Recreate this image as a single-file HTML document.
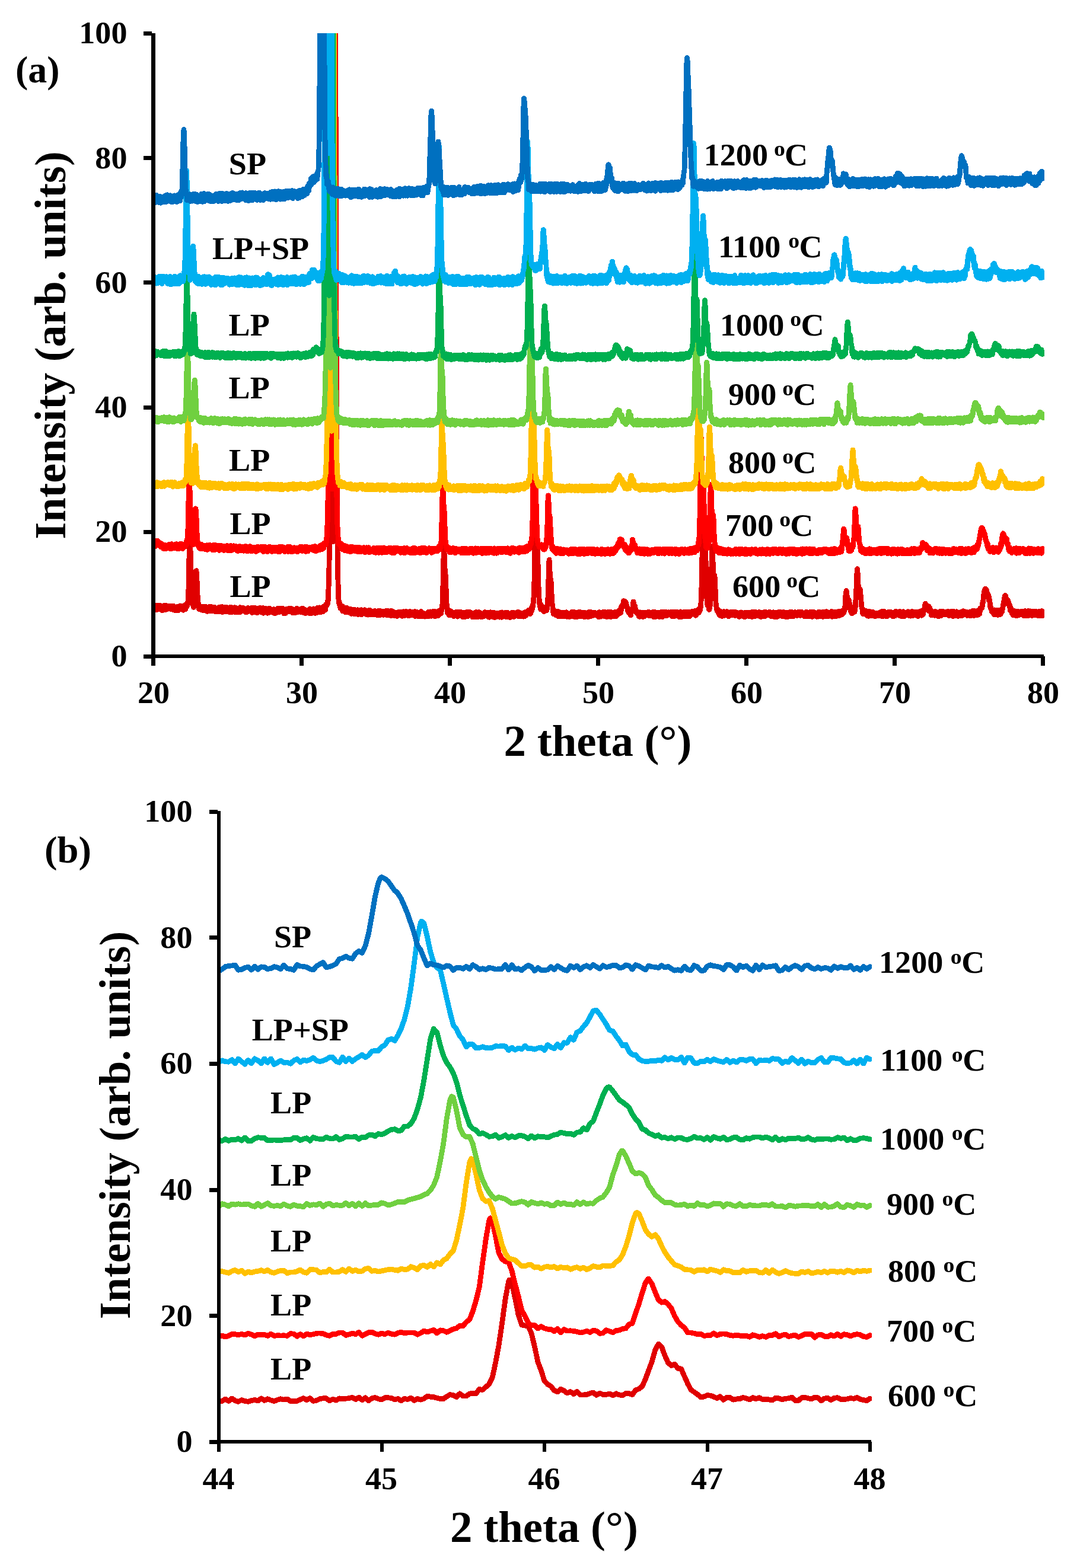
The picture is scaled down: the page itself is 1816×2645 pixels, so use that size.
<!DOCTYPE html>
<html lang="en"><head><meta charset="utf-8"><title>XRD patterns</title>
<style>html,body{margin:0;padding:0;background:#fff}svg{display:block}</style></head>
<body>
<svg xmlns="http://www.w3.org/2000/svg" width="1816" height="2645" viewBox="0 0 1816 2645">
<defs><clipPath id="ca"><rect x="256" y="56" width="1505" height="1100"/></clipPath><clipPath id="cb"><rect x="367" y="1300" width="1103" height="1200"/></clipPath></defs>
<rect width="1816" height="2645" fill="#fff"/>
<g clip-path="url(#ca)" fill="none" stroke-width="8.8" stroke-linejoin="round" stroke-linecap="round" shape-rendering="crispEdges">
<path d="M258.5,1028.1l.5-2.7.5-2.8.5.6.5-.2.5 2.6.5-3.2.5 2.4.5 4 .5-3.3.5 3.6.5-7.8.5-.1.5 5.4.5.2.5-4 .5 5 .5.2.5-.1.5-1.4.5-2.4.5-3 .5 6.7.5-6.6.5 3.6.5-3.1.5.8.5 5.8.5-4.3.5 4.6.5 1.1.5-3.4.5-3.4.5 1.9.5 3.3.5-5.7.5-.7.5 6 .5-1.8.5-1.7.5-2.3.5 6.8.5-3.7.5-3.7.5 3.2.5-.9.5-.5.5 2.4.5 1.9.5-2.7.5.6.5 1.6.5-4.5.5 4.4.5-1.1.5-2.4.5-.5.5-.6.5 2.1.5 3.5.5-5.2.5-.6.5 1.8.5-.5.5 2.3.5.1.5-.7.5 3.8.5-4.7.5-1.6.5 6.2.5-5.2.5.4.5 5.2.5.6.5-4.8.5 3.3.5-.8.5-2.7.5-.3.5-.9.5 1.6.5 2.1.5 2.8.5-.9.5-.7.5-2.9.5-1.7.5 4.5.5-1.7.5-4.8.5 4.7.5-2.8.5.8.5-.3.5 1.5.5-.6.5-1.4.5 4.7.5-5.7.5-.7.5 7.2.5-1.4.5-.6.5 1.3.5-.6.5-4.6.5 4.4.5.2.5-8 .5 4.4.5-1.7.5 0 .5.4.5-2 .5.8.5-5.9.5-1.5.5-7.3.5-15.1.5-24.1.5-32.3.5-23.8.3-8.2.2-2 .5 7.3.5 14.4.5 25.5.5 17.2.5 24.7.5 14.4.5 8.1.5 4.1.5-3.2.5.9.5 4.5.5 3.2.5 1.9.5-1.1.5-3.3.5-5.8.5-5.4.5-11.2.5-12.5.5-11.4.5-11 0 .3.5-.6.5 7.7.5 5.5.5 19 .5 6.6.5 11 .5 1.8.5 9.1.5-4.7.5 9 .5-5.8.5.8.5 2.1.5 3.3.5-1.6.5-.4.5 2.3.5.6.5-5.9.5 2.7.5 2.6.5-3.1.5 0 .5 4.5.5-3.9.5.1.5 4.2.5-1.6.5-4.9.5 2.5.5 3.2.5-1.5.5-.5.5-2.2.5-1.3.5 6.9.5.4.5-3.5.5 3.8.5-1.2.5.5.5.1.5-4.7.5 4.7.5-4.1.5-3.5.5 7.3.5-5.4.5 1.5.5 3.7.5-6.9.5 1.9.5 3.2.5-4.5.5 7 .5-6.4.5-.1.5 6.4.5-7 .5 1.2.5-1.2.5 5.6.5-4 .5-.3.5 3.8.5 2.8.5.2.5-4.3.5-.4.5 3.8.5-4.5.5 5.1.5-3.7.5-.3.5 2.7.5 1.4.5-7.5.5.5.5 2.3.5 5 .5-4.4.5-3.9.5 1.8.5.7.5 5.7.5-4.7.5 3.1.5-6.7.5 8.7.5-1.9.5-5.8.5 6.7.5-1.5.5-.1.5-5 .5 1.6.5-2.1.5 6.6.5.9.5-2.2.5-3.7.5 1.3.5-2.8.5 2 .5 5.6.5-2.1.5 1 .5-.5.5-3.5.5 1.9.5-2.7.5 6.5.5-7.8.5 6.6.5-5.1.5-.9.5 7.1.5-4.4.5-3.8.5 8.5.5-4.3.5.7.5.4.5 1.6.5.2.5-.8.5.5.5-.7.5-5.3.5-.4.5 6.1.5 2 .5-2.1.5-5.2.5 6.1.5-4.3.5 5 .5-2.3.5 1.7.5-4 .5 2.2.5-3.5.5 2.2.5 1.1.5 3.3.5-7.2.5 7.1.5-4 .5-4.3.5 1.7.5 3.9.5-5.1.5 6 .5-2.9.5.1.5-1.3.5 3.9.5-1 .5.7.5-5.3.5 1.6.5 3.6.5-3.9.5 1.4.5 3.3.5-2.2.5 3.6.5-1 .5 1.2.5 0 .5-4.7.5-1.9.5-.1.5 5.5.5-6.4.5 5.4.5-3.1.5.8.5 1.1.5-1.9.5-1.7.5 1.7.5 1.6.5-3 .5 1 .5 3.3.5-5.3.5 5 .5 3.3.5-8.2.5.2.5 3.6.5-1.8.5.5.5 5.2.5-6.1.5 1.5.5-3 .5 4.3.5 1.8.5-4.3.5 1.9.5-2.8.5 7.3.5-5.6.5-2 .5 6.5.5.8.5-3.5.5-1.5.5.2.5.9.5 1.7.5-3.2.5-2.5.5 4.3.5 1 .5-5.1.5 7 .5-3.4.5-2.4.5.4.5.4.5.6.5 2.1.5-4.6.5 8.5.5-3.7.5-.2.5-2.4.5 3.9.5.8.5-2.2.5-1.7.5 1 .5-3.1.5 3.6.5 2.4.5-3.9.5 2.2.5 3.3.5-3.3.5 2.5.5-4.6.5-2.3.5 1.5.5-2 .5 7.2.5-6.1.5.6.5 4.7.5-2.1.5 2.7.5-1.2.5-1.9.5 1.2.5 0 .5-2.8.5.3.5 4.9.5-4 .5-1.8.5 6.6.5-6.3.5 6.4.5-3.6.5.5.5 3.2.5-.5.5-5.3.5 3.6.5-2.2.5 3.1.5-4 .5-2.8.5 1.7.5 3.4.5-5.2.5 5.3.5.7.5-1.3.5-4.9.5 5.2.5.9.5-2.2.5-.8.5-1.1.5.4.5.4.5 2.3.5-.2.5-4.8.5 4.3.5-2.4.5 3.6.5 3.1.5-3.4.5-1.1.5 1.1.5 1.6.5.5.5 1 .5-5.8.5 1.6.5-2.6.5-.4.5 1 .5-.4.5-.9.5-.1.5.8.5-.6.5 4.8.5-5.7.5.9.5.7.5-.3.5.9.5 1.5.5.5.5-3.6.5 5.7.5-3.2.5-2.5.5 5.9.5 1 .5-1.4.5-1.1.5-.6.5 2.4.5-.1.5.9.5-2.9.5 2.9.5-1.8.5 1.6.5-4.1.5.1.5 3.5.5-6.8.5 6.3.5-5.5.5 5.4.5-2.3.5-.3.5.1.5 2.1.5-3.9.5 1.4.5.6.5.7.5 1.7.5-1.1.5-2.8.5.2.5-2.5.5 2.3.5-2.3.5 5.8.5.5.5-6.4.5 5.1.5-1.4.5-2.5.5 6.5.5.1.5-3.1.5 2.3.5 1.3.5-5.8.5 1.4.5.9.5-1.7.5 3 .5-.8.5.5.5-2.7.5 1.6.5-1.1.5.3.5-.2.5 4.6.5-6.5.5-1.2.5 7.4.5-5.9.5 1.5.5-1.6.5 6.4.5-.2.5-4.5.5-.1.5 3.9.5-5.9.5 5.9.5-7 .5.8.5.6.5-1.2.5 5 .5-2.9.5 5.2.5-6.5.5 5 .5 1.1.5-6.4.5 6.2.5-5.2.5-2.9.5 3.6.5-.1.5-2 .5.1.5 2.1.5 3.8.5-8.3.5 2.2.5 2.1.5-1.8.5 3.5.5.1.5 1.5.5-3.3.5-1.6.5 3.9.5-.9.5-2 .5 3.2.5-7.4.5 5.5.5-6.8.5 2.6.5 2 .5 1.8.5-5.3.5 4.7.5-2.9.5-6.3.5 1 .5.4.5.3.5-1.3.5-2.6.5-3.6.5 3.1.5-13.5.5-11.2.5-13.4.5-24.4.5-38 .5-62 .5-81.3.5-119.7.5-147.7.5-185.9.5-220.8.5-169.1 2.5 0 .5 983.8.5-983.8 3 0 .5 218.7.5 212.7.5 175.7.5 140.8.5 109.2.5 77.9.5 57.2.5 40.4.5 18.7.5 22.1.5 8.5.5 2.2.5 5.3.5-2.4.5 6.6.5-.7.5 3.4.5-5.1.5 4.8.5-2.7.5.3.5 2.9.5 3.3.5-7.1.5 8.5.5-6.7.5 6.2.5-2.1.5.1.5.4.5-1.3.5-.5.5.1.5 5.6.5-2.5.5 1.8.5-6.8.5 4 .5-3.9.5 7.1.5-4.1.5 1.6.5 1.8.5 1.3.5-3.6.5-2.4.5 3.6.5-.1.5-3.7.5 6.1.5-.7.5-4.6.5 7.1.5.5.5-5.5.5 1.7.5-3.7.5 3.1.5 2.6.5-3.3.5 1.9.5-1.5.5 3.8.5 1.2.5-7.4.5.7.5 6.1.5.5.5-6.4.5 1.1.5 2.4.5-3.5.5.3.5 0 .5-.8.5 1 .5 7.1.5-5.6.5 4.9.5-7 .5.6.5 2 .5 1.5.5-2.2.5 3.5.5-3.4.5-2.4.5 8.2.5-3.1.5-3.7.5 5.6.5-1.5.5-4.1.5 2.2.5 2.8.5-1.2.5.3.5-1.2.5-4.3.5 6.6.5-.6.5-5 .5 3.6.5-1.4.5-1.9.5 6.8.5-.7.5.3.5-.2.5 1 .5-1.5.5-6 .5.2.5 1.9.5 1.5.5-2 .5-1.9.5 6 .5-3.9.5 5.3.5-2.2.5-1.3.5-.8.5 3.7.5-1.8.5 2.2.5-1.7.5-3.9.5 5 .5-.8.5-2.4.5 3.7.5-6.1.5 4.9.5.3.5-.2.5-1.2.5.1.5.4.5-.1.5 2 .5 1.2.5-7.1.5.3.5.8.5 2.3.5-4.2.5 7.4.5.7.5-7.7.5 3.4.5 0 .5.2.5-1.7.5.5.5-.7.5 2 .5-2.4.5 1.1.5-1.4.5.5.5 5.7.5-2.8.5-2 .5-.3.5 2.4.5-1.3.5-2.6.5 5.9.5-.4.5-.3.5 1.4.5-4 .5.2.5-3.6.5 4.1.5 2.6.5 1.2.5-4.4.5 4.1.5.1.5-3 .5-3 .5 4.6.5.2.5 2 .5-8.1.5 1.5.5 2.4.5 4 .5-7.7.5 3.1.5-1 .5.4.5 1 .5 1.3.5-3.1.5 6 .5-1.6.5-2.6.5 1 .5-.4.5-.5.5 4 .5-.5.5 1.4.5-5.8.5.2.5 5.6.5-1.6.5-1.1.5-4.1.5.4.5 5 .5-2.4.5-1.1.5-1.9.5 5.4.5-.2.5-4.9.5.7.5 3.4.5.5.5-1.7.5 3.6.5-5.2.5-1.4.5 5.1.5-5.9.5.3.5 7 .5-6.2.5-.1.5 1.6.5 3.3.5-2.2.5-4.2.5 3.1.5-3.2.5 1.3.5 2 .5-2 .5 3.1.5 3 .5-3.7.5 3.2.5-1 .5 2 .5-3.9.5-2.2.5-1.9.5 2.1.5.4.5-.4.5 4.7.5-3.4.5-2.6.5 2.3.5 2.4.5-3.1.5-1.3.5 4.1.5 1.7.5-1 .5-3.4.5 4.7.5-.1.5-6.6.5 8.1.5-.5.5-6.2.5 1.3.5-1.9.5-.4.5 6.6.5-4.9.5 4.1.5-3.5.5 5.5.5-6.3.5 4.9.5-3.9.5 1.7.5-1.7.5 2.2.5 3.4.5-2.5.5.5.5-6.6.5 8.4.5-6.4.5 5.6.5-1.7.5-3.3.5 1.3.5 4.6.5-2.2.5-.1.5-3.1.5 1.2.5.5.5 3.9.5-3.7.5-.2.5 2.8.5-3.7.5 3.7.5-2.1.5 2.2.5-2 .5 2.4.5-4.3.5-.3.5-3 .5 5.6.5 1.7.5-2.6.5-2.9.5 4.4.5-6.3.5 6.1.5-3.4.5 4.7.5-4.1.5-1.7.5 2.3.5 1.9.5-2.5.5-3.7.5 6.4.5-4.3.5 1.8.5-4 .5 6.3.5-5.1.5 7.2.5-8.1.5 7.8.5-2.5.5.9.5-.5.5-5.4.5 5.8.5-3.3.5-.3.5 4.7.5-6.3.5-2 .5 3.8.5 2.6.5-1.1.5-2.7.5-3.8.5 1.5.5 3.6.5.6.5-6.2.5.9.5-.5.5-7.9.5-2.1.5-15.6.5-18.4.5-24.7.5-22.3.5-14.9 0-.4.5 6.6.5 17.1.5 13.1.5 1.6.5 5.7.5 8.7.5 13 .5 17 .5 11.9.5 2.8.5 5.6.5 7.8.5-.5.5-2.1.5 4.1.5-6.3.5 8.7.5-7.2.5 0 .5 5.1.5.4.5-1.7.5 3 .5-6.5.5 3.2.5 1.3.5 2.2.5-2.7.5-.1.5-1.1.5.1.5 0 .5 5.8.5-3.5.5.9.5-3.5.5 5 .5-.8.5.4.5-.3.5-5.5.5.5.5-.8.5 5.6.5-.8.5 3.4.5-5.1.5 1.7.5.7.5-4.4.5-1.1.5 2.8.5-.6.5.5.5-1 .5 2.1.5-3.3.5 6.7.5-4 .5 1.4.5 1.5.5-3.3.5 5.7.5-7.5.5.9.5 5.7.5-6.5.5 4.8.5-3.3.5 6 .5-6.8.5.6.5 3 .5.3.5-1.1.5 3.4.5-7.6.5 4.2.5-1 .5.4.5 3.6.5-4.8.5-2.2.5-.3.5 4.9.5-.1.5-4.8.5 1.8.5 1 .5 0 .5-1.7.5 5 .5-.3.5.1.5 1.3.5-3.6.5 5.2.5-5.4.5 2.9.5-1.1.5 2.4.5-6.1.5 5.6.5 1.4.5-6.7.5 6.8.5-2.3.5-6.2.5 7.3.5-3.2.5-1.5.5 1.3.5.3.5-2.1.5 6.3.5-2.4.5 1.3.5-7.1.5.7.5 6.1.5-3 .5-1.6.5 1.7.5-1.8.5-.2.5 6.3.5-.5.5-1 .5.1.5.9.5-1.6.5-1.2.5 0 .5 2.4.5-3.5.5-.6.5 3.1.5-6.3.5 2.9.5-2.5.5 4.1.5-2.4.5 1 .5-2.3.5 5.2.5-.8.5-4.5.5 5.9.5-1.5.5 1.4.5 1.9.5-8 .5 8.3.5-4.8.5.2.5-2.9.5-1.1.5 2.4.5 1.9.5-3.5.5 6.2.5-3.9.5 2.9.5-5.4.5 7.6.5-4.7.5 2.9.5-6 .5 6.8.5-4.8.5 6.3.5-2.1.5-1.1.5-2.3.5-1.3.5 2.9.5 2.8.5-1.7.5 1.8.5-6.4.5 3.7.5-.2.5-2.3.5.7.5 1.2.5.9.5-1.7.5 4.9.5-6 .5 3.9.5-.2.5 2.1.5-8 .5 4.7.5 3.6.5-8.5.5 1.7.5-.1.5 6 .5-.8.5-4.6.5 1.6.5-1.5.5.3.5.3.5-2 .5.2.5 2 .5 4.5.5-3.5.5.2.5.6.5-4.4.5 3.6.5-3 .5-.2.5 1 .5 6.2.5-4.7.5 2.3.5-3.4.5 5.6.5.8.5-6.1.5.4.5 0 .5 4.8.5-4.9.5-2.1.5.2.5 2.8.5 1.7.5-4.8.5-.4.5 1.3.5 2.9.5 3.1.5-2.8.5-3 .5 4.7.5-1.4.5.3.5-3.9.5 4 .5-2.2.5 2.6.5-6 .5 6.5.5-5.6.5 3.9.5-3 .5-1.9.5 7.4.5-1 .5.1.5-.1.5-4.8.5 4 .5-2.3.5 3.6.5-3.4.5 1.9.5-3.8.5 3.1.5 2.3.5-3.4.5 2 .5 2 .5-4 .5-1.4.5-1.3.5.2.5 6 .5-3.3.5.6.5-4.7.5 1.7.5 3.6.5-3 .5-2.4.5 1.1.5.1.5.3.5-4 .5.7.5 3.7.5-5.1.5.7.5 3.6.5-.7.5 3.1.5-7.5.5 5.8.5-2.7.5-5.8.5-1.1.5 5.3.5-4.3.5.1.5-5.4.5-.7.5-5.7.5-7.3.5-14 .5-13.3.5-26.2.5-41.5.5-41.7.5-30 .1-2.4.4 5.9.5 25.4.5 29.4.5 12.1.5-.2.5 3.3.5 14.1.5 19.4.5 21.6.5 18.2.5 17.3.5 5.1.5 5.2.5 6.5.5 3 .5-2.9.5 6.6.5.8.5-7.9.5 4.5.5 1.7.5-.4.5 3 .5.7.5-1.8.5-2.6.5-1 .5 7.5.5-2.6.5-3.5.5 2.2.5-3.3.5 4.4.5-2.6.5-1.9.5 2.8.5 2.7.5-.4.5-2.4.5-7.4.5-9.1.5-3.2.5-17 .5-16.2.5-20.4.5-9.7 0 .2.5 4.3.5 11.7.5 14.5.5 1.4.5 1 .5 1.8.5 8.1.5 13.1.5 6.4.5 12.5.5.3.5 4.5.5 7.9.5-3.9.5 7.9.5-1.2.5-.2.5-4.2.5 1.7.5.8.5-.5.5 2.5.5 1.9.5 1.4.5-5.4.5 3.5.5-.2.5 1.9.5-6.8.5 7.1.5 1.6.5-2.8.5.9.5-.3.5 2 .5-6.9.5 3.5.5-2.7.5 1.1.5 5.1.5-6.7.5 4.8.5-4.4.5 3.6.5.6.5 2.4.5-.4.5-.3.5-3.4.5-2.9.5 6.8.5-6.9.5 4.7.5-4.7.5 4.9.5 1.4.5-.3.5-6.2.5.7.5 6.8.5-3.7.5-1.6.5 1.3.5-.5.5-.5.5 4.5.5.2.5.7.5-.3.5-2.7.5-.9.5 2.4.5-4 .5.7.5.3.5-1.9.5-2.2.5 7.6.5-7.2.5 5.7.5-3 .5 2.1.5-4.6.5 0 .5 6.8.5 1.1.5-4.4.5 1.3.5-2.9.5.3.5-1.3.5 1.1.5.4.5 5.4.5-3.9.5-2.1.5.7.5-.9.5 1.5.5-3.3.5 2.5.5-2.5.5.8.5 6.9.5-7.4.5 7 .5-4.5.5-2.3.5 5.6.5-3.4.5.8.5-2.3.5.3.5 5.1.5.6.5-5.8.5 6.1.5-6.9.5 7.8.5-4.6.5-2.3.5 6.1.5-3.2.5-.5.5 1.7.5-2.2.5 3.4.5 1 .5-1 .5-5 .5-1 .5 5.3.5 1.9.5-2.8.5-2.4.5-3.1.5 5.7.5-1 .5-2.8.5 5.8.5-7 .5-.1.5.7.5 4 .5-3.3.5.9.5-1 .5 4.3.5-5 .5 1.1.5 2.5.5-2.9.5 3.6.5-4.4.5.5.5 1.6.5.4.5 1 .5-1.6.5 1.2.5 1.1.5 1.4.5-2.8.5 0 .5.8.5 4.1.5-.3.5-7.7.5-.3.5 5.5.5-4.7.5 1.3.5 5 .5-2.5.5 3 .5-2.4.5-2.2.5-1.1.5-1.2.5 2.2.5-3.1.5 4.8.5-1.4.5-2.4.5 5.1.5-6.4.5 7.8.5-4.8.5 1.2.5-2.4.5 3.2.5 1 .5-1.7.5 4.3.5-7.8.5.8.5.4.5 2.5.5 2.9.5-7.2.5 7.9.5-6.6.5 1.6.5 2.5.5-4.9.5 2.4.5 5.4.5-7.9.5-.2.5 2.4.5 3.7.5-.2.5-.6.5 1.2.5-1.9.5 2.8.5-4.7.5-1.8.5 4.5.5.9.5-6.3.5 6.9.5-2.5.5-.4.5 3.5.5-5.8.5.7.5-1.5.5 4.3.5-5.2.5 1.6.5-.9.5 1.9.5-1.7.5 1.1.5.6.5-6.2.5 5.8.5-.8.5 0 .5 0 .5-3.1.5-7.3.5 5 .5-6.7.5.7.5.9.5-1.4.5-3.2.5.8.5-6.1.5 2.7.5 5 .5-1.1.5-6.1.5 7.8.5 0 .5-1.6.5-3.5.5 6.3.5 1 .5-2.3.5 2.3.5.3.5 5.2.5 2.1.5-4.5.5 6.1.5-3.5.5-.1.5 4.9.5-1.5.5 2.9.5-2.9.5 4.8.5-2.4.5-2.4.5-1.4.5-.3.5-1.9.5-2.9.5 1.6.5-10 .5-3.1.5 3.3.5 1 .5 1.8.5 8.1.5-.4.5-5.7.5 8 .5-2.3.5 2.9.5.3.5 2.3.5.4.5-2.9.5 1.7.5 0 .5-1.3.5 2.9.5 4.3.5-3.9.5-1.2.5 6 .5-2.2.5-5.2.5 2.8.5 2.9.5-.8.5-1.7.5-3.2.5 7.3.5-3.9.5 2.6.5.6.5 1 .5-4.3.5 1.1.5-4 .5 6.6.5-.4.5-.7.5-2.3.5.8.5-1.5.5-1.7.5-.8.5 2.1.5-.9.5-.7.5 1.5.5-2.7.5 2.7.5-2.9.5 4.2.5 2.1.5-5.5.5 4 .5.3.5-1.4.5-.9.5 1.3.5-2.2.5 2.6.5-3.4.5 5.4.5.2.5-6.5.5 5.3.5.6.5-1.5.5 3.8.5-1.4.5-.9.5-6.1.5 3.9.5 0 .5 4.1.5-3.7.5-1 .5.1.5 4.1.5-6.6.5 1.5.5-1.2.5 5.1.5-4.8.5 5.9.5-.4.5-3.1.5 4.5.5-6.7.5 4.7.5-4.1.5.4.5-2.6.5 6.1.5-6.5.5 4 .5 4.5.5-8.1.5 3.2.5-2.8.5 2.8.5-1.3.5 2.1.5-3.7.5 1.1.5 2.1.5-.6.5 3.3.5.2.5-6.3.5 5.5.5.8.5-.6.5-.4.5-3.9.5 1.4.5-.3.5-2.4.5 3.2.5-.6.5 1.1.5.5.5-3.8.5 3.5.5-2.4.5-1.7.5 2 .5.8.5.4.5 3.9.5-1.6.5-5.5.5.6.5 1.9.5 2.8.5-3.1.5 5 .5-4.5.5-2.8.5-.1.5 1 .5 5.4.5-2.2.5 2.1.5-5.9.5 1.3.5-2 .5 5.8.5-1 .5-3.5.5 2.5.5 2.7.5 1.3.5.6.5.2.5-1.4.5-1.5.5-2.3.5-3.5.5 8.3.5.1.5.2.5-6.6.5.8.5 2.6.5-1.3.5-3 .5 5.9.5-6.3.5 6.3.5-5.1.5-1.3.5 7.6.5-2 .5-.5.5-5.3.5 7 .5-6.9.5 3.4.5 3.7.5-6.1.5 4.5.5 2.2.5-5.8.5 2 .5-4.3.5 0 .5.5.5 7.4.5-3.2.5-4.6.5 2.4.5 1.3.5-.5.5-3.4.5-.2.5 4.8.5-5.4.5 3.9.5-3.9.5 3.6.5-3.5.5 1.7.5-1.9.5 3.6.5.6.5-1.2.5 3.3.5-7.1.5 8 .5-3.8.5 3.2.5-6.7.5 3.6.5-.9.5 1.4.5-5 .5-1.2.5-1 .5.9.5 4.5.5-6.8.5 4.2.5.2.5-2.6.5-1.1.5-5.4.5-4.8.5-10.6.5-17.8.5-22 .5-31.7.5-42.8.5-33 .5-15.2 0-.5.5 11.6.5 24.6.5 27.4.5 20.9.5 6.7.5 1.9.5-7.3.5 2.8.5 8.9.5 22.1.5 17.7.5 13.4.5 19.4.5 1.6.5 6.6.5-.3.5-.1.5 2.3.5.2.5 4.6.5-.2.5-3.3.5-4 .5.8.5-9.4.5-10.2.5-14.4.5-18.6.5-15.8.5-23.5.5-8.5 0-.2.5 6.4.5 18.2.5 12 .5 15.9.5-.2.5 4.2.5-7.5.5.5.5 13.4.5 6.6.5 15 .5 10 .5 5.6.5 3.5.5 1.6.5 4 .5-1 .5-1.7.5 3.4.5 1.4.5 2.4.5-4.8.5 1.8.5 5.7.5-6.2.5 1.2.5.2.5-1.2.5 7.7.5-6.3.5 1.9.5 2.1.5 2.8.5-1.3.5-.4.5.3.5-1 .5-2.9.5-2.8.5 7.3.5-2 .5.1.5-2.3.5 2.6.5-.1.5-.4.5.2.5-1.1.5-4.3.5 4.9.5-1.5.5.5.5.6.5 3.9.5-4.9.5 3.4.5-.7.5 1.2.5-3.9.5 1 .5-1.9.5-1.9.5 2.3.5-.1.5 1.8.5-4.2.5 5.4.5.3.5-4.2.5-1.4.5 5.7.5-5.2.5 2.7.5 2.2.5-1.5.5-4.1.5 6.5.5-2.1.5-1.1.5-2.3.5 4.8.5-2.3.5-1.2.5.4.5-.9.5 3.2.5 2.3.5-1.2.5 1.3.5-3.8.5 5.1.5-.5.5-1.5.5-5.2.5 1.4.5 2.5.5-4.5.5 3.4.5.6.5 1.5.5-.5.5.8.5-4.1.5 5.2.5-4.1.5 2.4.5-.7.5 3.3.5-6.9.5 6.7.5-3.8.5 3.3.5-6.6.5 1.6.5 2.7.5 1.7.5-3.1.5-.5.5-2.6.5 3.2.5-.9.5-1 .5 5 .5-5.5.5 1.1.5-.2.5 3.4.5-5.3.5 7 .5-6.2.5-.9.5 5.6.5-4.4.5 6.5.5-7 .5-1 .5 6 .5 1.6.5-5.5.5-2 .5 2.7.5 3.7.5-4.4.5-2.5.5 7.3.5-5.8.5 4.8.5-2.7.5 2.8.5-1.2.5.3.5-4.3.5 2.2.5-.1.5 3.2.5-2 .5-2.5.5-1.9.5 5.2.5-3.2.5.4.5 3.1.5 2.7.5-4 .5-2.9.5 6.8.5-4 .5 1 .5-1.8.5-.7.5 3.7.5-3.2.5 3.1.5-3.2.5-2.8.5 5.3.5 2.4.5-2.1.5-3.8.5 4.5.5-1.4.5-4.7.5 1.4.5 4 .5-2.4.5-1.9.5-.4.5 3.5.5-3.9.5 4 .5-4.2.5 1 .5 3.5.5-5 .5.4.5 2.1.5 1.2.5 2.3.5 1.9.5-1.6.5-4.1.5 1 .5 4.4.5-2.2.5-4.7.5-.2.5 4.3.5-1.5.5-1.7.5 6.7.5-4.4.5 3.9.5-4.9.5-.5.5 1.9.5-1.5.5 5.7.5-7.8.5 5 .5-2.5.5 2.1.5 2.1.5-7.2.5.2.5 2.7.5 2.6.5.9.5-2.9.5.6.5-3.3.5-.7.5.6.5.5.5 1.4.5-1.2.5.1.5 1.6.5 4.5.5-1.4.5-4.7.5-1.6.5 5.5.5-2.3.5 2.1.5.7.5-1.8.5-1.5.5 5.6.5-5.9.5-1.1.5 4.8.5 1.3.5-4.8.5-.6.5 6.1.5-5.2.5 4.2.5-2.9.5.3.5-.7.5-3.7.5 7.2.5 0 .5-1.4.5.5.5-6.3.5 4.5.5-4.2.5-.3.5 6.6.5-1 .5 2 .5-1.6.5-3.8.5 3.7.5.2.5-3.9.5-1.1.5-1.1.5.6.5 4.7.5-4 .5 3.5.5.1.5.5.5 1 .5-5.2.5.1.5 1.3.5-2.7.5 4.5.5-4.4.5-.3.5 3.2.5 2 .5-5.4.5 6.6.5-2.5.5-1.2.5.1.5 1.8.5-4.2.5 2.9.5 1.8.5-2.4.5-.4.5 3.5.5-1.4.5-2 .5 5.1.5-4.6.5 3.9.5-.8.5-1.6.5-3.8.5 6.9.5-.5.5-6.7.5 1.1.5 1.6.5 3.5.5.3.5-.2.5.9.5-1.9.5 2.4.5-.4.5.3.5-5.2.5 2.7.5.7.5-6.2.5.5.5 2 .5 1.4.5 2.2.5 2.4.5-1.9.5.7.5-.1.5-2.8.5-2.3.5-1.7.5 5.4.5 1.2.5-2.9.5 1.1.5-1.6.5-.4.5 4.3.5-.6.5 1.3.5-.7.5-3.8.5-1.4.5-.2.5 6.1.5-1.1.5-.4.5-6.7.5 4.6.5-2.4.5 2.1.5-2.5.5 2.6.5 1.7.5 2 .5-4 .5-2.9.5 6.1.5-6.8.5-.4.5 8.2.5-.1.5-2.3.5-5.3.5 0 .5 3 .5 2.5.5-1.2.5-.4.5 3.6.5-7.5.5 2.7.5-3.6.5 7.9.5-.1.5-2 .5.2.5 2 .5-.1.5-5.9.5-.1.5 4.4.5-2 .5-3 .5 4.5.5-3.3.5 1.3.5-1.5.5 4.3.5-6.8.5 6.6.5 2.1.5-7.8.5 2.4.5-1.2.5 3.9.5 1.6.5-4.7.5-.1.5-2.2.5 5.9.5 1 .5.4.5.6.5-.1.5-7.6.5 6.6.5-2.2.5-4.2.5 1 .5 3.1.5-1 .5-3.9.5 6.9.5-4.1.5.2.5 3.8.5-7.2.5 4.5.5-1 .5-3 .5 1.4.5 3 .5-4.2.5 4.9.5-.8.5-6.1.5 1.6.5 0 .5-2 .5 4.3.5-4.7.5 1.2.5.5.5-6.3.5-1.9.5-11.5.5-9 .5-2.2.5-3.6 0-.1.5 2.3.5 3.3.5 8.8.5-.2.5 8.4.5-2.2.5 1.2.5-3.5.5-2.3.5 2.2.5 6.9.5 3.9.5-3.1.5 8.5.5-1.5.5 3.4.5.7.5 1.6.5-.1.5-5.4.5 1.7.5-2.1.5.7.5 2.6.5 0 .5-1.2.5.9.5.4.5-4 .5-1.4.5-8.7.5-7.5.5-7.5.5-12.8.5-11.2.5-14.6.5-4.8 0 0 .5 4.6.5 9.1.5 11.3.5 6.5.5 12.8.5-5.7.5-.8.5.3.5-2.4.5-1.5.5 7.1.5 7 .5 4.6.5 9.5.5 2 .5 2.4.5-.3.5 6.9.5 2.7.5-.5.5-3.7.5.3.5-.2.5-2 .5 6.2.5-4.7.5 3 .5-2.7.5 3.6.5-3.1.5 4.8.5-6 .5 3.4.5 4.6.5-6.4.5 5.6.5-2.4.5 3.7.5-7.7.5 4.2.5.7.5-3.6.5 5 .5-6.1.5 6.2.5.4.5-4.1.5-1.6.5 2.1.5 2.3.5-5 .5 6.6.5-1.3.5-1.7.5 1.9.5 1 .5-2.3.5.8.5 2.7.5-5.6.5 5.6.5-1.3.5-.8.5-2.7.5 1.6.5-2.1.5 2.5.5.7.5-.2.5-.8.5 1.1.5 1 .5-.4.5-3 .5 1.3.5-3.6.5 2.8.5-3.5.5 5.4.5-4.8.5 4.9.5-6.5.5.1.5 8.4.5-2.5.5 2.4.5-4.5.5 1.4.5-3.4.5 5.8.5-7.7.5 4.1.5-2.1.5.5.5 1.8.5 2.8.5 1 .5-6.4.5 1.9.5-.6.5 5.1.5-6.1.5 3.6.5-3.2.5 3.9.5-3.4.5-2.2.5.5.5 2.2.5 3.3.5-6.2.5 3.8.5.5.5-1.5.5-.2.5 3.9.5.1.5-4.5.5 2.4.5 3.4.5-1.4.5-3.8.5-.6.5 2.9.5-4 .5 6.3.5-3.5.5-1.7.5 1.3.5-4 .5 4.9.5.5.5-4.3.5 3.9.5.4.5-2.2.5-.8.5 3.7.5-.8.5.2.5-1.8.5-.7.5-2.7.5 7.5.5-4.5.5-1.7.5 6.3.5-.2.5-.5.5-2.7.5 4 .5-2.9.5 1.6.5-1.4.5-5.4.5 5.1.5-.5.5 1.6.5 1.6.5-1.5.5-.3.5-.1.5-1.8.5.6.5-1.7.5-.1.5.7.5 1.3.5.9.5-3.6.5-2.2.5 2.2.5 1 .5 2.9.5-5.6.5 6.6.5-3 .5-3.4.5-.5.5 7.3.5-5.2.5-2.1.5 2.6.5-3.1.5.2.5 7.3.5-5.5.5 4.9.5-.1.5-5.7.5 4.9.5-.3.5-3.4.5.4.5-1.9.5 2.2.5 1.1.5 2.1.5-3.3.5 4.3.5-6.6.5 2.2.5 1.4.5 3.7.5.2.5-2.9.5-1.1.5-3.5.5 1.5.5-.4.5.1.5 4.6.5-6.9.5 6.8.5-7 .5 2.6.5 4.9.5-6.4.5 4.7.5-2.9.5-2.7.5 5.4.5-5.2.5-1.3.5-1.6.5-1.1.5 2.6.5-9.1.5-1 .5-1.5.5 3.1.5 1.6.5 1.6.5-1 .5 3.9.5-.2.5-2.2.5 4.4.5-5.5.5 2.6.5-3.7.5 8.1.5-.4.5-5.5.5 6.2.5-3.1.5 4.1.5-.6.5-1.9.5 8.2.5-6.5.5.5.5 4.4.5 1.9.5-1.9.5-3.7.5 4.8.5-.4.5-3.2.5 2.7.5 1.8.5-6.8.5 3.9.5.5.5-4.1.5 1.1.5 1.2.5.1.5 4.6.5-.9.5-4 .5 5.5.5-6 .5 4.5.5-3 .5-.6.5 5 .5-5.2.5-1.1.5-1.6.5 7 .5-5.7.5 5.8.5-5.1.5 1.1.5-2.5.5.7.5-1.6.5 1 .5 1.4.5 3.6.5-3.5.5-.5.5.1.5-.1.5 3.4.5-4.3.5.4.5.1.5.8.5.7.5 2.7.5.2.5-3.7.5-2.2.5 3.9.5.8.5 0 .5 2.8.5-1.6.5-4.5.5 1.2.5 2.1.5-1.1.5 1.3.5-4.5.5 3.9.5-2.7.5.2.5.7.5-2.3.5 8.3.5-2.4.5-5.9.5 5.5.5 1.5.5-5.6.5 1.8.5 2.2.5 1.4.5.5.5-.6.5-.1.5-2 .5-4.1.5 4.1.5-3.1.5-.1.5 3.7.5 2.9.5-5.7.5 3.6.5-1.8.5 1.9.5 1.6.5-5.1.5 0 .5 0 .5-.1.5-1.5.5 6.8.5-1.7.5-1.4.5-2.4.5 2.5.5-2.3.5-2.9.5 1 .5 5.4.5-3.2.5-2.5.5 2.8.5.8.5-1.4.5-1.5.5 4.1.5-4.4.5 4.9.5-3.7.5 5.2.5-.1.5-2.8.5-.9.5 3.5.5-3.2.5 1.8.5-.3.5-1.5.5-1.7.5-1.3.5 7.2.5-.8.5-6.1.5 5.4.5-3.2.5 2.3.5-.1.5 1.6.5-7.8.5 4.8.5.6.5-3.7.5 6.5.5-.3.5-7.2.5-.6.5 4.7.5 2.8.5-.2.5-5.6.5.9.5-2.2.5 4.7.5 2.1.5-3.5.5-1.4.5-2 .5 6.5.5-6.4.5-1.8.5-.1.5 3.6.5 2.5.5-7.2.5-1.8.5.6.5-1.5.5 1.5.5 0 .5-2 .5 1.2.5-6.5.5-3.8.5.3.5-4.7.5-7.5.5 1.7.5-6.5.5-2.8.5-.9.5-.8 0-.7.5-.5.5.8.5 1.3.5-.4.5 1.3.5 2.7.5 2.5.5-1.1.5 4.9.5 2.6.5-4.1.5 8.5.5-5.1.5 3.6.5 1.6.5 2.3.5 7.9.5 3.1.5-1.5.5 1 .5 1.9.5 3 .5 2.4.5-4.1.5 3.2.5-.4.5 1.6.5 1 .5-1.3.5 4.2.5-7.6.5 7.5.5-5.2.5-1.9.5 7.5.5-1.9.5-5.9.5 4.9.5 0 .5-1.8.5 5 .5-7.8.5 8 .5-7.5.5-.2.5 5.9.5-5.9.5 7 .5-7.6.5 4.9.5-2.5.5 4.9.5-1.1.5-1.8.5-1.1.5.3.5-.4.5-5.5.5.7.5-3.2.5-3.4.5-2.9.5-1.8.5-3.2.5-4.1.5-.9.5-3.2.3.4.2-.7.5 1.5.5-.2.5 5 .5-.3.5 2.4.5 2.1.5 3.1.5-3.2.5-2.4.5 1.4.5 5.6.5-2.6.5 2.6.5 4.2.5-1.1.5-.5.5 8.3.5-3.2.5-1.7.5 1.6.5 2.4.5 5.4.5-.2.5-1.5.5.4.5-.5.5 4.9.5-6.3.5 4 .5 1 .5-5.9.5 7.2.5-2.3.5 2.7.5-1 .5.6.5-2.5.5 3.2.5-.2.5-2.3.5-2.1.5-3.1.5 7.3.5-4.5.5.5.5 1.7.5-1.9.5.7.5 1.4.5-1.8.5.4.5-1.4.5.6.5 2.8.5-5.7.5 2.7.5-2.1.5 1.1.5-.1.5 3.5.5-2.7.5 4.9.5-6.9.5 7.7.5-3 .5-.9.5-4.6.5 6.4.5-.9.5-1.2.5 3.6.5-2.6.5.5.5-2.1.5 1.7.5-5.1.5 7.5.5-7.9.5 7.9.5-.4.5-6.2.5 5.5.5-4.6.5.4.5-2.3.5 5.4.5 1.1.5-5 .5-.1.5 6.5.5-.6.5-.9.5-5.5.5 6.2.5-6.7.5 1.9.5.3.5 0 .5 4.3.5 0 .5-6.3.5.1.5 3.1.5-3.3.5 4.3.5.9.5.6.5-3.1.5 2.1.5-4.1.5 6.7.5-2.4.5 2.2.5-6.9.5 6.6.5-.6.5-2.7.5-3.6.5.4.5 7 .5-4.5.5.7.5-1.4.5-2.9.5 8.2.5-5.5.5 4.1" stroke="#E00000"/>
<path d="M258.5,919.8l.5 3.4.5-6.9.5.2.5 3.8.5-2 .5 3.6.5-.4.5-1.1.5-4.2.5 3.6.5-7.3.5 7.3.5-1.7.5.5.5-6.3.5 3.5.5-.8.5 1.7.5-2.2.5 2.6.5 2.5.5-1.3.5 1.7.5 2.3.5-5.8.5 1.7.5.5.5-1.7.5 4.6.5.3.5-.3.5.2.5-2.2.5 5.9.5-4 .5-.6.5 1.7.5 2.9.5-6 .5 6.1.5-4.8.5 3.6.5 1.1.5-1.3.5 1.1.5-.8.5-4.7.5-.3.5 3.2.5-2.5.5 1.5.5-.2.5-3.3.5 5 .5-4.9.5 1.6.5.1.5 6 .5-.7.5.5.5-2.8.5-5.3.5.7.5.3.5 6.4.5-5.2.5-.6.5-.3.5.1.5 5.8.5-.3.5-5.4.5.4.5-1.3.5 3.9.5-3.9.5 6.6.5-7.2.5.7.5 4.8.5 2.4.5-4.3.5-1.2.5 3 .5 2.6.5-2 .5-4.8.5 6.4.5-7.5.5 6.1.5.4.5.8.5-7.7.5.6.5 5.1.5 1.9.5-4.9.5-2.2.5 7.7.5-5.6.5-2 .5 3.4.5-1.2.5-2.2.5 4.8.5-.5.5-3.8.5.6.5-.3.5 1.2.5-6 .5 4.7.5-4.9.5-4.2.5.1.5-5 .5-15.4.5-20.5.5-28.9.5-26.8.3-8.6.2-2.8.5 6.7.5 14.5.5 21 .5 22.8.5 21.6.5 10.2.5 8.8.5 8 .5-1.4.5 3.3.5-2.5.5-.2.5 4.2.5-2.2.5-1.5.5-1.5.5-3.4.5-9.6.5-21.1.5-12.3.5-8.9 0-.3.5.2.5 5.3.5 7.8.5 13.1.5 14.2.5 4.3.5 6.3.5 11 .5-1.2.5.8.5 2.3.5-2.5.5 4.6.5-5 .5-.7.5 7.2.5-5.4.5 3.9.5-3.1.5-.4.5-2.4.5 1.7.5 4.1.5-3.4.5 5.2.5-4.9.5 2.7.5 1.4.5.3.5.2.5-5.1.5 6.2.5-1.1.5.4.5.3.5-5 .5 1.3.5-.7.5-2 .5 4 .5 3.7.5-1.4.5-2.8.5-1.7.5-1.8.5 3.6.5 2.5.5-3.2.5-3 .5 5.4.5-5.3.5.3.5 2.9.5.9.5 3.1.5.2.5.6.5-5 .5-.9.5-2.5.5 3.5.5-3.4.5 5.2.5 2.4.5.7.5-2 .5-2.1.5-4 .5 6.1.5.5.5-4.3.5 3 .5-1.5.5 3.6.5-6.1.5-.6.5 1.5.5-1.6.5 5.3.5 2.7.5-2.4.5-5.2.5 3.8.5 2.4.5.4.5-.1.5-2.4.5-4.3.5.4.5 1.2.5 0 .5 5 .5-5.2.5 4.9.5-2.6.5 4.3.5-7.5.5 6.7.5-4 .5-.6.5.1.5-.3.5 2.8.5-3.7.5-1.3.5 2.8.5-3.1.5 1.1.5 7.1.5-5.5.5 5.2.5-5 .5 2.5.5-4.2.5 7.1.5-7.9.5 8 .5-.1.5.5.5-1.1.5-7.6.5 1.4.5-.7.5 6.4.5-4.4.5-.9.5.6.5 4.1.5-6.2.5 2.1.5.4.5 3.6.5-1 .5-3.2.5 2.2.5.3.5-3.8.5 4.4.5-3.9.5 7.2.5-4.2.5-1.6.5 6.2.5-6.1.5 3.7.5-3 .5 0 .5 4.3.5-7.1.5 6.2.5 1 .5-2.7.5 3.3.5-.3.5-5.8.5 5.9.5-3.9.5-3 .5 3.8.5-3.2.5-.1.5 5.9.5.8.5-6.2.5-.8.5.2.5 1.2.5 1.8.5-3.9.5 1.9.5-.2.5-1.3.5 7.6.5-6 .5 1.4.5 5 .5-2.1.5-4 .5 1.6.5-.3.5 2.5.5-2.5.5-2.7.5-.9.5 3.8.5-1.6.5 5.7.5-.4.5-3.7.5-2.3.5 6.2.5-.2.5-3.1.5 1.7.5 1.5.5-.1.5-2.4.5-3.2.5 5.5.5-5.6.5 6.5.5-1.6.5-3.6.5 5.8.5-2.8.5 1.5.5-.6.5-5.8.5 6.4.5-4.9.5-1.7.5 5.9.5-5.5.5 4.8.5-4 .5 1.7.5 2.1.5-4.7.5 1.6.5 3.4.5-2.3.5 2.5.5.1.5-5.8.5-.3.5 7.2.5-6.7.5 1.8.5 6.2.5-.8.5-2.9.5-4 .5.1.5 5.5.5-1.7.5-4.2.5 6.3.5 1 .5-2.8.5-2.3.5-1.7.5 0 .5 7.6.5-1.4.5.4.5-4.1.5 1.6.5-4.5.5 2.7.5 0 .5-.6.5 4.2.5-6.1.5.4.5.3.5.4.5 5.3.5 1.1.5-2.7.5-3.1.5 4.5.5-5.9.5.1.5 1.4.5 1.9.5 3 .5-5.8.5 5.6.5-2.9.5-2.3.5 1.1.5 3.5.5-5.6.5 4.9.5-.9.5-.1.5-2.3.5 5.8.5-5.3.5 1.4.5-2.8.5 3.8.5-1.8.5-3.5.5 8.1.5-6.5.5 2.9.5 1.4.5.3.5.5.5-5.5.5 5.6.5-6.7.5 3.9.5 2.1.5-4.4.5 1.8.5-2.7.5 6.6.5-4.9.5 5.9.5-1.4.5-2 .5.9.5.2.5-2.5.5-1.6.5 3 .5-.8.5-2.5.5 5 .5-6.9.5 8.6.5-3 .5-4 .5 5.2.5-.9.5 1.5.5-7.1.5.8.5 7 .5-4 .5 3.4.5 1.2.5-1.8.5-4.2.5 1.5.5 2.1.5-2.5.5 4.3.5-2.3.5 2.2.5-6.4.5 3.9.5-2.9.5 3.3.5-.7.5-1.4.5 2.8.5-2.6.5-2 .5 6.2.5-1.1.5 1.6.5-4.2.5 3.4.5-3.6.5 3.1.5-3.2.5 2.1.5-4.1.5-.6.5-1.2.5 4.3.5-3.7.5.2.5 4.6.5-5.7.5.2.5 7.1.5-5.3.5.6.5.6.5-.8.5 3.8.5-4.9.5 1 .5 4.7.5-6.9.5 2 .5 6 .5.2.5-1.2.5-4.4.5-.5.5-1.9.5.4.5 6 .5.1.5.9.5-2.7.5-.3.5.3.5-3.9.5 1.8.5-1.7.5-.5.5.8.5 2.2.5.9.5-1.1.5.6.5-1.9.5-1.6.5 1.5.5 3.7.5-2.8.5.9.5 2.9.5.1.5-3.1.5-4.4.5 2.1.5 5.6.5-7.6.5 1.6.5 1 .5 5.2.5-2.7.5-.3.5-1.4.5 3.1.5-4.6.5.1.5-.4.5 1.2.5-.7.5 3.8.5-6.4.5-.5.5 0 .5.5.5 4.5.5-.6.5 1.9.5-6.7.5-.8.5-1 .5 2.7.5-2 .5-.7.5 6.1.5.1.5-7.5.5-1.3.5 1.8.5.3.5 1.2.5-5 .5 3.7.5.1.5-9.8.5 1.6.5-13.7.5-11.8.5-14.2.5-31.3.5-39.7.5-62.6.5-78.3.5-99.1.5-128.8.5-160.1.5-185.7.5-154.6 3 0 .5 894.9.5-894.9 3 0 .5 192.6.5 180 .5 156.6.5 121.7.5 99.5.5 74.2.5 52.9.5 38.4.5 28 .5 13.3.5 9.2.5 7.1.5 11.3.5 2.4.5.3.5-.4.5.1.5 1.6.5 1.4.5-4 .5.7.5 1.8.5 5.2.5-4.2.5 6.8.5-7.8.5 2.5.5-1.8.5 4.7.5-2.3.5 4.3.5-5.8.5 6.8.5 1.6.5-2.2.5-3.2.5 1.2.5-2.2.5 1.2.5-.7.5-1.4.5 7.9.5-.3.5-1.5.5 1.5.5-3.6.5-1.4.5 4.8.5-2.7.5 2.3.5 2.1.5-2.1.5 0 .5-3.6.5-2.5.5 8.1.5-3.7.5.3.5-1.4.5 4.3.5-7.1.5 6 .5-2.6.5 1.5.5-1.3.5-2.7.5 2.3.5 2.5.5-5.4.5 6.9.5-6.9.5 2.6.5 3.8.5-6.5.5 1.1.5 3.2.5-2.6.5 6.3.5-1.6.5-1.7.5-4.1.5 5.1.5-5.5.5 3.7.5-1.2.5-.6.5 5.8.5-6.9.5 2.9.5 4.1.5-.2.5-5.7.5 2.1.5-3.2.5.6.5 2.8.5 1.1.5-3 .5-1.9.5 6 .5-1.9.5 3.5.5.7.5-.1.5-2.8.5-2.1.5-2.2.5 1 .5-1.8.5 6.2.5-5.3.5 4.8.5-.5.5-1.5.5-4 .5 4.7.5 3.6.5-2.7.5-1.7.5-1.1.5 4.7.5-1.1.5 1 .5-3 .5 1 .5.7.5-1.7.5-2.1.5 1.2.5-1 .5 2.9.5-4.6.5 7.1.5.4.5-.2.5-3.3.5 1.3.5 1.2.5 1.7.5-6.9.5 6.4.5-5 .5-3 .5 6.3.5-2.9.5-2.6.5 3.9.5-4.2.5 7.8.5-4.8.5-1.8.5 2.5.5-2.9.5-1.4.5 1.3.5 3.2.5-1.9.5-1.6.5 2.2.5 5.1.5-1.4.5-3.6.5 4.4.5-.4.5-7.1.5 4.1.5-4.3.5 1.4.5.5.5 3.2.5 1.6.5 1.5.5-1.4.5-2.4.5-1 .5 4.1.5-2.7.5.8.5-4.5.5 5.1.5-4.8.5 1.7.5-2.5.5 5.8.5 0 .5-1.9.5 2 .5-3 .5-3.1.5 3.8.5 3 .5 1.2.5-5.1.5 1.6.5 3.9.5-3.2.5-3.8.5 1.6.5 2.5.5-5.5.5-.2.5 8.5.5-1.8.5-3.4.5 2.4.5 1.1.5-5.2.5-.9.5 3.7.5-4.2.5 3.4.5-.4.5 1 .5-2.5.5-.9.5 3.5.5.2.5-2.8.5-.4.5 1.6.5 4.4.5.3.5-2.1.5 2.9.5-2.7.5-.1.5 2.1.5-.2.5-4.3.5-2.3.5 5.9.5-4.4.5 2.7.5 3.6.5-8.1.5 7.2.5-3.2.5 4.1.5-2.4.5-.6.5-.2.5-1.3.5-3.9.5 3.1.5 1.4.5-3.3.5 3.3.5-2.1.5 2.2.5-2.7.5 5.8.5-.7.5-4.6.5-.4.5 3.4.5 2.8.5-5.1.5 4.5.5-2.5.5-3.7.5.1.5-.2.5 6.3.5-5.5.5 6.2.5-8.4.5 2.1.5-.3.5-.7.5.3.5.5.5-1.4.5 7.6.5-.1.5-5.5.5 5.1.5-6 .5 3.4.5-3 .5 5.8.5-4 .5-1.5.5-.1.5 4.9.5-.5.5-5.4.5.5.5 2.5.5 4.3.5-6.2.5-.3.5 1 .5-2.9.5 3 .5-1.6.5 5 .5-.4.5-6.1.5-.1.5 7.8.5-4.5.5-.6.5.7.5 2 .5.3.5-5.1.5 6.9.5.5.5-5.8.5 6.4.5-3.2.5-1.6.5-1 .5 3.7.5-3.4.5-.2.5-1.4.5 3.1.5-4.1.5 4.2.5-4.1.5 4.6.5-3 .5 3.9.5-3 .5-1.1.5 6.1.5-6.3.5 6 .5-6.2.5 5.7.5-.9.5-.7.5.4.5-3 .5 2.2.5-4.2.5 3.9.5-3.6.5 4 .5-1.9.5-.6.5 2 .5-3.9.5 1.3.5.5.5-1.1.5 3.7.5-1.1.5-5.1.5 1.4.5 1.6.5-5.1.5 0 .5 1.4.5 4.3.5-3.7.5-2 .5-4.9.5-4 .5-12.9.5-21.7.5-18.1.5-26.1.5-15.4 0 .4.5 5.6.5 16.1.5 8.7.5 9.7.5 2.1.5 7.6.5 16.2.5 16.1.5 12.1.5-.1.5 5.4.5 2.9.5 5.1.5 1 .5-4.9.5.8.5.4.5 5 .5-3.4.5-.6.5-.6.5 1.8.5 5.9.5.2.5-1.9.5-4.5.5 4.2.5 2.6.5-3.7.5 2.8.5-2.2.5-2.5.5 1.8.5-.3.5.3.5-3.9.5.3.5 3.7.5 3.5.5-5.1.5 4.9.5 1.2.5-.7.5-3 .5-3.7.5 3.2.5-2.5.5 2.2.5-1.7.5 1.9.5-1.9.5 3.3.5.8.5-4.6.5.1.5-.1.5 1.1.5-1.1.5 2 .5-.8.5-.3.5 2.6.5 3.2.5-7.3.5-.1.5 4.9.5-.9.5 2.8.5-7.2.5 7.5.5-3.1.5 3.6.5-7.4.5 1.5.5-.7.5 1.7.5-.9.5-2 .5 7.3.5-1.6.5 1.3.5-3.1.5 3.5.5-5 .5.3.5-1 .5-.9.5 6.7.5.2.5-3.5.5-.7.5-1.7.5 3.3.5-5.3.5 3.6.5.4.5-1.7.5-2 .5 1.5.5-1.3.5 6.2.5.7.5.7.5-5.1.5-1.1.5 4.7.5-3.6.5 3.5.5-3.4.5-3.4.5.9.5 5.3.5 1.9.5-1.6.5-2.6.5 1.8.5-1 .5-.6.5-3.5.5 4.9.5-.4.5.7.5-2 .5 3.5.5-3.2.5 0 .5-2.5.5 2.2.5-3.3.5 5.2.5-1.2.5 1.1.5 3.1.5-6.4.5.2.5-2.3.5 8 .5-7.1.5.8.5-1.1.5 6.6.5-1 .5-4.2.5.5.5 5.1.5.6.5-8.2.5 2.2.5 3 .5-.8.5 2.7.5-1.1.5-6 .5 7.7.5-7.4.5 1.4.5 3.6.5-3.5.5 1.9.5-.8.5.6.5 1.3.5-4.6.5 1.6.5 3.2.5-1.2.5 2.3.5 1.3.5-1.3.5-5.1.5 5.5.5-.3.5 2 .5-8.3.5 6.3.5.7.5-4.6.5 5.4.5-6.2.5.7.5 6 .5-6.6.5 5.1.5 1 .5-5.8.5-1.6.5 5.1.5.6.5-1.9.5-2.5.5-1.6.5 2.6.5 2.6.5-.8.5-3.5.5 5.3.5-1 .5 1.7.5-7 .5 1.7.5 4.9.5-4.8.5-1.5.5 5.7.5-.2.5.4.5-5.1.5 3.6.5-3.6.5 4.1.5-3.1.5-1.9.5 4.2.5 2.7.5-6.2.5-.7.5 4.9.5-4.2.5-1 .5.2.5.7.5 3.8.5 1.2.5.8.5-.2.5-.2.5.9.5 1.4.5-2.8.5 1.7.5-5.6.5 3 .5-5.1.5 2.6.5 3.8.5-3.9.5.7.5-3.3.5 2.2.5 3.9.5.8.5-2.2.5.8.5.8.5-5 .5 4.3.5-2 .5 1.4.5-2.5.5 4 .5-1.6.5.7.5-2.8.5.1.5-2.6.5 1.7.5 5.7.5-6.6.5-.9.5-.8.5 6.2.5-3.2.5 3.4.5-3.9.5-1 .5-1.3.5 3 .5-.4.5 2.3.5 1.7.5-3 .5 2 .5-4.5.5 3.9.5-1.4.5 3.2.5-2.8.5-4.8.5 6.3.5-3.6.5-2.2.5-2 .5 2.5.5 5.1.5-6.5.5-1.1.5-.2.5.2.5.3.5-.7.5 2.3.5 2.8.5-2.1.5-3 .5-1.2.5-5.5.5 4.1.5-2.5.5-5.5.5.3.5-7 .5-8.8.5-20.5.5-24.4.5-41.2.5-40.6.5-29.9.2-4 .3 3.7.5 25.7.5 22.6.5 15 .5 7.8.5-1.1.5 15 .5 22.5.5 17.7.5 17.3.5 19.2.5 7.9.5 2.2.5 7.4.5 1.5.5-1 .5 1.6.5 2.3.5-1.3.5 2.4.5-.6.5-3 .5 2 .5 1.5.5.1.5-4.4.5.1.5 1 .5 1.2.5 3 .5-.7.5 3.5.5-7.3.5 6.9.5.8.5-5 .5 4.3.5-6 .5 3.3.5-4.6.5.5.5 1.4.5-7.3.5-8.5.5-5.7.5-17.9.5-22 .5-18.3.4-5.5.1 0 .5 7.6.5 15.8.5 10.4.5 3.2.5-3.1.5 6.6.5 10.7.5 9.8.5 7.9.5 4.1.5 8.4.5 4.4.5 4.6.5.4.5-3.9.5-.2.5 5.9.5-2 .5-.1.5-.1.5 4.1.5.6.5-1 .5-.9.5 2.4.5 1.8.5-7.7.5 5 .5-1.1.5 1.8.5-5.7.5 2.6.5-1.8.5 5.6.5-4.6.5 2.9.5 1.7.5-3.5.5 4.8.5-7.5.5 7.2.5-5.8.5 3.2.5 2.7.5-5.6.5 6.2.5-6.6.5 5.3.5-.4.5 2.1.5-.4.5-6.9.5.7.5 3 .5-3.3.5 4.8.5-1.3.5.3.5.4.5-1.4.5.3.5-2.1.5-.4.5 3.5.5-.5.5-1.2.5 3.6.5.8.5.2.5-6.3.5 5.3.5.5.5-5.7.5.7.5 2 .5 2.7.5-6.8.5 5.9.5 1 .5-5.4.5 4.5.5-6.5.5.7.5 4 .5-2.9.5 5.4.5-4.6.5 3.1.5 1.2.5-4.7.5-1.9.5 3.5.5-2.2.5 3.6.5.2.5-3.1.5.4.5 5.8.5-1.8.5-4.1.5 1.5.5 3.2.5-1.9.5-5 .5 7.1.5 1.1.5-.5.5-4.4.5-3.6.5 0 .5 3.5.5 3.7.5.3.5-6.7.5.9.5 1.3.5-2.9.5 3.6.5-1.7.5 3 .5 3.5.5-8 .5 3.9.5 3.6.5-6.6.5 6 .5-1.2.5-5 .5 1.3.5-2.2.5.6.5 4.6.5-.3.5 1.9.5-5.6.5-.5.5 3.7.5-3.3.5-1.7.5 3.1.5 1.4.5-1.6.5 1.1.5 1.6.5-1.2.5-3.1.5 5.1.5 1.6.5-7.6.5 6.9.5-.2.5-.8.5-6 .5 3.6.5-2.4.5 1 .5-.9.5 7.1.5-.8.5-4.8.5-1.1.5-.1.5 3.5.5.1.5-4.7.5 1.1.5 3.9.5-3.3.5 5.6.5-6.1.5 4.3.5 1.3.5-4.1.5.5.5-.4.5 3.2.5-5.5.5 1.7.5 5.6.5-8.5.5 6.5.5 1.4.5-5.1.5.8.5 4 .5-.8.5-1.5.5-4.2.5 6 .5-.3.5 1.7.5-2.9.5 2.4.5-3.4.5 0 .5 2.1.5-1.3.5-1.7.5-1.3.5-1.9.5 7 .5-6.8.5 4.1.5 2.4.5-1.6.5.8.5-5.4.5 7.4.5-1.8.5-2.9.5 2.8.5-5.7.5 6.8.5-7.4.5 2.2.5-1.8.5 3.2.5 3.8.5-6.9.5 3.7.5-1.8.5-1.9.5 5.2.5-1.3.5-1.1.5.9.5-6.7.5 1.3.5 2.2.5-4.5.5-1 .5 3.1.5-4.9.5-1 .5-1.4.5-1.3.5 5.8.5-4.4.5-1.2.5-1 .5-5.6.5 2.8.5-3.2.5 4 .5-.2.5 1.3.5-2.9.5-1.1.5 1.5.5 6.9.5-2 .5 3.9.5-1.5.5 1.7.5 1 .5 1.7.5.6.5-5.7.5 8.8.5-5.7.5.4.5 1.1.5 6.4.5-6.1.5-.3.5 1.9.5-.8.5 5.8.5-4.1.5 3.3.5 3.8.5-4.6.5 3.9.5-6.8.5 1.3.5 1.6.5-3.4.5-1.2.5 4.6.5-4.6.5-4.4.5 3.3.5-4.6.5-7.9.5 5.4.5-1.9.5 5.8.5-2.1.5.2.5 1.5.5-.9.5.7.5 4.5.5 3.8.5-2.6.5-.2.5 1.3.5 2.4.5 2.9.5-3.7.5 5.5.5 0 .5-5 .5 4 .5-4.4.5.4.5 3.8.5-5.9.5 6.7.5-1.9.5-2.3.5 5.8.5-3.7.5-.8.5-3.1.5 0 .5 6.4.5-.5.5-.7.5.9.5 1.5.5-4.9.5-.8.5 5.9.5-7.7.5 2.4.5-.4.5 2.5.5-4.1.5.6.5 3.5.5-1.3.5-3 .5 2.5.5 4.8.5.3.5-7.2.5 1.3.5 2 .5-.8.5.9.5 3.6.5-5.5.5 5.5.5-1.5.5-2.2.5.6.5-2 .5-1.6.5 3.3.5-.7.5-.5.5-1 .5 4.1.5-1 .5-4.5.5 4.3.5-1.5.5-2.9.5 2.5.5-3 .5 3.9.5 1.5.5-1.6.5.5.5-1.4.5-3 .5.7.5 3.7.5 1 .5 2.1.5 0 .5-6.5.5 3 .5-1.8.5-2.7.5 3.7.5-2.6.5 3.6.5 2.2.5-4.8.5 2.9.5 2.3.5-6 .5-.7.5 6.1.5-4.2.5-.2.5 2.9.5-.2.5-4.3.5 7.5.5-1.9.5-2.3.5 2.7.5-5.2.5-1.3.5 4.9.5-.6.5-4.4.5 2.9.5.1.5 1.7.5-1.7.5 1.9.5-3.1.5 5.8.5-7 .5 2.6.5-3 .5 4 .5-2.4.5 3.3.5-5.1.5 7.1.5-.8.5-6.1.5 7 .5 0 .5-5.8.5-.4.5 1.3.5 4 .5.1.5-4 .5-1.9.5 6.9.5-2.7.5 3.5.5-8.3.5 7.9.5-6.7.5 1.4.5 4.2.5-2.1.5-3.1.5 3.1.5 3.5.5-6.7.5 3.7.5 2.6.5.6.5-4.7.5-.6.5 2.7.5-4.4.5 1.2.5.4.5 2.5.5-5.4.5.7.5 3.2.5 1.9.5-4.3.5.7.5 4.5.5-5.6.5 6.3.5-4.4.5 1.6.5-4.2.5 1.7.5-1.5.5.5.5 3.4.5-1.6.5 3.6.5-3.2.5 2.7.5-4.4.5 5.3.5.2.5-6.8.5 5 .5 1.7.5.1.5-5.9.5-1.8.5 4.8.5-2.8.5-1.9.5 7 .5-4.2.5-2.9.5.5.5 5.1.5-1.6.5 1.2.5-3.2.5 2.5.5-5.6.5 1.5.5 6.1.5-5.2.5-.6.5-1 .5 2 .5-4.1.5 3.5.5 0 .5 2.4.5-.6.5-5.3.5-2 .5-1 .5-4.9.5 4.2.5-7 .5-7.4.5-17.1.5-16.8.5-24.3.5-40.6.5-34.8.5-27.6.2-5.7.3 2.9.5 22.3.5 25.6.5 27.6.5 11.7.5-1.5.5-4.9.5-4 .5 8.1.5 18 .5 25.7.5 13.7.5 19.1.5 7.6.5 4.4.5 0 .5 8.5.5-.3.5-5.2.5 7.6.5-5.7.5 4.6.5-6.9.5 2 .5-3.9.5 2.3.5-8.9.5-12.1.5-8.4.5-22.5.5-22.1.5-16 .5-10.4 0 .3.5 7.1.5 13.3.5 19.7.5 6.2.5 8.1.5.1.5-3.5.5-.1.5 5.2.5 8.8.5 16.8.5 10.6.5 6.3.5.2.5 8.4.5-.3.5 4.5.5-4.8.5.9.5.1.5 5.2.5-2 .5 2.5.5-6.7.5 2.8.5-1.4.5-.4.5 8 .5-6.9.5 4.6.5 2.3.5-6 .5-1.7.5 7.5.5-6.9.5 0 .5 7 .5-1.7.5-2 .5-.7.5 3.5.5-.8.5 2.9.5-6.3.5 4.1.5-.4.5-4.1.5 3.5.5 2.5.5-.3.5-2.2.5-.1.5-2.2.5 1.9.5 3.8.5-3 .5-3.8.5-.6.5 3 .5-3 .5 7.2.5-1.5.5-4.2.5-.8.5 4.7.5 1.3.5-1.4.5 2.2.5-2.3.5-2.2.5 2.9.5-1.9.5-.6.5-.9.5 5 .5-1.8.5-4 .5.2.5.5.5 3.8.5.1.5.6.5-1.6.5-6.1.5 8.2.5-2 .5-4 .5 3.1.5 1.3.5 0 .5-1.3.5-3.5.5 1.2.5-2.6.5 1 .5-.6.5 7.8.5-7.2.5-.9.5 6 .5 1.3.5-2.7.5 1.9.5.8.5-7.3.5.2.5 7 .5-1.6.5-2.6.5 2.7.5-2.2.5-1.1.5 5 .5.5.5-2.6.5-5.1.5 7.5.5-7.7.5 1.2.5 2 .5 5 .5-3.2.5.9.5-1.3.5 2.5.5-4.5.5 2.7.5.4.5-.6.5-4.6.5 3.8.5-2.5.5 4.3.5 1.9.5-6.6.5 1 .5 1.4.5-3.8.5 4.8.5-1.5.5-2 .5 1.9.5-2.1.5 4.1.5-3.5.5 2.5.5-3.3.5 2.7.5 2.8.5-5.8.5-.5.5 2 .5 3.9.5-.2.5 1.7.5-4.1.5 1.3.5 3.1.5-4.3.5 2 .5-2.6.5-.1.5-.4.5.9.5 1.1.5-4.1.5 4.6.5-.6.5-3.9.5 7.3.5-1.8.5-3.1.5 3.8.5-6.7.5.9.5 1.2.5-.1.5 1.3.5 4.3.5-5.1.5 2.5.5.9.5.7.5-.8.5-4.6.5 7 .5-4.8.5 2.3.5-1.3.5-1.8.5-2.7.5 3.9.5 2.8.5-1.1.5-5 .5 1.4.5 1 .5 4.5.5.8.5-4.2.5 1.4.5.2.5-4.4.5 1.1.5 0 .5 2.5.5-3.8.5 4.7.5-4.4.5 5.8.5-7.5.5 6.1.5-4.5.5-1.2.5 6 .5-3.5.5 1.1.5 2 .5-4.1.5 2.8.5-4.2.5 1.9.5.9.5 0 .5-.2.5 4.6.5-5.5.5-1.3.5 5.4.5-2.7.5.7.5 2.5.5-6.3.5.1.5 1.6.5 3.5.5-5 .5 5.7.5-1.3.5-2.5.5 5.1.5-6 .5.3.5 1.5.5-2.9.5.5.5 4.9.5-.3.5-.4.5-4.1.5 3.7.5-2.6.5 5.8.5-4.5.5 5.1.5-2.8.5-3.7.5-1.3.5 3.3.5-1.5.5 3.7.5-3.3.5 4 .5 1.1.5-7.6.5.6.5 3.5.5 1 .5-5.7.5 5.6.5 1.5.5-2.7.5 2.5.5-.5.5-3.7.5-.6.5 5.4.5-2.4.5-2.8.5-1.9.5 7.3.5-7.1.5 6.9.5-5.4.5 3.5.5-1.4.5-3.2.5 6.4.5 1.1.5-3.8.5 1.8.5-4.8.5.5.5 5 .5.7.5-6.6.5 5.8.5-.9.5-4.2.5 2.4.5-.2.5 2.4.5-.9.5-2.7.5-2.2.5.1.5.8.5 6.8.5-4.7.5-3.9.5.7.5 5.9.5-.4.5.7.5-4.7.5 5.4.5-2.4.5.2.5-2.3.5.8.5-3.9.5 0 .5.9.5-.1.5.7.5-.5.5 4.3.5.8.5-5.3.5 6.4.5-1.7.5 2 .5-1.6.5-5.9.5 8.1.5-5.5.5-.2.5-.1.5 1 .5-2.3.5 7 .5-4.7.5 1.9.5.4.5.7.5-3.2.5-3 .5 1.5.5 2.4.5.7.5 2.1.5-.6.5-.3.5-2.9.5.8.5-.4.5-.1.5 4.6.5-2.1.5-3.1.5 1.7.5 3 .5-.4.5-3.1.5-2.4.5-.2.5 3.7.5-3.9.5 3.5.5.6.5-3.9.5 3.2.5 1.2.5 1.5.5-1.6.5-.6.5-.7.5 1.4.5-2.7.5 2.2.5-4.7.5 1.8.5-1.2.5 2.8.5 1.3.5-4.8.5 2.6.5-1.5.5 2 .5 1.8.5-2.8.5-1.6.5 2.8.5 2.2.5-3.8.5.6.5-1.3.5 6.2.5-1.6.5 1 .5-1.8.5.4.5-2.1.5 3.7.5-5.5.5 6.3.5-7.6.5 2.6.5-1.2.5 5.4.5.4.5-4.4.5 4.8.5-2 .5-2.8.5-3.6.5 8 .5-6.9.5-.8.5 4 .5-2.3.5 2.6.5 2.1.5-4.3.5 4.7.5-.5.5-4.5.5 3.3.5-.3.5-1.5.5-.5.5 2.1.5-1.3.5-1.8.5 4.2.5-1 .5-6.5.5 3.2.5-.6.5 4 .5-7.9.5 3.7.5-8.6.5-.5.5-8.3.5-4.7.5-5.2.5-7.1.2-.3.3.7.5 3.5.5 9.2.5 1.4.5 8.6.5 1.1.5-5.2.5 2.4.5-5.4.5 2.7.5-3.6.5 9.7.5-3.6.5 7.9.5-.2.5.3.5 7.5.5-4.6.5 5.5.5-4.2.5-1.5.5 3 .5.7.5 1.6.5-4 .5-.7.5 3 .5-4.6.5-.8.5 1.9.5-2.8.5.2.5-8.1.5-4.1.5-2.4.5-14.4.5-9.2.5-15.3.5-9.3.2-1 .3.6.5 7.4.5 8.7.5 15.4.5 6.2.5-1.3.5 4.1.5-7.9.5-.1.5-2.8.5 7.6.5 6.1.5 8 .5 5.4.5 2.1.5 1.6.5 5.5.5-3.4.5 8.3.5-2 .5 1 .5-2.6.5 2.7.5-3.5.5 6.5.5.5.5-4.9.5 3.2.5-.5.5 1.2.5-2.8.5 5.1.5-3.8.5-1.9.5 5 .5-.3.5 1.3.5-5.1.5-1.4.5 5.2.5.9.5-5.8.5 1.9.5-2 .5 3.2.5-.1.5 1.9.5-6.6.5 8 .5-4.3.5 4.6.5-1.6.5-5.8.5 2.9.5 3.8.5-3.9.5.2.5-2 .5 2.6.5-1.4.5-1.3.5 1.4.5 4.2.5-2.6.5-3 .5 4.4.5-3.2.5 2.9.5-4.3.5.6.5 1.8.5.4.5 3.9.5-2.4.5-4.2.5-.9.5 6.4.5-6.4.5-.7.5 2.4.5-2.6.5.6.5 5.7.5-1.7.5-4.1.5 1.6.5-2 .5 6.4.5 1.6.5-3.9.5.1.5-4.4.5 3.1.5.4.5 3.8.5-.6.5-5.3.5 4.8.5-6.2.5 1.3.5 4.2.5-1.1.5-.7.5.6.5-.1.5-4.1.5 2 .5 1.5.5 4.7.5-8.3.5 2.7.5-2.4.5 1.5.5.3.5.2.5 4.7.5-3.1.5-1.6.5 5.6.5-4.8.5 2 .5 3.6.5-6.3.5 2.8.5-3.7.5-.6.5 6.7.5.4.5-2.8.5-3.5.5.5.5-1.5.5 6.7.5-6.4.5 1.3.5 3.8.5-3.8.5 5.9.5-6.7.5 3.3.5 3.6.5.3.5-6.6.5-1 .5 4.4.5-.1.5-1.4.5 1.2.5-2.4.5 5 .5-6.4.5 1.3.5-1.5.5.6.5 1.4.5 1.4.5-3.9.5 7.6.5-7.2.5 5.6.5-4.4.5 3.3.5-.7.5-.3.5 1.7.5 2.2.5-1.4.5-4.6.5 3 .5-1 .5.6.5-2.3.5 0 .5 4.9.5-2.4.5-3.4.5 3.4.5.7.5 1.9.5.3.5-5.4.5 5.8.5-6 .5 3.3.5 1 .5-2.4.5 2.4.5.8.5.2.5-7.6.5 4.4.5-3.1.5 3.1.5-3.5.5 3.5.5.9.5-.5.5-5.4.5.1.5 8.5.5-6.9.5 3.3.5 2.3.5-3.7.5.9.5-3.8.5 4 .5-.1.5-3.6.5 1.1.5 4.7.5.6.5-1.5.5 1.7.5-5.2.5 4.3.5.6.5-6 .5 1.7.5-3.4.5-1.2.5.2.5 2.5.5.4.5-5.3.5-1.1.5-4.9.5.5.5 5.7.5-1 .5.6.5-4 .5 6.8.5-2.2.5-2.9.5-.5.5-.5.5.5.5 5 .5 2.4.5-5.1.5 7.8.5-4.2.5 2.4.5-2.3.5-.9.5 5.3.5.8.5-2.9.5 3.3.5-4.7.5 7.8.5-4.1.5 1.9.5-2.7.5 2.5.5-2.4.5 3.4.5-3.1.5 1.8.5.5.5-1.1.5 3.4.5-1.7.5-4.3.5-1 .5 1.4.5 3.4.5-5.3.5 4.6.5-4.8.5 5.5.5-3.3.5-2.5.5 1.3.5 4.6.5.9.5-1.4.5 2.2.5-1.4.5.3.5-4.3.5-1.5.5 7.4.5-5.5.5 0 .5 2.8.5-4.3.5 4.4.5-3.9.5-.7.5 7.8.5-4.8.5.6.5-1.1.5 3 .5-5.3.5 5.9.5-2.8.5.3.5.4.5 1.8.5 1.3.5 0 .5-3.7.5-2.5.5 6.2.5-6.3.5 1.5.5-.6.5 5 .5-5.8.5 6.2.5-6.3.5 5.7.5-2.7.5-2.8.5 6.7.5-6.1.5 5 .5-1.7.5 1.7.5-3.1.5 4.2.5-.1.5-.8.5-2.5.5-2.7.5-.2.5 5.3.5-7.4.5 4.9.5-3.7.5-.7.5 1.3.5 2.2.5.7.5-1.9.5 3.8.5-4.7.5-.7.5.8.5 2.7.5-2.1.5 3.8.5-4.9.5 5.7.5-3.8.5.1.5 1.9.5-3.6.5-1.8.5 2.2.5 2 .5-2.4.5-1.5.5 7.9.5-5.5.5-2.6.5-.1.5 6.1.5-3.9.5 5.1.5-1.5.5-3.9.5 5 .5.2.5-1.9.5 1.6.5.3.5-4.4.5 5.3.5-7.5.5 6.1.5-3.8.5 3.6.5-1.1.5 1.7.5-3 .5-3.3.5-.2.5-.6.5 6 .5-5 .5 4.4.5-2.1.5 1.5.5.8.5-.9.5-2.7.5-.5.5 5.8.5-.4.5-4.7.5 3.6.5-6.3.5 2.2.5-1.8.5 6.7.5-1.1.5 1.2.5-7.8.5-1.1.5 5.1.5-4.5.5-1.2.5 4.4.5-3.4.5-.4.5.5.5 3.1.5-1.8.5-6.8.5 4.2.5-2.2.5-2.6.5-1.7.5-5.6.5.4.5-4.8.5-.4.5-6 .5-2.5.5-2.7.5-2.5.5-.8 0 .3.5-1.1.5.9.5.3.5.9.5 2.6.5 1.6.5-.6.5 1.7.5 3.5.5-1 .5 1.1.5 1.9.5 6.4.5.1.5 2.9.5-.4.5 2.1.5 3.5.5 2.4.5 1.9.5-4.2.5 7.2.5 1.7.5-3.9.5 4.3.5-1.1.5.7.5 3.6.5.1.5-.6.5-5.1.5 2.8.5-.1.5.8.5-3.5.5 2.3.5-.8.5-2.7.5 4.1.5 3.6.5 1 .5-5.2.5 3 .5-5.4.5.3.5.2.5-.5.5 2.6.5-3.2.5 5.5.5-4.5.5-.4.5 1.9.5 4 .5-.4.5.4.5.9.5-3 .5-3.5.5-1.1.5-.6.5 4.6.5-4.2.5-3 .5-3.8.5 5.7.5-3.5.5-7.1.5-2.2.5-5.6.5-2.4.5.1.5-1.9 0 .4.5.2.5 1.3.5 2.8.5 1.3.5.2.5 5.3.5 2 .5-2.4.5 3.2.5-4.1.5.4.5-1.7.5 5.3.5 4.1.5 1.2.5-2.2.5 5.5.5 3.2.5-2.8.5 6.1.5.8.5-6.2.5 4.4.5-1.6.5 2.5.5.8.5 1.2.5-5.1.5 6.5.5-5.6.5 4.8.5-1.6.5-3.8.5 3.6.5-2.2.5.5.5-2.8.5 4.9.5-1.4.5-2.6.5 4.6.5 0 .5-4.3.5-1.9.5 8.6.5-6.9.5 1.6.5.1.5 4.7.5-4.7.5-.6.5 4.7.5-.1.5 1.1.5-4.5.5-3.5.5 5.5.5.8.5-.3.5-.9.5-2.7.5 2.8.5.7.5-4.4.5 1.9.5-2.5.5-.4.5 4.1.5-3.9.5 2.8.5-.7.5-.2.5 2.3.5 3.4.5-1.5.5 1.1.5-.8.5-4.9.5 3.6.5-1.7.5 4.4.5-1.2.5-2.5.5-.2.5-.3.5-4.5.5 3.3.5-2.4.5 6 .5 1.6.5-3.3.5 2 .5-2.6.5-.8.5-3.2.5.5.5 5.2.5-3.1.5.8.5-.4.5 3.8.5-.9.5 2 .5-6.9.5.1.5 5.1.5-5 .5 5.4.5-1.9.5.8.5-.7.5-2.3.5 2.4.5 1 .5 1.5.5-1.8.5-2.9.5-2.7.5 5.4.5-1.7.5 3.6.5-1.4.5-4.7.5 4.2.5 1 .5-.8.5.9.5-5.6.5 6.8.5-.9.5-5.5.5.9.5-2.2.5-.1" stroke="#FF0000"/>
<path d="M258.5,820l.5-4.2.5 4 .5-4.8.5.9.5 2 .5-2 .5.4.5 4.7.5-4.3.5-.8.5.9.5-3.2.5 1.3.5 3.2.5 1.3.5.9.5-6 .5 1.1.5.7.5 1.5.5-.5.5 2.4.5-2.7.5 3.4.5-4.1.5-.1.5-.4.5 3.8.5 1.4.5-2.2.5-3.1.5 1.6.5-2.1.5 2.8.5.3.5-4.5.5 6.6.5-.4.5-3.3.5-.4.5 1.8.5-1.1.5 1 .5-2 .5-1.9.5.6.5 1.6.5 1.5.5-4.2.5 4.4.5-1.5.5-2.2.5 1.7.5 2.5.5-3.1.5 1.3.5-2.8.5 2.6.5.8.5-3.9.5 4 .5 1.1.5-4.7.5-.1.5 6.8.5.9.5-6.9.5-.2.5 4.4.5 1.1.5-3.8.5-2.2.5 6.4.5-2.1.5-1.9.5 3.9.5-1.7.5 2.4.5-3 .5 2.2.5 1.3.5-2.7.5 2.1.5.2.5-.3.5-2.4.5.9.5-3.7.5 2.8.5 1.4.5.5.5-1 .5-4 .5 4.7.5-2.4.5-3.1.5-.3.5 3.1.5-3.5.5 1.6.5 3.4.5 1 .5-1 .5-5.9.5 3.1.5-4.5.5-2 .5-.6.5 2.5.5 1.6.5-6.8.5-7.9.5-18.4.5-23.1.5-30.2.5-24.6.2-8.1.3-2.2.5 7.2.5 14.5.5 26.1.5 20.2.5 20.1.5 12.2.5 15.3.5 3.4.5-4.2.5 8.6.5-1.9.5-.8.5 1.4.5-3.4.5-.8.5 5.1.5 1.1.5-8.5.5 1 .5-4 .5-8.8.5-13.1.5-19.7.5-9.7 0-.4.5-.8.5 7.1.5 7.2.5 19.1.5 6.2.5 9.1.5 4 .5 11.7.5-2.2.5.7.5.3.5 1.7.5 2.1.5-5.2.5.5.5 1.7.5-2.1.5 3.8.5 4.3.5-5.3.5 5.3.5-5.7.5 1 .5 4 .5.5.5.9.5-1 .5-7 .5 6.7.5-5.8.5 6.7.5-1.8.5-1.1.5 1 .5-5.3.5 6.4.5-2.1.5 2.5.5.9.5-5.1.5 3.1.5-1.3.5-1.8.5 5.4.5.3.5-5.6.5-2.7.5 8.7.5-3.8.5-4.8.5 1.4.5-1.3.5 4.1.5-3.9.5 8.1.5-3.7.5-3.3.5 4.1.5-.5.5 0 .5.6.5-3.8.5-1.4.5 6.6.5-.8.5-4.2.5.5.5-.6.5 1.2.5-2.1.5.7.5 1.8.5 3.1.5 1.8.5-6.8.5 0 .5-.3.5 5.6.5-4.2.5-1.7.5 6.4.5 1.7.5-1.3.5-.4.5-4.1.5-1.2.5 0 .5 1.2.5-2.6.5.1.5 4.7.5-4.2.5 1.8.5 4.2.5-3 .5 3.7.5-2.1.5-3.6.5 7.1.5-4.6.5.9.5 1.3.5 2 .5-4.1.5 1.7.5 2.1.5-2.6.5-2.5.5 5.3.5-6.2.5 6.2.5-3.4.5.9.5-4.3.5-.3.5 1.4.5 3.9.5-.2.5-4.4.5 2.8.5-1.1.5-.8.5 4.7.5-1.7.5-5 .5 5.5.5-4.5.5 6.1.5 1.3.5-4.3.5 1.9.5-2.7.5-1.6.5 6.5.5-4.1.5 1.2.5-4.7.5.5.5-.3.5 1.3.5 3.5.5-2.4.5.6.5 1.6.5.7.5-3.1.5-2.2.5 5.8.5-1 .5 1.7.5-1.8.5-.2.5 2.6.5-4.8.5 2.7.5-4.1.5 5 .5-4.4.5-2.1.5 7.2.5-1.8.5-5.3.5 5 .5.7.5 1.6.5-6 .5 4.5.5-4.9.5 2.8.5 3.4.5-7.2.5.8.5 1.4.5 1.3.5-1.3.5-1.7.5 6.6.5-.4.5-4.6.5 3.1.5-5 .5 1.3.5 2.8.5 3.2.5-4 .5.1.5.3.5-1.8.5 2.7.5-3.7.5 2.7.5 3.8.5-5.8.5 5.8.5-6.5.5-.2.5 6.5.5-.1.5-4.4.5 2.2.5.7.5-3.3.5 3.7.5 1.8.5-3.7.5-2.9.5-.7.5 7.6.5-5.7.5 3.8.5-5.7.5 5.1.5 2.5.5-2 .5-1.6.5 3 .5-5.3.5 3.9.5-3.6.5 4.5.5-2.3.5-1.5.5 4 .5-.7.5-4.9.5 4 .5.4.5-2.4.5-.6.5-1.6.5 2.7.5-2.6.5-.3.5-.3.5.1.5 2 .5-.1.5 2.8.5 2.4.5-7.2.5 4.5.5.7.5-1.9.5-1.8.5-.6.5 6.3.5-5.9.5-1.4.5-.3.5.3.5 3.3.5-2.8.5 2.6.5-2.3.5-1.2.5 5.4.5 2.2.5-5.5.5-1.7.5.3.5 3.9.5.2.5 2.8.5-6.4.5 5.1.5 1.3.5.2.5-7.3.5 4.6.5-3.4.5 6.4.5-3.6.5-2.4.5-.2.5 5.2.5-2.6.5-2.9.5-.9.5 7.2.5-4.3.5-2.7.5 2.4.5-1.5.5 4.3.5-1.7.5 4.2.5-6.9.5 2.1.5 3.3.5-6.7.5 6.5.5 1.5.5-6.1.5 5.7.5-5.1.5 4.6.5 1 .5-6.3.5 1.1.5-.4.5-.4.5-.1.5 4.8.5-2.2.5-1.5.5-2.4.5 1.9.5 1.4.5-2.9.5-.2.5 5.2.5.6.5 1.6.5-7.7.5 5.9.5-3.3.5.5.5-1.2.5-2.5.5 2.5.5 4.3.5-2.3.5 2.2.5-1.8.5-3.1.5.7.5.3.5-2.1.5-1.2.5 6.6.5-4 .5.5.5 5.4.5-8.5.5 5.3.5-2.5.5 3.9.5-1.7.5 2.7.5-7.5.5 8.2.5-.3.5-5.8.5 1.3.5 2.3.5-5.5.5 2.1.5 2.2.5-2.3.5-2 .5.6.5 4.5.5-3.7.5 4.9.5-1.5.5-5.3.5 2.2.5 3 .5-1.3.5.9.5-2.3.5 1.6.5.6.5.3.5-4.1.5.6.5 5 .5-1.4.5-4.5.5 1.5.5 1.2.5-.3.5 3.7.5-3.2.5-1.6.5 2.7.5.2.5-.2.5-1.5.5 3.4.5-5.4.5 6.7.5-6.3.5 2.2.5 2.4.5-.1.5-.2.5.9.5-7.3.5 6.2.5 1.7.5-5.1.5-2.8.5 6 .5.5.5-3.2.5 2.2.5-1.2.5-1 .5-3.8.5 5.4.5.1.5-3.2.5 1.2.5-2.8.5 3.9.5-1.9.5 1 .5-.9.5.9.5 2.8.5.3.5-2.5.5-5.5.5 4.2.5 0 .5.3.5-3 .5 3.6.5-.5.5.3.5-2.3.5.6.5-1.3.5-3.1.5 5 .5-2.8.5-3.5.5 1.9.5-1.2.5-.1.5 5.1.5-4.3.5 2 .5-.8.5 1.1.5-7 .5-3.1.5-2.3.5-.6.5-11 .5-9.1.5-13.5.5-23.7.5-31.3.5-36.8.5-64.2.5-77.1.5-94.8.5-123.2.5-140.6.5-155.5.5-91.8 3 0 .5 797.4.5-797.4 3 0 .5 16.1.5 171.6.5 151 .5 122.8.5 113.7.5 83.8.5 65.6.5 45.6.5 34.3.5 30 .5 14.7.5 9.6.5 15.4.5-1.6.5 8.9.5 3.2.5-2.6.5 1.9.5.7.5-1.5.5 6 .5-4.8.5 4.4.5-6.7.5 4.5.5 2.6.5-2.5.5 1.2.5 3.3.5-5.9.5 3.1.5-3.4.5.9.5-.4.5-1 .5 6 .5-2.3.5.1.5-.3.5-1 .5 0 .5 1.1.5.5.5.6.5 3.7.5-1.1.5 1.4.5-4.1.5 0 .5 3.4.5-1.3.5-4.2.5 6.3.5-3.3.5.3.5.4.5 1.7.5-5.8.5 3.5.5.5.5 3.8.5.4.5-3.7.5 1.8.5-3.6.5-.2.5 5.7.5-2.7.5.6.5-3 .5.8.5-2.6.5 7.3.5-3.8.5-2.2.5 5 .5 1.1.5-3.5.5 1.9.5 1.6.5-7 .5.9.5.7.5-1.8.5 1.3.5 2.6.5-2.9.5-1.4.5-.1.5.6.5.8.5-1.6.5.3.5 2.8.5 1.8.5-2.4.5-2.4.5 7.8.5-3 .5 2.6.5.3.5-4.1.5 3.4.5.8.5-4.2.5.2.5.5.5 4.2.5-.9.5-3.6.5 4.2.5-.4.5-2 .5-5.3.5 1.6.5-1.1.5.9.5 6 .5-5.4.5.5.5-2.3.5 7.7.5-1 .5.4.5-2.6.5.7.5.6.5-4.4.5-1.4.5 0 .5 7.6.5-.8.5-2.4.5-2.9.5.1.5-.7.5 6.3.5-3.8.5 4.5.5-5.6.5-1.2.5 4.5.5-.6.5 2.8.5-7.1.5 4.7.5.6.5-.9.5 1.9.5-7.3.5.5.5 3.5.5 1.2.5-.7.5-4 .5 8 .5-1.7.5-4 .5 3.2.5-1.6.5 3.6.5-3 .5-4.4.5 2.1.5.9.5-2.3.5 6 .5-4.7.5-2.2.5 5.2.5 3.1.5-5.2.5-2.7.5 7.1.5-1.4.5-3.8.5 1.6.5-4.1.5 3.9.5 1.6.5.1.5-1.2.5-2.5.5.2.5 2.8.5.5.5-2 .5 3.8.5-2.7.5 1.3.5 2.8.5-5.8.5 5.2.5-1.8.5-2.7.5-2.3.5 2 .5-2.8.5 8.3.5-6.9.5.5.5.3.5-2.2.5 7.9.5-.1.5-7.7.5.6.5 6.8.5-3.1.5-3.6.5 2.5.5 5 .5-1.7.5-5.4.5 6 .5-1.2.5-4.7.5 5.6.5-3.5.5 3.7.5 0 .5-3.4.5-2 .5 3.4.5 1.3.5-4.1.5-.1.5 6.3.5-5.8.5 1.3.5-4.1.5 3.4.5-.1.5 4.8.5-3.6.5 3.8.5-1.1.5-2.9.5-3.1.5-1 .5 1.2.5 3 .5.4.5-2.2.5 3 .5 3 .5-6.4.5-1.8.5.6.5 2.2.5-1.5.5 5.4.5-.4.5-5.5.5 3.1.5 2.5.5-3.7.5-.6.5-1.5.5 6.8.5-1.6.5-1.9.5-2.9.5-1.3.5 7.9.5-2 .5-.8.5-4.5.5 2.4.5 3.1.5-2.4.5 3.4.5-5.9.5 3.9.5-1.3.5-2 .5 2.5.5 3.9.5-2.5.5 3 .5-3.7.5-4.9.5 2 .5-1.9.5 7.3.5-4.7.5-.9.5 3 .5-3.3.5 6.4.5-7.1.5-.5.5 6.7.5 1.1.5-7 .5 2.5.5-3.5.5 3.8.5 2.8.5-.3.5-3.5.5 2.8.5-5.6.5 1.8.5 1.7.5-2.5.5.6.5 3.7.5-2 .5 1.6.5 3.4.5-.7.5-1.3.5 2.1.5-7.4.5 3.2.5 2.2.5 1.4.5-5.2.5 2.3.5-3.9.5 2.1.5 4.6.5-7.7.5.8.5 4.6.5-3.9.5 1.4.5 4.7.5-1.2.5-.8.5-2.1.5.5.5-.6.5 4.7.5-3 .5 2 .5-2.2.5-5.5.5 7.9.5.7.5-3.6.5.2.5 2.5.5-7 .5.4.5-.3.5 1.4.5 1 .5-.7.5 3.1.5 1 .5-8.7.5 0 .5 4.8.5-3.1.5 2.3.5-8.3.5-4.3.5-7.3.5-4 .5-26.5.5-18.3.5-30.1.5-13.6 0 .7.5 5.3.5 14.3.5 12.1.5 5.4.5 6 .5 12.1.5 15.1.5 12.3.5 10.8.5 7.5.5 2.2.5 7.6.5.8.5.3.5 1.9.5-3.5.5 6.6.5-7.9.5 7.2.5-4.1.5-.6.5 4.3.5 2.3.5-8.3.5.7.5 3.8.5 2.4.5-2.2.5-1 .5 4.4.5-4.3.5-.7.5 4.3.5-1.1.5-.3.5.9.5-1.3.5 2.8.5-1.8.5-4.7.5 1.8.5 1.9.5 2.9.5-1.9.5-3.2.5 2.1.5-2.5.5.6.5 1.7.5-1.7.5 1.7.5 1.5.5-5.7.5 2.2.5 3.2.5 3.3.5-4.1.5 1.2.5-4.8.5-.7.5 2.2.5 6 .5-5.7.5 4.3.5-3.2.5-2.3.5 6.7.5-8 .5 1.2.5 3.6.5-.9.5 1.6.5-4.3.5-1.1.5 4.4.5-2.8.5 6 .5-.3.5-7 .5 6.7.5-5 .5.1.5 5.9.5-6.9.5 2.5.5.5.5-1.8.5 2.7.5-4.1.5 2.6.5-1.8.5 3.1.5.1.5.7.5 1.4.5-6 .5 2.4.5-3 .5 2.6.5-1.1.5 1.7.5.6.5-3.1.5 6.5.5-4.4.5 5.4.5-1.1.5-7.5.5 8.5.5-7 .5-1.6.5 2.6.5-2.4.5 7.3.5-5 .5.9.5 1 .5 3.8.5.1.5-6.6.5 5.6.5-4.5.5 4.8.5-4.4.5 5.1.5-8 .5 2.5.5 4.1.5-6.6.5 7.2.5-2.9.5-.9.5 3.9.5-4.8.5 3.7.5-4.7.5-1.5.5.4.5 7.2.5-3.3.5-1.8.5 5.8.5.2.5-6.7.5.6.5 4.5.5-4.8.5-.6.5 4.6.5-2.3.5-1.9.5 6.2.5-5.8.5-2.2.5-.1.5-.1.5 1.6.5-1.1.5 4.9.5.8.5-4.3.5 4.8.5-.2.5-3.1.5 1.9.5-4.7.5 7 .5-1.9.5-4.7.5 5.1.5-3.7.5 1.8.5-3.7.5 7 .5-3.2.5 1.7.5-3.5.5-2 .5 2.3.5-2.5.5 1.1.5 3.4.5 1.8.5 1.8.5-2.9.5.4.5-2.3.5-3.3.5 3.9.5 2.9.5-5.6.5 4.2.5-2.8.5.1.5.2.5 4.8.5 0 .5-5.6.5 2.3.5-1.6.5-2.2.5 5.1.5-.5.5-3 .5 4.8.5-2.9.5 3.7.5-5.9.5 4.3.5.5.5-2.3.5-2.7.5 1.3.5 2 .5 2.7.5-2.9.5 3.7.5-4.1.5 3.3.5-5.1.5-1.7.5 4.5.5-5.3.5 3.2.5 1.4.5-1 .5-2.2.5.5.5-1.5.5-.2.5 6.4.5-6.3.5-.1.5 4.8.5-2.7.5 1.8.5.9.5-1 .5-4.7.5 5.5.5 2.7.5-6.9.5 5.1.5 1.8.5-1.7.5 0 .5-3.3.5 4.1.5-7 .5 1.5.5-2.3.5.4.5.3.5-.7.5 5.4.5-4.7.5 3.9.5-4.7.5 7.8.5-5.3.5 1.2.5-3.4.5 5.7.5-4.5.5 3.2.5-5.8.5 4 .5 1 .5-4.1.5 1.6.5-.1.5-.2.5.7.5-1.6.5-.2.5.2.5 5.9.5-5.8.5-3.2.5 2.4.5 1 .5 3.7.5-3.6.5.2.5 2 .5-1.5.5-.3.5 1.8.5-4.6.5-3.5.5.7.5-3.8.5-1.1.5.9.5 2 .5-1.4.5-8.8.5-1.4.5-14.6.5-17 .5-19.4.5-32.9.5-40.4.5-35.3.2-5.6.3 2.1.5 22 .5 25.8.5 17.7.5 2.3.5 3.6.5 9.2.5 19.4.5 20.2.5 19.4.5 14.6.5 8.1.5 8.1.5-2.3.5.8.5 2.9.5 1 .5 5.3.5.3.5-.5.5 3.1.5 1.3.5-6.4.5 3 .5-2.8.5 1.2.5 3.1.5 2.1.5-.7.5-2.1.5-1.4.5 3.1.5-.5.5 1 .5-.8.5-.1.5-1.3.5 3.8.5-6.7.5-.3.5 1.1.5-2.1.5.7.5-1 .5-6.4.5-5.6.5-9.1.5-14.6.5-13.7.5-21.3.5-15.4.2-1.3.3 2 .5 12.6.5 11.2.5 12.4.5 4.4.5-6.4.5 7.2.5 7.4.5 17.3.5 12.2.5 7.1.5.9.5 4.2.5 3.3.5-5.8.5.5.5 7.2.5-4.7.5-.8.5 3.3.5 3.9.5 1.6.5-2.1.5 2.6.5-7.4.5 2.4.5.2.5-2.4.5 5.1.5 1.6.5-4.9.5 4.5.5-1.6.5-4.4.5-.5.5 5.6.5 0 .5-1.1.5 1.4.5 2.8.5-.8.5-2.9.5-.1.5-4.2.5 7.2.5-.3.5 1.2.5-2.3.5 1.5.5-4.1.5 2.2.5-5.2.5 5.8.5-1.7.5.3.5-2.7.5 4.5.5 1.7.5-6.5.5 4.9.5-3.9.5-.3.5 1.2.5-.7.5 3.2.5-5.1.5 5.4.5-6 .5 5.3.5-2.7.5 1.3.5 1.8.5.8.5-2.8.5-4.2.5 4.6.5-2.6.5-1.2.5 5.4.5-2.3.5 3.7.5-6.8.5 1.3.5 4.9.5-6.3.5 1.6.5 1.3.5-.1.5.4.5-2.3.5 3.6.5.3.5.1.5 2.2.5-7 .5 5.6.5 1 .5-2.3.5 1.3.5-5.4.5 6.4.5-5.5.5 1.2.5 5.2.5-2.3.5-4.5.5 1.9.5 1 .5-1.7.5-2.6.5.1.5 5.4.5 1.1.5-4.4.5 1.5.5-3.1.5 0 .5.5.5 7.2.5-2.5.5-5.1.5-.3.5 7.2.5.8.5-8.3.5 7.5.5-5.4.5-1.3.5 1.4.5 2.7.5-.7.5 2.4.5 1.3.5.2.5-.7.5-7.3.5 7.3.5-6.9.5 5.3.5-3.4.5 0 .5 4.2.5 1.4.5-1.4.5-4.9.5 2.6.5 2.1.5-1.4.5-1 .5-4.4.5 4.3.5-2.1.5 6.3.5-7.8.5 3.4.5 1.7.5-4.9.5 6.3.5.9.5-7.3.5-.1.5 5.6.5-.4.5-3.3.5 3.5.5-2.1.5 3 .5-6.3.5 5.7.5-2.4.5-2.9.5-.2.5 1.8.5 3.6.5 1.4.5-4.3.5.1.5-1.5.5 2.1.5-.8.5-.2.5-2.4.5.1.5 7.1.5-7.4.5 4.7.5 1.9.5.7.5-1.6.5-1.6.5.2.5-1.7.5-2.2.5-.2.5 6.3.5.8.5-5.8.5-.1.5 0 .5 3.8.5-.9.5-4.5.5 4 .5.6.5-1.9.5-1.9.5 4.4.5-1.4.5-3.5.5 1.6.5 4.7.5-4.4.5 1.1.5.4.5-1.2.5 3.9.5-5.4.5 5.8.5-2.2.5-2.4.5 2.8.5-3.2.5 3.2.5-4.9.5-4.3.5 7.6.5-8.9.5 1.9.5-1.6.5 4.6.5-1.7.5-4.2.5-2.9.5 4.8.5-.9.5-8.9.5.5.5-1.4.5 6.3.5-1.7.5-4.8.5-2.8.5 5.7.5-4.5.5.5.5 1.5.5.7.5 1.8.5.1.5.5.5 3.6.5-1.6.5-1.1.5 7.4.5 1 .5-5.3.5 1.7.5 5.8.5 1 .5-5.4.5 6.7.5 2.1.5-.3.5 0 .5-6.9.5.7.5 4.6.5-1 .5-3.4.5 7.7.5-1.7.5-.4.5-4.7.5.4.5-.7.5-.2.5 6.2.5-4.4.5-1.3.5 0 .5-12.5.5 1.9.5-2.2.5-3.4.5 6.5.5-1.3.5 2.7.5-2.4.5 4.7.5 2.7.5-3.4.5-1.4.5 4.2.5 1.4.5 4.1.5 2.3.5-.3.5-1.1.5.3.5 2.7.5-3.6.5 2.3.5-3.4.5 0 .5 3.6.5 1.5.5-2.2.5 1.7.5-2 .5 2.1.5 1.4.5 1.2.5-1.1.5 1.3.5-2.7.5-3.1.5 4.9.5-7 .5 4 .5-2.5.5-1.7.5 1.5.5 1.5.5 4.2.5-3.2.5-.4.5-1.3.5-2 .5 5.6.5-1.1.5-4.3.5 1.5.5 5.6.5-1.2.5-3.1.5-3.2.5 3 .5.9.5-3.3.5.4.5-.7.5 3.1.5-.7.5.9.5 1.9.5-.9.5 3 .5-6 .5.3.5 4 .5 2.5.5-5.3.5 3.2.5.8.5.8.5-2.3.5 2.3.5-2.6.5-4.3.5.3.5-.4.5.4.5 3.2.5.4.5-4.6.5 4.3.5-1.5.5 4.9.5-4.6.5 4.5.5-5.8.5 1.2.5.4.5-.4.5 1.8.5-.1.5 2.3.5-4.2.5-2.9.5 4.2.5-2.6.5 1.9.5.1.5-2.9.5 3.8.5.9.5-5.8.5 5.4.5-.4.5.1.5-.2.5.9.5-2.9.5-2.2.5.1.5-1.1.5.1.5 2.1.5 4 .5-3.6.5 1.4.5-.1.5 3.3.5-2.4.5.5.5-.4.5-2.4.5 2.7.5.7.5-.5.5-2.7.5 5.9.5-1.7.5-5.2.5 5.3.5-1.8.5-1.3.5 0 .5-1.4.5 1.9.5-.1.5 1.4.5.5.5 2.2.5-.6.5-.9.5 1.5.5-7.8.5 1.5.5 1 .5 1 .5 4.3.5-1.5.5-4.4.5-.8.5 2.4.5-3 .5 6.6.5-4 .5 3.1.5-5 .5 1.2.5 1.4.5 2.8.5.2.5-2.5.5.4.5 1 .5-.7.5-5.2.5 1.3.5-1.9.5 1.8.5 6.2.5-1.1.5-.7.5-1 .5-4.1.5 3.3.5-4.8.5 2.7.5-.9.5-.1.5 5.1.5-5.8.5-1.1.5 4.9.5-3.3.5-1.9.5.5.5 3.4.5.6.5-2.5.5 5.7.5-1.3.5.2.5-2.2.5 3.5.5-7.4.5-.3.5 7.6.5-2.8.5.3.5-3.4.5 2.5.5 0 .5-.6.5-3.7.5 6.4.5-2.9.5.7.5-4.7.5-2.1.5 4.2.5-1.1.5-3.7.5.2.5-2.3.5 3.2.5.6.5-6.4.5-.1.5-11.3.5-9.7.5-8 .5-24.2.5-26.4.5-41.7.5-29.8.5-14 0-.1.5 9.8.5 25.3.5 23.7.5 17.5.5 8.6.5-.5.5-3.9.5-.2.5 11.4.5 20.7.5 18.3.5 11 .5 13.8.5 7.1.5-1.9.5 10.2.5-.2.5-2 .5 3.9.5-5.2.5 6 .5.6.5-1.6.5-.1.5 2.6.5-4.1.5 2.2.5-4.5.5-3.5.5 5.4.5-4.5.5-9.4.5-3.5.5-14.3.5-15 .5-20.9.5-19.9.5-6.6 0 .1.5 5.5.5 16.7.5 11.5.5 8.9.5 9.9.5-3.7.5-1.3.5.9.5 7 .5 9 .5 10.3.5 7.9.5 7.5.5 2.4.5 2.4.5-3.2.5.6.5.5.5 9.1.5-.9.5-3.5.5-2.7.5-.2.5.9.5 7 .5.3.5-1.2.5-5 .5.5.5 1.5.5 1 .5 2.3.5 1.7.5-4.2.5.1.5-1.3.5 5.4.5-5.8.5 6.7.5-5.7.5 2.7.5-2.5.5-1.9.5 1.4.5-.1.5.2.5 2.7.5.8.5-3.5.5 5.9.5-6.8.5 6.2.5-3.3.5-2.7.5 4.4.5-4.3.5 2.3.5 3.6.5-2 .5-3.7.5 6.6.5-2.9.5-4.2.5 6.7.5-4.5.5 4.4.5-7.4.5.5.5 4.7.5 1.5.5-3.6.5-2.3.5 2.7.5 2.8.5-.5.5-2.2.5 2.7.5.4.5-1.9.5 2.3.5-1.7.5-.5.5-.6.5-1.3.5 5.1.5-6 .5 6 .5-2.6.5-3.3.5.4.5 3.9.5.1.5-5.5.5 1.9.5 4.1.5-2.7.5.9.5-3.8.5-.3.5 4.3.5-1.1.5 3.8.5-6.9.5 4.9.5-1 .5 1.8.5-1.8.5-3.5.5-.2.5 3.1.5 2 .5-7.2.5 6.8.5.7.5-5.7.5 3.9.5 2.4.5-2.1.5-4.5.5-1.6.5 1.5.5-.6.5-.7.5 2.8.5.3.5 5.1.5-2.3.5-3.5.5 4.1.5-1.2.5 3.1.5-3.8.5-4.3.5 4.8.5-4.1.5 6.9.5.5.5-.8.5-1.7.5-2.3.5 1.6.5-2.7.5 6.1.5-2.6.5-.8.5-4.3.5 7.7.5-4.3.5 1.5.5-2.1.5 1 .5 2.8.5-.2.5-5 .5 4.8.5-3.9.5 2.8.5-4.5.5 5.5.5-4.4.5 2 .5 0 .5-2.2.5 4.9.5-7.3.5.6.5 3.7.5-.9.5-3.5.5 6.4.5-2.9.5.5.5 1.9.5-2.7.5 3.3.5-6.4.5 2.5.5 4.6.5-4.8.5-1.5.5 2 .5 2.9.5-3.1.5 5.4.5-2.5.5.2.5-5.5.5 7.2.5-.9.5-.5.5-6 .5 1.4.5.2.5 3.5.5-4.4.5 4.7.5.8.5 1.4.5-2.1.5 2.4.5-7.1.5 1.9.5-.6.5 2.8.5.5.5 1.1.5-5.3.5-.7.5 6.5.5-6.8.5 5.4.5-5 .5.8.5 1.3.5 5.4.5-2.5.5-3.1.5.6.5-2 .5.7.5 4.6.5-2 .5 3.3.5.4.5-3.9.5-3.5.5 1.9.5-1.6.5.1.5 4.4.5-1.2.5-.6.5 0 .5.5.5 3.6.5-5 .5 3.6.5-6.4.5 4.3.5 1.8.5.3.5-4.8.5 6 .5-.1.5-6.8.5.4.5-.4.5-.2.5-.4.5 7 .5-2.7.5 4 .5-6.5.5-2.1.5 5.9.5 1.4.5-3.5.5.2.5.8.5-4.1.5.2.5 2 .5 2.5.5 2.2.5-5.7.5 4.6.5-2.7.5 1.3.5-1.1.5-.1.5 2.7.5-4.9.5 5 .5-.7.5-5 .5.5.5.8.5-.6.5 4.5.5-2.4.5-2.2.5 1.9.5 3.6.5-6.7.5 6.8.5-3.8.5 1.8.5.7.5 2.1.5-2.6.5-3.8.5 5.1.5-2.2.5 1.8.5-2.6.5-.9.5-1 .5 1.7.5-2.2.5 5.5.5-6.1.5 5.2.5-5.7.5 3 .5-.2.5 0 .5 3.3.5-6.1.5 1.1.5 4.6.5-1 .5-1.7.5-.5.5 3 .5-4.6.5 7 .5-2.8.5-4.6.5.2.5 6.9.5-7.2.5 1.5.5 6 .5-4.3.5 4.1.5-7.6.5 7.4.5-7.7.5 2.2.5 2.5.5-3.4.5 1.8.5-1.6.5 5.7.5-6.1.5 2.2.5 4.8.5-5 .5-.7.5-2.5.5 7.5.5-2.3.5-1.4.5 4.1.5-1.8.5-4.3.5 1.9.5-.5.5.8.5-2.3.5 6.7.5-4.2.5-.3.5-1.3.5 1.7.5 1.2.5-2.8.5-1.7.5 4 .5 1.1.5-1.3.5-1.7.5 5.5.5-5.1.5 1.1.5-.4.5-1.8.5-.9.5 6.5.5-.5.5-2.4.5-1.3.5 3.2.5-6 .5 1.3.5-2.1.5 6.4.5-.2.5-3.8.5 1 .5-1.7.5 1.6.5-3 .5 3.1.5.6.5 2.3.5-.8.5-.7.5 3.1.5-4 .5-.3.5 4 .5-6.1.5.1.5 4.8.5 1.9.5-8.6.5 7.2.5-5.4.5-1.3.5 1.5.5 3.2.5 2.9.5-4.8.5-.9.5 3.5.5-3.3.5-.3.5 5.9.5.1.5-7.1.5-.9.5 3.3.5 2 .5-5.6.5 3.7.5 2.2.5-5.1.5-1.3.5 3.8.5 1.6.5-.3.5-.7.5-2.7.5 6.3.5-5.4.5 5.2.5-.3.5-3 .5-3.6.5 3.6.5-2.8.5 2.9.5 1.6.5-6 .5 2.6.5-9.2.5-2.9.5.4.5-10 .5-5.1.5-2 .3-.8.2.7.5 4.7.5 2.7.5 2.9.5 6.1.5 2.7.5-2.1.5-3 .5 1.7.5-2.6.5 3.5.5-2.7.5 4.1.5 2.8.5 2.2.5 2.9.5 3.4.5-5.1.5 1.1.5 1.3.5.4.5 4.9.5-2.5.5.8.5-4.2.5 2.7.5 1.7.5.9.5-.5.5-4.3.5 4 .5-8.6.5-.7.5-.9.5-3.4.5-1.9.5-13.7.5-7.8.5-11.2.5-8.6.5-4.6 0 .3.5 2.1.5 10.5.5 5.1.5 12.2.5 6.3.5.2.5-3 .5-3.8.5-1.7.5 3.3.5 4.6.5 4.8.5 6.2.5 5.1.5-2.2.5 7.5.5 3.8.5-1 .5 2.6.5.2.5-2.7.5-.7.5-3.1.5 6.6.5-1 .5-3.7.5-.5.5 5 .5.6.5-1.2.5-3.6.5 2.1.5-4.2.5 8.5.5-8.3.5 3.9.5 2.3.5-5.9.5 5.3.5 1.6.5 1 .5.6.5-4.9.5-3.2.5 3.7.5-1.3.5 3.9.5 1.9.5-8.4.5 2.2.5-.4.5 2.9.5.3.5-.5.5 1.6.5.3.5-.5.5 2 .5-4.6.5-2.4.5 4.6.5 2.1.5-2.3.5-5.3.5 3.2.5 5 .5-4.1.5.8.5-.1.5-.3.5-.8.5 2 .5-.5.5-1.8.5 3.3.5 1.5.5-2.5.5-3.7.5.5.5 1 .5 4.3.5-4.9.5-2.4.5 3.2.5-1.9.5 4.4.5-1.4.5 2.5.5.7.5-2.8.5-3.1.5 3.9.5-3.9.5 6 .5-7.8.5 5.6.5-4.7.5 2.6.5-.1.5 1.4.5-4.1.5 5.6.5-3.7.5.9.5-3.6.5 4.3.5-4.6.5 5.5.5-5.4.5 2.6.5-.6.5-.4.5 5.5.5-7.1.5 4.5.5-.2.5-3.3.5 4.3.5-4.4.5 5.8.5-.6.5-1.8.5 2.4.5-1.3.5.5.5-.4.5-.4.5.5.5-5.4.5.8.5 6.8.5-7.6.5 6.5.5-3.3.5-2.2.5.6.5.3.5 4.9.5-4.4.5 3.7.5-.2.5 1.6.5-2 .5.6.5-5.5.5 1.5.5 2.6.5-2.8.5 4.6.5-3.3.5 5.1.5-6.9.5.1.5 3.7.5-1.6.5 3.5.5-2.8.5-3.2.5 5.9.5-4.6.5-.4.5 3.1.5-4.7.5 3.6.5-1.3.5 5.5.5-6.3.5 2.1.5 2.6.5-4.1.5 4.8.5-.9.5-1.6.5 1.1.5-5 .5 7.1.5.1.5-1.2.5-4.8.5 2.2.5-.1.5-1.2.5-1.7.5 1.9.5 3.7.5-.9.5-2.7.5.4.5-1.2.5 4.5.5-.1.5-4.1.5-1.4.5-1 .5 1.6.5 4.3.5-3.5.5-3.1.5 3.4.5.7.5-2.5.5 2.5.5.5.5.8.5 1.8.5-1.3.5-2.7.5 2.6.5-1.4.5.4.5 2.9.5-3.9.5-1.1.5 1.2.5-3.9.5 4.4.5-1.8.5 3.7.5-5.5.5 5 .5-7.2.5-.2.5.5.5.1.5 4.3.5-5.6.5 1.7.5-.3.5-.4.5-4.9.5 1.1.5-3.8.5 4 .5 3.2.5-4.1.5 3.3.5-.1.5 3.1.5 1.1.5-4.2.5-1.9.5 5.2.5-4.3.5 4.9.5-4.4.5 2.6.5 3.8.5.4.5-3.9.5 2.6.5-.3.5.3.5-.1.5 5.1.5-7.2.5.6.5.1.5 3.1.5 1 .5-5.4.5 5.4.5 2.6.5-5.4.5-.2.5-1.3.5 4.8.5-1.6.5-2.3.5 2.2.5.4.5.6.5-.9.5-4.1.5 2 .5 3 .5-1.9.5 3.1.5-.3.5-5.7.5 3.4.5-2.2.5-.7.5 4 .5 1.1.5-.1.5 1.7.5-5.9.5 7 .5-5.8.5 4.7.5-2 .5 1 .5-5.2.5 5.6.5-.1.5-.3.5-5.7.5 2.4.5 3.4.5-6.4.5 2 .5-.3.5 4.5.5 1.9.5-7.5.5 7.3.5-5.9.5-1.3.5 1.8.5 5.8.5-2.8.5 2.8.5-6.8.5 1.7.5-1.9.5 5.1.5-6.4.5 5.3.5-.4.5-.4.5 4 .5-3.5.5-.2.5-3.1.5 1.9.5 3.2.5-2.4.5-.3.5-2.8.5 3.2.5-1.4.5.2.5-2.1.5.9.5 1.8.5 1.4.5 1.2.5-4.4.5 2.4.5.4.5 1 .5-3 .5 5 .5-4.6.5-1.1.5-1.4.5 2.4.5 3.9.5.8.5-6.2.5-.3.5 4.5.5 1.4.5.3.5-2 .5-.3.5-3.5.5.3.5-1.4.5 7.1.5-7.4.5 1.4.5-.9.5 7.2.5-5.4.5 1.2.5 2.8.5-4.7.5 4.9.5-2.1.5-2.9.5 4.2.5-.2.5-1.7.5.2.5 1.4.5-.4.5-4.6.5-.9.5 3.9.5 3.8.5-2 .5-4.6.5 0 .5 5.9.5-1.9.5-3.7.5.5.5 2.9.5.6.5.7.5-2 .5-1.7.5 1.2.5 3 .5-5.3.5.7.5 4 .5-7.6.5 4 .5-2.4.5-.3.5 3.5.5-2.8.5-2.2.5 6 .5-4.2.5 1.4.5.3.5.3.5-6.8.5.8.5-5 .5.9.5-.7.5-5.4.5 3.1.5-6.5.5-.6.5-6.9.5-.1.5-2.7.5-2.8.5-1.1 0-.1.5-.7.5.5.5 1.7.5.3.5.4.5 3.8.5-.7.5.6.5 2.9.5-1.7.5 4.3.5 3.6.5 2.5.5-2.7.5.2.5 5.5.5-.1.5 7.7.5-6.1.5 1.7.5 1.7.5 2.9.5 3.4.5-2.8.5 3.3.5-1.6.5 4 .5-4.7.5 6.4.5-4.6.5.5.5 4.1.5-5.9.5.4.5 2.8.5-2.2.5 1.6.5 3.7.5-1 .5 1.6.5-4.8.5 3.2.5 2.8.5-3 .5 2 .5-3.3.5-3.6.5 3.1.5 2.5.5-3 .5-.7.5 1.7.5.6.5-2.6.5 6.4.5-5.2.5.7.5 1.1.5-3.6.5-1 .5 3.8.5-5.4.5 7.3.5-5.1.5 2.3.5-1.7.5-3 .5-4.1.5 3.8.5-6.7.5.8.5-3.2.5.6.5-5.6.5-3.6.5 3 .5.5.5 7.1.5.7.5 1.9.5-6.2.5 4.4.5-2.9.5.9.5 1.4.5.5.5 1.1.5-.5.5 7.3.5-5.6.5 2.9.5 6.1.5 1.7.5-1.1.5 3.2.5-4.5.5 5 .5-4.5.5.7.5-2.5.5.1.5 3.8.5 3.4.5-7.6.5 5.6.5-2.8.5.6.5 1.6.5 2.9.5-4.4.5 3.1.5-4.2.5-1.9.5.9.5 2.4.5 1.8.5.7.5-.1.5-.7.5-2 .5 1.1.5-3 .5-1.3.5 2.9.5 5.5.5-7.9.5 5.9.5-2.5.5-3.6.5 4.3.5-3.5.5 5.9.5-1.4.5 3 .5-3.6.5-.9.5-2.9.5 4.5.5.3.5 1.4.5-2.5.5 1.9.5-.2.5-2.4.5-.8.5-.5.5 5.6.5-.8.5-2.6.5-2.4.5 1.1.5 2.3.5.3.5-.1.5-3.5.5 3.4.5-4.4.5-.6.5 3.5.5 3.8.5-1.1.5-5.6.5 6.9.5-7 .5-.6.5 4.7.5 1.2.5-.9.5 2.4.5-8.5.5 2.5.5 6.1.5-2.4.5.9.5.1.5 1.1.5-5.9.5 6.1.5-3.1.5-1.8.5 2 .5-2.6.5-1.6.5 7.1.5-7 .5.7.5.2.5 1.7.5-3.2.5 4.1.5-2.6.5 4.1.5-4.1.5 3.8.5-.8.5.7.5-1.3.5-.5.5-1.7.5-1.6.5-.9.5 4.5.5-2.9.5-2.5.5 2.5.5-2.1.5-.5.5-2.7.5 6.5.5-5.9.5 3.9.5-4.5.5 4.2.5.4.5-8.9.5 1.3.5 3.5" stroke="#FFC000"/>
<path d="M258.5,703.3l.5 4.6.5-2.3.5-.1.5 4.6.5 1.2.5-4.6.5 4.3.5-2.3.5-4.5.5.2.5 6.6.5.4.5-1.3.5-5.3.5 7.1.5-1.8.5 1.1.5-.2.5-3.5.5 3.1.5-2 .5-2.9.5.1.5 2.8.5-3.3.5 1.9.5-2.3.5 5.2.5-1.1.5-1.8.5-3.3.5 2.9.5 1.3.5 2 .5-.3.5.6.5-6.8.5.9.5 0 .5 3.2.5-1.6.5 3.7.5-1.7.5 3 .5-2.4.5 1.5.5 1.3.5-7.2.5 7.3.5-6.3.5 1 .5 5.4.5-3.5.5-4.5.5.1.5 3.7.5-1.8.5.5.5 3.7.5-2.2.5-.5.5 1.8.5-3.7.5 3.3.5-2.7.5 6.1.5-3.4.5 3.5.5-5.3.5-2 .5 2.9.5-.2.5-.5.5 3.5.5-1.4.5-1.7.5-.6.5 2.3.5-.8.5 1.3.5-2 .5-1.1.5 3 .5-3.2.5-1.4.5 2.7.5-4 .5 5.9.5-5.4.5 6.5.5-1.7.5-4.1.5 6.9.5-5.3.5-2.3.5-.8.5 2.2.5 2.8.5-.1.5-2.9.5 4.6.5 0 .5-8 .5 1.7.5 3.3.5-3.4.5-.3.5-7.6.5.7.5-12.3.5-14.9.5-19.2.5-29.2.5-28.8.3-7.9.2-3 .5 7.5.5 14.6.5 25 .5 27 .5 14.4.5 12.5.5 10 .5 5.8.5-.4.5.9.5 9 .5-3.6.5 4.4.5-2.7.5.8.5-2.3.5-2.7.5-3.2.5 2.1.5-3.7.5-18.5.5-11.9.5-13.7.5-9.9 0 .1.5-1.5.5 7.1.5 8.1.5 12.9.5 12.3.5 8.7.5 10.8.5 3.6.5.3.5-1.8.5.5.5.9.5 2 .5 1.2.5 2.7.5-3.9.5.3.5 1.4.5-1.8.5-2.1.5.4.5 7.5.5-1.5.5-2.8.5-.6.5 3.6.5-5.7.5 4.2.5-2.6.5 6.3.5-1.9.5 2.3.5-6.8.5 2.4.5-3.7.5 3.1.5 2.5.5-.3.5-.1.5 1.6.5.8.5-4.8.5 3 .5-1.2.5-2.2.5 3.8.5-1.4.5 1.1.5 0 .5-3 .5 5 .5-2.6.5 2.5.5-4.9.5 3.3.5-5.9.5 4.3.5-1.6.5 1.3.5-2.6.5 1.1.5.5.5 5.4.5-1 .5-5.3.5 3 .5-5 .5 3 .5-1.6.5.7.5-1.9.5 2.7.5-2.5.5 4.6.5 1.4.5 1.4.5-1.3.5-5.6.5 2.1.5 5.4.5.2.5-3.8.5-.7.5 1.6.5 3 .5-2.1.5-5.4.5 1.3.5-.8.5 4.9.5-3.5.5 4.1.5-.9.5-5.7.5 6.5.5-.6.5.6.5-5.7.5 1.6.5.9.5-2.3.5 3.4.5-4 .5 1.3.5 4.2.5.6.5-2.7.5.8.5-3 .5 1.3.5-.8.5 1.2.5 3 .5-4.2.5-2.1.5 3.1.5-.7.5 4.3.5 1 .5-2.9.5-1.3.5-1.2.5 2.3.5-.6.5 4 .5.4.5-.7.5-1.7.5.7.5.9.5-1.7.5 0 .5-4.3.5-.9.5-.6.5 2.3.5 6.4.5-1.9.5-6.8.5 2.7.5-1.4.5 5.8.5-.3.5 1.3.5-3.8.5 1.4.5-.9.5 3 .5 1 .5-3.2.5-4.8.5 2.5.5.7.5 4.5.5-3.3.5.6.5-2.3.5 2 .5-3.5.5 4.7.5-4 .5 6.4.5-1.2.5-5.8.5-.5.5 4.9.5.9.5-6.7.5 3.3.5 4.4.5-7.9.5 3.8.5 2.3.5-1.8.5 1.2.5-1.8.5 1.5.5.3.5-3.1.5 3.8.5-4.7.5.8.5-1.7.5 6.9.5-6.2.5 1.3.5 4.7.5-6.4.5 3.6.5 2.9.5-.3.5-6.9.5 1.7.5 5.1.5-5.8.5 7.5.5-5.8.5.6.5-2.1.5-.3.5 1.5.5-.9.5 3.3.5-4.1.5 4.5.5-2.7.5-.2.5 3.1.5-3.6.5.9.5 4.9.5-3.8.5.9.5-.9.5 5 .5-5.9.5 2.6.5-3 .5 4.4.5 2 .5-3.9.5-1.6.5-1.2.5 2.1.5-3 .5 6.4.5.3.5-2.5.5-2.2.5-.9.5 6.1.5-4.7.5 2.2.5-1.5.5 3.8.5-.6.5-4.2.5 2.6.5-5.6.5 4.2.5 1.4.5 1.4.5-3 .5.2.5 2.2.5-6.3.5 4.1.5-2.3.5.8.5-1.3.5 6.4.5-7.6.5 3.2.5 3.9.5-3.8.5 4.7.5-3.2.5 2.9.5.4.5-3.5.5-3.4.5.7.5-1.6.5 1.4.5 1.4.5.2.5-3.2.5 7.3.5-3.4.5-.2.5 4.7.5-7.6.5 1.7.5 3 .5-4 .5 2.8.5-2.2.5 1.6.5-2.8.5 3.2.5 3.6.5-5.9.5 4.7.5-3 .5-3.2.5 1.9.5 5.7.5-6.7.5-1.2.5 4.5.5 1.8.5-1.8.5-.6.5 4.3.5-7.1.5 1.8.5 2.2.5-3.7.5 5.7.5-6.4.5.3.5 3.4.5 3.2.5-3 .5 3.1.5-3.9.5 3.6.5-3.4.5 1 .5.8.5-2.3.5.4.5-3.1.5 3.9.5-1.2.5-1.3.5 5 .5-3.3.5 3.1.5-2.7.5-.2.5-3.5.5-.5.5 5.8.5-4.8.5 4.2.5 1.1.5-3 .5 2.6.5-5.7.5.4.5 7.6.5-8.4.5.9.5 6.6.5-4.6.5.9.5 3.5.5-4.8.5 6.1.5-2.9.5-1.5.5-2.6.5 3.5.5 1.1.5-1.6.5-.7.5 1.3.5 2.6.5-6.5.5 5.6.5.1.5-.3.5-6.6.5 7.9.5-4.9.5.5.5 3 .5-4.9.5 5.3.5.6.5.8.5-5.6.5 5.3.5-5 .5-.3.5 4.8.5-7.6.5 7.3.5-1.7.5-4.2.5 4.7.5-4.5.5.7.5-.6.5 3.4.5.9.5-1.8.5-1.3.5 5.2.5-.6.5-1.6.5 1.9.5-6.2.5-2 .5 4 .5 1.6.5-.8.5-4 .5 1.3.5 1.4.5-.7.5-2.5.5 2.5.5 3.6.5-6 .5 7.4.5-.9.5-.5.5-1.8.5-1.7.5-2.3.5 5 .5-5.6.5-1.1.5 1 .5.5.5 2.1.5.9.5 2.5.5-2.1.5 1.3.5-1.3.5 2.4.5-8 .5 4.7.5 2.7.5-.5.5-3 .5 3.1.5-5.4.5 3 .5-3.1.5 2.4.5-.7.5-4.6.5 3.4.5-4.3.5 1.7.5-1 .5-.4.5.9.5 1.4.5-4.4.5 4 .5-4.4.5-8.8.5-6.3.5-1.7.5-20.2.5-16.8.5-26.2.5-45.7.5-50.7.5-68.3.5-97.4.5-106.9.5-144.1.5-162.3.5-15.8 3.5 0 .5 690.9.5-690.9 4 0 .5 54.3.5 159.7.5 127.7.5 108.8.5 86.5.5 66.4.5 58.7.5 29.3.5 32.2.5 19.6.5 11.2.5 10 .5 6.2.5 2.3.5-1.2.5 5.9.5-5.1.5 7.5.5-1.3.5.9.5.9.5 1.4.5-4.2.5 4.2.5-.2.5 1.3.5-7.1.5 6.2.5-2 .5-3 .5 5.7.5-1.7.5-4 .5 1.9.5 4.6.5-3.3.5-2.7.5 2.8.5 2.5.5.6.5-6 .5 4.6.5 1.8.5-.6.5-2.7.5-2.2.5 1.8.5.5.5 2.4.5 1.1.5-3.9.5 2.9.5.6.5-3.9.5-1.5.5.7.5 6.5.5-5.6.5 2 .5 4.2.5-6.5.5 2.4.5.6.5 3.7.5-4.3.5.7.5-3 .5-.7.5 6.9.5-6.8.5 4.5.5 3.4.5-6.5.5-.4.5.1.5 5.7.5-5.1.5-1.7.5-.2.5 5.3.5-4.2.5 6.4.5-6.8.5 2.7.5-.6.5-.9.5 4.5.5.2.5 1.5.5-5.7.5 6 .5.2.5-5.6.5 1.4.5-4.4.5 7.6.5-3.5.5 3 .5-5.4.5-1.3.5-.1.5 7.5.5-5.4.5 1.6.5 4 .5-3 .5-2.5.5 0 .5 2.4.5 3.3.5-2.7.5.6.5-.3.5-5.3.5 3 .5-.1.5 5.5.5-3 .5-3.8.5 5.5.5 1.2.5-2.4.5 1.3.5-3.8.5 2.2.5-4.4.5.4.5 3.6.5-4.8.5.4.5-.6.5-.2.5.6.5-.4.5 4.2.5-4.6.5 6.3.5-3.4.5 5.7.5-8.7.5 2.8.5 5.6.5-8.1.5 2.9.5 2.1.5-.8.5-4.2.5.4.5 7 .5-1 .5.6.5 1.2.5-.9.5-3.9.5-.6.5-1.1.5-.5.5 1.1.5-2 .5 8 .5-8.3.5 4.6.5-2.8.5 1.5.5-1.5.5.8.5 4.6.5-3.4.5 4.3.5-7.3.5 1.2.5 3.9.5-.2.5-.1.5 1.9.5-3.7.5-1.5.5 3.2.5-.8.5-3.8.5 1.5.5 4.9.5-.7.5-6 .5 2.3.5 4.3.5-2.8.5.9.5-2.1.5-2.2.5.5.5 4.4.5.5.5 1.3.5-1.6.5-3.3.5-.1.5 1.3.5-2.1.5 5.7.5-.6.5.1.5-4.8.5.5.5 2.4.5-4.3.5 5.2.5-5.7.5.2.5 6.4.5-4.5.5.4.5 3.4.5-.1.5 1.2.5-2.4.5-3.3.5 3.8.5-3.9.5 3.7.5-2.8.5 3 .5-2.4.5-.3.5 1.4.5 1.8.5 1.7.5-.7.5-3.7.5.6.5 4 .5-5.6.5 5.5.5-.6.5-6.5.5 4.1.5.1.5-2.1.5 1.4.5 1.4.5-5.6.5 2.7.5 1.4.5.5.5-1.3.5-2.1.5 3.8.5 1.4.5 1.1.5-7 .5-.8.5 1.7.5 1.8.5-.5.5 0 .5 5.2.5-2.2.5-.6.5 1.6.5-2.9.5-3.6.5 1.4.5 3.8.5-.9.5-4 .5 2.9.5 2.5.5-3 .5 4.1.5-5.7.5 3.7.5.1.5-3.8.5 5.7.5-2.9.5 3.2.5-2.2.5.2.5-5.6.5 2 .5 4.8.5.6.5-.2.5-2.5.5-1.9.5-2.2.5 3.7.5 3 .5.6.5-4.4.5-1 .5-1.2.5 6 .5.6.5-.2.5-3.5.5-2.6.5 3.9.5 1 .5.9.5-3.2.5 2 .5-3.4.5 1.6.5-1.5.5 4.3.5-3.7.5.5.5-1.5.5 3.6.5 1.1.5-.5.5-3.8.5-2.2.5 2.9.5.1.5.3.5-3.9.5 5.4.5 2.6.5-2.9.5.6.5.7.5-1.3.5-3.1.5-2.6.5 8.7.5-1.3.5-.8.5-4.6.5 4 .5-.2.5-2.2.5 3.3.5-2.9.5 4.2.5-2.3.5-5.2.5 3 .5-1.2.5 3.1.5 1 .5-6.1.5 2.9.5 1.3.5-2.5.5-1.9.5.2.5 4.1.5-6.2.5 4 .5.1.5 1.4.5-8.3.5 2.5.5-1.5.5-5.6.5 3.4.5-9.4.5-11.6.5-25.1.5-25.5.5-35 .5-14.6 0-.2.5 6 .5 16.5.5 17.8.5 4.2.5 5.5.5 10.1.5 22.9.5 13.1.5 10.8.5 10 .5 8.7.5-3.9.5 8.2.5-2.3.5 1.9.5-.7.5-3.6.5-.2.5.9.5.7.5 7.4.5-4.8.5.6.5-1 .5 2.2.5-3.1.5 6.6.5-6.6.5-.6.5 3.7.5-.6.5 4.4.5-6.7.5.1.5 6.3.5-3.4.5 3.1.5-7.3.5 2.1.5-1 .5 2.9.5-2.3.5 5.1.5-2.3.5-1 .5-2.3.5 4.6.5 2.9.5-4.1.5 2.2.5.3.5-.1.5-5.8.5 3.9.5.8.5.2.5-2.4.5.8.5-1.4.5-1 .5-.6.5 4.2.5-1.3.5-2.7.5.7.5 5.3.5-3.3.5 1.1.5-2 .5 3.2.5-3.3.5.7.5-.7.5-.5.5 3 .5.7.5 1.6.5-5 .5-2 .5 5.8.5-1.3.5 1.9.5-6.3.5 1.6.5-2.3.5 4 .5 2 .5-2.2.5 1.6.5-.3.5-3.4.5 1.9.5 3 .5-1.2.5-4.2.5 1.8.5-2.2.5.6.5 6.5.5-2.3.5-3.4.5 2.8.5-.7.5-2.4.5 4.1.5 1.8.5-1.3.5-1.6.5-1.7.5 4.8.5-.8.5-4.9.5-.6.5 1.2.5-.6.5 2.5.5-4.5.5 6.8.5-5.8.5.7.5-.4.5-1.9.5 6.1.5-.6.5-1.1.5 2.4.5-2.1.5-.5.5 1.3.5-4.2.5 5.3.5-4.3.5 0 .5 2.9.5-4.6.5.3.5 6.9.5-1.8.5-2.4.5-2.4.5.8.5.6.5-.4.5 1.8.5-3.4.5 7.2.5-5 .5 1 .5.2.5 4.3.5-.5.5-5.5.5.9.5.7.5-.2.5 4.7.5-4.7.5-3.8.5 3.2.5-2.7.5 8.1.5-8.1.5 3.7.5-.6.5-2.4.5 5.1.5-3.5.5-1.1.5-1.5.5 3.5.5 2.1.5.9.5 1.7.5-1.8.5 1.8.5-8 .5 1.5.5-2.1.5 3 .5 3.7.5.1.5-5.4.5-.2.5 6.5.5-5 .5 3 .5 2.1.5-1 .5-1.6.5 2.5.5-6.7.5.4.5 2.3.5 3.4.5-4.7.5 1.2.5-1.6.5-1.6.5 1.3.5-.2.5.3.5-.4.5 5.6.5-3.6.5 1.5.5 2.3.5-4.1.5-1.7.5 1 .5 5.3.5-1.4.5-5.8.5 7.2.5-3 .5 1.8.5.6.5-5.6.5 6.1.5-6.4.5 4 .5-2.2.5 3.1.5-4.1.5 2.3.5-2.7.5 1.7.5-2.6.5 4 .5 1.9.5 1.5.5-4.8.5-.7.5.6.5 5.2.5-6.2.5-1.9.5 4.1.5.6.5 3 .5-8.1.5 5.4.5 3 .5-2 .5.8.5-7.1.5 1 .5-.6.5 5.9.5 1.5.5-1.7.5-3.8.5 3.9.5-1.1.5-2.5.5 1.5.5 3.1.5-1.6.5.4.5-2.5.5 4 .5-1.2.5.2.5-.8.5-1 .5 1.9.5-1 .5-2.3.5-.2.5-3 .5-.7.5 5.4.5 0 .5-2.6.5 2.9.5 1.1.5-7.1.5 7.6.5-1.3.5-6.7.5 1.3.5-.3.5 1.7.5-1.1.5-1.6.5 1.3.5-4.7.5.7.5 4.1.5-6.3.5 2 .5-.3.5-3.7.5-6.2.5-1.5.5-3.1.5-10 .5-13.5.5-27 .5-28.8.5-42.4.5-30 .2-7 .3 2 .5 23.8.5 26 .5 14.7.5 3.3.5-.4.5 9.3.5 18.5.5 25.1.5 20.7.5 7.3.5 14.6.5 2 .5 6.6.5-6 .5 4.6.5 3.6.5 0 .5 3.9.5 1.2.5 0 .5 1 .5-2.3.5-.5.5-1.8.5 2.6.5-4.3.5 6.4.5.3.5-3.2.5-.4.5 2.6.5 1.3.5-5.9.5 5.8.5-.9.5-4.1.5-2.2.5 3.6.5-1.3.5 2.2.5 1.4.5-7.5.5 1 .5.6.5-6.4.5-.2.5-5.9.5-9.9.5-16.2.5-24.1.5-16.6.4-4.4.1 0 .5 6.7.5 16.7.5 7.1.5 1.4.5 7.4.5 2.3.5 2.2.5 15.9.5 8.5.5 4 .5 8.5.5 6.9.5-6.4.5 4.6.5 6 .5-7.9.5 6.7.5-.9.5-4.3.5 1.2.5-1.2.5 3 .5-2.9.5 7.6.5-4.2.5 1 .5.3.5-2.8.5-.6.5 7.1.5-4.9.5 3 .5.9.5-1.7.5 1.7.5-5.9.5 1.4.5-1.1.5 5.7.5-1.9.5 1.2.5-3.5.5 4.1.5-4.1.5 1.1.5 1.9.5-4.4.5 1.4.5-2 .5 2.4.5-1.5.5 5.9.5-6.8.5 5.7.5-4.1.5 4.6.5-2.7.5 2.1.5-4.4.5-1 .5 7.1.5-7 .5.2.5 0 .5 6.2.5.6.5-5.6.5 2.6.5-.8.5-1.7.5 4.8.5-4.2.5 1.8.5.4.5 3.7.5-4.9.5-2.7.5 4.4.5-4.8.5 8.2.5-3.4.5-4.4.5 4 .5 2.5.5-2.3.5-3.3.5 3.3.5-4.3.5 5.6.5.6.5-6.4.5.1.5 4.4.5 2.7.5-6.3.5 7.1.5-7.9.5 7.8.5-1.7.5-5.4.5 6.8.5-.6.5-.4.5-5.9.5 3.5.5-2 .5 3.9.5-4.2.5-.2.5 4 .5-2.4.5-2.5.5 3.3.5-1.4.5 5.2.5-5 .5-1.4.5 5 .5-5.8.5 6.2.5 1.7.5-1.4.5 1.1.5-6.8.5 2.3.5-.5.5-2.2.5 7.2.5-3.4.5 1.2.5-1.5.5.9.5 2.8.5-1 .5-.1.5-5.9.5 6.2.5-3.2.5-.1.5-.2.5 3.8.5-2.1.5-5.4.5 4.7.5-1 .5-.1.5 1.4.5 2.6.5-4.3.5-3.4.5.6.5 4.9.5-1.5.5 2.4.5-2.9.5-1.9.5 1.8.5 3.6.5-1.5.5 2.6.5-3.1.5.7.5 2.3.5-5.6.5 1.1.5 1.7.5.3.5 1.9.5-4 .5-.1.5 1.5.5 1.3.5-2.8.5 1.4.5-2.9.5 6.2.5-7.9.5.2.5-.8.5 8.2.5-4.1.5 1.6.5-.1.5-2.3.5-2.2.5 2.6.5-1.9.5-.8.5 4.8.5 2.7.5-2.8.5-1.6.5 3.8.5-4.9.5 1.1.5.1.5 3.6.5-7.9.5 8.5.5-1.2.5-6.2.5-.6.5.9.5-.4.5 7.3.5-8.3.5.8.5 2.2.5-1.3.5 4.6.5-3 .5 1.3.5-1.5.5 1.5.5-4.7.5 4.6.5.4.5-2.1.5-2.1.5 5.4.5-3.6.5-4.6.5 6.2.5-2.9.5-4.6.5.8.5 1.2.5-.9.5 3.2.5-.3.5-9.8.5 3.7.5.4.5-2.1.5-6 .5 2.8.5-3.7.5 5.1.5-7.7.5 2.8.5-2.7.5-1.1.5 5.3.5-4.7.5 2.5.5.5.5 1.3.5-3.8.5 8.5.5-2.5.5 4.1.5-2.7.5 4.2.5-1.8.5-2.6.5 1.8.5 7.4.5-1.5.5 3.8.5-.3.5-4.2.5 2.5.5 3.5.5-2.4.5-2.7.5 6.1.5-2.4.5.3.5 4.3.5-8.2.5 7 .5-.8.5-.1.5-5.9.5-1 .5 1.7.5-2.4.5-7.6.5.3.5-4.8.5 8 .5 1.5.5.6.5-1.5.5-2.8.5-.1.5 3.7.5 3.2.5.5.5 5.6.5-3.7.5 2.5.5 1.1.5-1.4.5-1.6.5 6.6.5-5.2.5 1.1.5-2.2.5 5.4.5-2.3.5-3 .5 3.7.5-.8.5-4 .5 2.2.5 5.8.5-8.2.5.2.5 3.9.5-2.2.5 5.7.5-5.1.5-1.3.5.8.5 5.8.5-2.5.5-5 .5 2.1.5 1.3.5 1.1.5-.8.5 2 .5-4.3.5 4.4.5-4.5.5 3.3.5-2.8.5 3.3.5 1.3.5 1.4.5-5.5.5 5 .5-3.4.5-3.6.5 2.2.5-1.9.5 1.4.5 5.4.5-2.3.5-4.4.5 7.1.5-2.1.5-1.6.5.1.5-1.8.5 1 .5-2 .5-1.3.5 0 .5 6.5.5-.4.5 1 .5-4.4.5-1.6.5.2.5.1.5 6 .5-4.1.5 4.4.5-5.1.5 4.1.5-4.8.5 3.1.5-1.8.5-.3.5.2.5-3.2.5 5.5.5-2.3.5 1.7.5 1.1.5-1.5.5-2.3.5 3.8.5-1.3.5 2.5.5.4.5.2.5.5.5-3.4.5-4.7.5 6 .5-3.3.5 2.2.5 2.8.5-1.5.5-5.6.5.9.5 3 .5-.2.5 3.9.5-2.9.5-5.2.5 4 .5-3.3.5 7 .5.1.5-5.3.5 5.3.5-8.1.5.8.5 2.1.5-2.7.5 2.6.5-.5.5 3.4.5-2.8.5 5.1.5-7 .5 5.8.5-5.7.5 4.1.5-2.3.5 2.2.5.3.5-1.9.5 2.4.5-3.5.5-2.6.5 1.6.5.4.5 5.2.5-1.1.5.4.5 1.4.5-1.9.5-1.3.5-1.1.5-1.8.5 3.7.5-1.5.5-3.1.5 3.9.5-2.3.5-1.1.5 2 .5-3.3.5 7.3.5-2.8.5-1.7.5-.8.5 4.2.5-6.2.5-.4.5 6.8.5-.9.5-3.6.5 4.5.5-4.8.5-.4.5 3.2.5.7.5-3.7.5 3.7.5-3 .5-2.4.5.4.5 6.7.5-7.6.5 8.2.5-6.6.5-.9.5 6.6.5-.5.5-5.7.5 4 .5-.3.5.5.5-5.4.5 7.9.5-7.3.5 3 .5 3.4.5-2.5.5-2.8.5-.9.5 6.1.5-1.2.5-3.2.5-2.1.5 1.9.5-1.7.5-1.1.5 7.3.5-8.6.5 7.7.5-4.5.5.4.5-.2.5-3.3.5 1.5.5-.6.5-4.4.5 2.1.5-5.5.5-1.7.5-.4.5-6.6.5-6.4.5-17.8.5-16.5.5-28.7.5-39.2.5-28.9.5-14 0-.1.5 8.7.5 26.7.5 23.3.5 15.2.5 11.8.5-4.6.5-4.8.5 4.4.5 14.4.5 17.2.5 10.2.5 21.7.5 5.2.5 9.5.5-.9.5 7.8.5.6.5-.5.5-.4.5 5.8.5-1.6.5-.3.5 2.2.5-3.8.5 3.5.5-3.5.5.4.5.4.5-4.8.5-7.6.5-4.8.5-11.4.5-13 .5-21.6.5-18.2.5-13.6.3-1.7.2 1.1.5 10.5.5 15.9.5 16.6.5 6 .5.3.5-3.5.5-1.3.5-.6.5 9.1.5 17.3.5 2.2.5 10.2.5 7 .5 2.7.5.9.5-2 .5 5.5.5 2.1.5-.2.5-4.1.5 5.5.5.1.5-.2.5-3.9.5-.1.5 5.1.5 1.5.5-.6.5-4.5.5 3.5.5-5.5.5.1.5 6.7.5 1.4.5-.9.5-1.7.5 1.5.5-2.3.5 1.1.5 1.3.5-3.3.5 1.3.5-2.4.5 5.8.5-6 .5 6.5.5-4.8.5 3.8.5-1.9.5-2.9.5 4 .5-5.6.5 1.1.5 3.7.5-5.4.5-.2.5 7.9.5-3.8.5 3.6.5-5.7.5.7.5-1.1.5.2.5 3.7.5-2.5.5-1.2.5.4.5 2.6.5-4.8.5.6.5.2.5 3.5.5-.2.5-1 .5 2.9.5-3.7.5-2.3.5.2.5 2.7.5 5.6.5-2.1.5-4.4.5 1.1.5-2.2.5 2.5.5 3.4.5-2.5.5-3.9.5-.2.5.1.5 7.7.5-2.4.5-2.9.5-2.9.5 6.9.5-5.7.5 3.3.5-2.8.5 3.7.5-4.6.5 6.7.5-.3.5-1.9.5-2.6.5-.9.5 4.2.5-3.1.5-1 .5 1.5.5-2.6.5 1.2.5 5.8.5-6.7.5-.3.5 6.2.5 1 .5-6.7.5 6.5.5-6.6.5 5.4.5-3.2.5-1.9.5 6 .5-3.8.5.6.5-.7.5-1.5.5-1.9.5-.2.5 6.8.5-6.2.5 1.9.5 6 .5-5.1.5-3.3.5 3.8.5.6.5-2.1.5 4.1.5 2.3.5-1.9.5-1.1.5-.1.5-4.5.5.7.5 6.3.5-1.1.5.4.5-4.2.5-1.4.5 6.1.5-.5.5-6.3.5.2.5 5.4.5.7.5-3.6.5 0 .5 2.3.5 2.1.5-6.7.5 2.7.5-.2.5 2 .5.6.5-3.4.5 3.2.5-.4.5-5.8.5 5.1.5-3 .5 2.6.5-.1.5 0 .5.1.5-2 .5-2.8.5 3.4.5-3.6.5 4.7.5 3.6.5-4.7.5-2.5.5 1.6.5 3.3.5-.5.5-3.6.5-1.2.5 7 .5-.4.5-7.4.5 3.1.5 4.7.5-1.7.5 2 .5-4.3.5 4.8.5-3.6.5 1.1.5-4.5.5 3.4.5 0 .5-2.3.5.8.5 3.4.5-4.2.5 4.8.5-5.2.5 6.3.5-4.6.5.6.5 3.1.5-3.9.5-3.1.5 7.6.5-.7.5-5.6.5-1.7.5 2.4.5 2.5.5-2.6.5-1.4.5-1.3.5 3.5.5 1.7.5-2.2.5-2.4.5-.3.5 4.4.5-.5.5-4.2.5 4.6.5-4.1.5 1.6.5.9.5-2 .5 6 .5-5 .5 2.5.5 3.7.5-2.5.5-5.5.5 1.3.5 3.4.5 1.9.5-.8.5.6.5-6 .5 6 .5 1.2.5-1.5.5-5.4.5 6.2.5-3.6.5 3.7.5-1.2.5-4.6.5-.9.5 5.3.5-5.3.5 5.6.5-5.3.5-.6.5.3.5 6.6.5-2.8.5 1.4.5-4.5.5-.4.5 5.5.5-5.7.5 7.8.5-8.7.5 2.9.5 2.7.5-2.7.5 3.6.5-6.5.5 3.5.5-2.7.5 6.5.5-.3.5-3.7.5.7.5 3.3.5-2.5.5 1.7.5-1.1.5 2 .5-3.5.5 2.5.5-1.5.5 2 .5-5.1.5 2.7.5.8.5-4.2.5 1.9.5-1.4.5.9.5.9.5 2 .5 1.6.5-5.6.5 7.2.5-2.7.5 2 .5-2.6.5-1.5.5-.5.5-2.4.5 7 .5-2.8.5 1.7.5-1.8.5 3.2.5-6.8.5 2.9.5-.1.5 3.4.5.9.5-6.5.5 4.7.5-3.9.5 2.1.5-.4.5-2.9.5 6.7.5-6.7.5 2.2.5 2.3.5-2.5.5 3.4.5-3 .5 4.4.5-6.9.5-.5.5 2.2.5 1.1.5 1.8.5-.9.5-2.8.5 4.9.5-2.8.5 1.2.5-3 .5 5.3.5-5.6.5 5.2.5-1.8.5-5.6.5 3.6.5.3.5-.9.5 3.5.5-4.3.5 5.1.5-4.5.5-2.8.5 6.2.5-6.3.5 6 .5-.2.5-5.3.5.7.5 5.3.5-6.1.5 4.9.5-3.2.5 5.2.5-3.7.5-.6.5-1.2.5-.9.5 7.2.5-4.1.5 2.5.5-5.7.5 7.2.5-5.6.5-3 .5 1 .5 1.9.5 1.3.5.2.5-2.4.5-1.4.5 1.6.5-2.3.5 7 .5-5.4.5 5 .5-2.8.5 4.8.5-7.8.5.7.5.9.5 2.3.5-4.7.5 6 .5-2 .5.6.5-3.1.5 4 .5-3.3.5 1.5.5.6.5-2 .5-2.5.5 6.3.5-2.8.5-3.5.5.5.5 1.3.5 0 .5-.3.5 3.9.5-4.1.5 6.2.5-4.2.5 4.2.5-1.6.5-2 .5-3.2.5 5.7.5 1.3.5-1 .5-1.2.5-.7.5.8.5-7.3.5-1.5.5 6.5.5-5.5.5-4.5.5-2.9.5-4.5.5-4.1.5-7.4.5-1.7 0 .2.5 1.5.5 3.7.5 6.9.5 4.9.5-.4.5 2.2.5-6.3.5 5.6.5-4.9.5 4 .5-3.2.5 5.7.5 3.5.5 4.1.5-3.5.5 1.4.5 1.4.5 1.5.5 4.2.5-.4.5-1.1.5 2.9.5-2.6.5 2 .5-3 .5-2.6.5 2.2.5 2.8.5-3 .5 3.8.5-2.1.5-4.4.5-1.7.5 1.6.5-4 .5 4.9.5-4.6.5-2.5.5-4.4.5-13.2.5-9.4.5-11.7.5-9.3.5-3.2 0 .6.5 2.9.5 6.4.5 14.4.5 3.4.5 10 .5-6.4.5 4.1.5-4.8.5-1.3.5-1.3.5 2.7.5 5.6.5 8.5.5 2.1.5 4.2.5 6.4.5-2.3.5-.4.5 1.9.5.9.5-.6.5 7 .5-5.8.5 3.6.5-4.5.5-.4.5 5.1.5-.4.5-3.3.5 6.2.5-6.8.5 6 .5-3.4.5-1.6.5 4.4.5.2.5-1.3.5-2.7.5 4.9.5-7.1.5 6.7.5-6.2.5 1.8.5 1.6.5-1 .5-2.2.5 4.8.5-4.4.5 7.1.5-.8.5-1.3.5 1.2.5-6.4.5 5.9.5-2.4.5 0 .5.2.5-3.3.5.8.5-.7.5 5.7.5-5.3.5 5.3.5.1.5-5.5.5 4.9.5 1.8.5-2 .5-1.4.5-2.7.5 2.9.5.4.5-.8.5-.7.5-.2.5 2.4.5 1.4.5-7 .5 1.1.5 6.8.5-4.6.5 4.3.5-8.1.5 4.7.5 3.2.5-7 .5.5.5.1.5 5.2.5-.2.5 1.1.5.3.5-6.2.5-.9.5.8.5 3.1.5 3.6.5-6.1.5 0 .5 5 .5-1.3.5.6.5-1.5.5.9.5-5.8.5 4 .5-2.3.5-.5.5.6.5 5.8.5-3.5.5 2.7.5-4.1.5 3.8.5-6.2.5 5 .5-5.3.5.7.5 2.3.5 4.5.5-7.2.5 2.3.5 2.7.5-3.6.5 3.7.5-.5.5-3.5.5-.4.5-.3.5 2.3.5-2.6.5 1 .5 1.7.5 1.4.5.1.5 3.2.5-.4.5.1.5-5.2.5 0 .5 3.2.5-5.8.5 3.4.5 3 .5-.4.5.7.5 0 .5-4.4.5-2 .5 8.3.5-3.9.5 3.9.5-1.8.5-.8.5-5 .5 3.2.5-.3.5-2.7.5 4.4.5-5.6.5.3.5 1.6.5 3.7.5-3.8.5-1 .5-.1.5 2 .5.2.5-.3.5 3.4.5-4.7.5 1.4.5 4.5.5-1.5.5-4.2.5 6.3.5-6.1.5 3.8.5 2.1.5-4.3.5-2.3.5 3.9.5-4.1.5 1.5.5 2.1.5 2.4.5-3.9.5 1.6.5.3.5-3.3.5-.7.5-.7.5 6.6.5-4.3.5 3.6.5-2.5.5 4.8.5-5.3.5 3.4.5-3.9.5-.1.5-.6.5 2.1.5 3.8.5-3 .5.9.5-5.9.5 5.5.5-4.3.5 4.7.5-5.1.5 1.6.5-1.7.5 6.8.5-1.3.5-6.8.5 4.7.5 1.1.5-6.5.5 4.5.5-5.7.5 7.4.5-2.8.5-.4.5 1.1.5-5 .5 3.6.5-1.6.5-4.9.5.9.5 2.8.5 1.8.5-4.7.5-1.1.5 7.7.5-3.7.5 3.3.5-6.6.5 8.7.5-4.4.5 2.6.5 2.3.5-.9.5.3.5-1 .5 2.8.5-1.5.5 1.8.5-4.8.5.7.5 3.5.5 2.4.5-4 .5 1.3.5.6.5-4.7.5 6.9.5-3.8.5 1.7.5-4 .5 5.4.5-7.2.5 1.7.5.8.5 3 .5.9.5 1.4.5-7.5.5 5.8.5-6.2.5 8.1.5-5.4.5.9.5 3.3.5.8.5-3.3.5-.6.5 4 .5-7.8.5 5.6.5 1.3.5-.7.5-2.1.5 1.1.5.2.5-3.2.5-1.1.5 4.1.5-.5.5-.9.5 2.7.5 1.6.5-2.1.5-4.4.5-1.9.5 8.2.5-3.5.5-4.8.5 1.2.5 6.7.5-2.1.5-5.8.5 1.8.5.6.5.7.5-2.1.5 2.4.5 2.8.5-3 .5.4.5.1.5 4.8.5-1.9.5-5 .5-1 .5 3.1.5 4 .5-6 .5 2.5.5-4 .5 3.5.5 1 .5 1.4.5 1.1.5-2.2.5 1.8.5 1.2.5-.5.5-1 .5-.1.5-2.1.5 2.2.5-1.4.5 2 .5-6.4.5 1.5.5 3.3.5-.8.5-4.3.5 6.4.5-1.8.5-.8.5.4.5 0 .5.4.5 2.2.5-4.8.5-1.1.5 3.8.5-4.5.5.4.5 2.3.5 2.8.5-.2.5.6.5-2.5.5-1.1.5.1.5-1.7.5-.9.5-.6.5.3.5-.1.5 7.2.5-6.6.5 5.1.5-6 .5 3.7.5 2 .5-5.9.5 8.2.5-7.8.5 7.6.5-5 .5-.6.5 3.4.5-.9.5 2.6.5-2 .5 2.6.5-3 .5-4.1.5-.3.5-1.1.5 6.1.5-3.5.5-.3.5.7.5 3.2.5.1.5-6.6.5.4.5.1.5-.5.5 5.7.5.5.5-2.8.5.8.5 2.5.5-2.3.5-4.9.5 1.6.5-3.1.5 2.3.5 5 .5-.3.5-9 .5.9.5.6.5.3.5-3.9.5 2.9.5-6.7.5-3.5.5 1.2.5-2 .5-5.3.5-.6.5-3.2.5-1.5.3-.5.2.3.5-.3.5.4.5 1.9.5 1 .5.6.5 3 .5-.3.5-1.1.5 1.5.5-1.2.5 8.3.5-.5.5-2.7.5 8.6.5 1.3.5-4.9.5.6.5 4 .5 6.7.5-1.2.5-3.1.5 1.7.5 4.9.5-4.2.5 3.8.5 0 .5 1.7.5-4.1.5 1.4.5 3.9.5-5.1.5.1.5 5.5.5-1.5.5-4.8.5 3.4.5 2.1.5-1 .5-3.6.5 4.1.5-6.3.5 6 .5-2.3.5 2.7.5.1.5-6.5.5 7.4.5.4.5-7 .5-.5.5 5.5.5-1.7.5 1.1.5-1 .5 2.1.5-.5.5.3.5-3.8.5.7.5.2.5 2.3.5-.1.5-2.7.5 2.6.5-4.8.5 5 .5-5.5.5 5.9.5-2.5.5-2.1.5-2.4.5 1 .5-2.8.5-7 .5-3.4.5.8.5-3.3.5 2.3.5-2.1.5 6.6.5-4.1.5.1.5 6.6.5 1.2.5-.9.5 4 .5-5.5.5-2.5.5.8.5 2.2.5-.8.5 2.6.5 6 .5-2.5.5-.8.5.1.5.9.5 4.5.5.8.5-.4.5 1.9.5-3.8.5 1.4.5 2.5.5.2.5 2.4.5-7.8.5 3.1.5 1 .5 4.4.5-1.3.5-6.8.5 5.1.5-1.7.5-2.9.5 2 .5 1.3.5 2.1.5-3.1.5.5.5-1.9.5 1.1.5 5.1.5-3.9.5-3 .5 4.2.5 1.6.5-1.6.5-4.4.5 3.6.5-1 .5-.6.5 1.6.5-.1.5 3.6.5-6.7.5-.4.5 3.1.5 0 .5-2.5.5 5.6.5-.4.5-3.3.5-1 .5.6.5.6.5 1.2.5-.5.5-2.8.5 7.6.5-3.8.5.4.5-1.9.5-1.4.5 6.3.5-7.4.5-.9.5 5.2.5-2.8.5-1.3.5 3.9.5-.2.5-1.4.5 1.1.5 2.8.5-.2.5-4.5.5-1.1.5 4.1.5 2.5.5-.9.5-6.3.5.5.5-.2.5 1.3.5 3.2.5-.7.5-4.9.5 4.8.5-.6.5-1.4.5-3.3.5 7.1.5-5 .5.1.5.9.5.2.5 1 .5 2.4.5-3.8.5 1.9.5 1.5.5-2 .5-4.5.5 4.5.5-.1.5-1.4.5-.8.5 4.9.5-4.5.5-1.8.5 6.6.5-4.5.5 1.7.5-4.5.5 5.4.5-5 .5.5.5.3.5-3.2.5-1 .5 3.3.5-3.5.5.4.5-1.8.5 1.2.5-5.5.5 3.5.5-3 .5-.1.5 3.4.5 1.1.5-.7.5-.9.5-.7.5 6.1.5-.2.5 1" stroke="#70D040"/>
<path d="M258.5,592.1l.5.8.5 1.2.5 4.5.5-.9.5-3.4.5-.8.5 7 .5-1.3.5-6.4.5 6.8.5-4.7.5 2.9.5-2.8.5-1.9.5 2.5.5 1.7.5.6.5-2.6.5-.1.5 2 .5-.5.5-.6.5 2.5.5.7.5-3.5.5 4.2.5-4.4.5-1.8.5-.2.5 5.1.5-1.4.5-4.5.5 5.1.5-5.7.5 7 .5-5.6.5 7 .5-5.5.5-1.2.5 2.3.5-.7.5-2.5.5-.7.5 7.2.5-3 .5 4.2.5-2.9.5 2 .5-.1.5-4.1.5 4.8.5-.6.5 1.3.5-7.1.5 5 .5 1.5.5-4.8.5-.8.5.7.5.8.5.1.5-1.6.5 3.6.5-4.7.5 1.3.5-1.4.5-.3.5.4.5 2.9.5-.1.5-1.8.5 1.3.5 4.9.5-7.9.5 6.4.5-2.6.5.3.5 3.2.5-4.3.5-.2.5-1.9.5 1.7.5 2.7.5-2.3.5-3.5.5 2.8.5-1.9.5 7.3.5-6.1.5 4.2.5.3.5-1.5.5 1.2.5.7.5-1.3.5-.3.5-.4.5-5.1.5 6 .5-1.4.5.8.5-4.6.5 1.7.5-3.7.5 1 .5-2.2.5-7.1.5-4.8.5-22.2.5-20.5.5-28.5.5-28.5.3-8.7.2-2.3.5 7.5.5 18.1.5 22.7.5 21.7.5 21.6.5 16.8.5 2.8.5 11.3.5.6.5-2.3.5-.3.5 4.6.5 4.2.5-4.8.5 1 .5 3.1.5-3.9.5-6.9.5 3.2.5-8.9.5-12 .5-20 .5-11.4.3-5 .2-1.3.5 5.1.5 7.8.5 14.3.5 7.4.5 13.3.5 8.5.5.6.5 2.6.5 8.1.5.7.5-1.4.5.5.5-.8.5.4.5-4.5.5 2.8.5-2.4.5 3.2.5 3.5.5-2.8.5 3.7.5-3.7.5 4 .5-6.9.5 5.6.5-5.2.5 6 .5.2.5-.3.5-5.1.5.1.5.7.5 1.6.5 3.8.5-.8.5 1.9.5-7.9.5 7.1.5-5.2.5 6.3.5-2.4.5-2.8.5 3.7.5 1 .5-7.2.5 5.4.5 2.5.5-6.2.5-2.5.5 4 .5 4.5.5-3.4.5-1.6.5 3.2.5-1.5.5-2.8.5.7.5-1.5.5-1 .5 3.8.5-4.1.5 7.7.5-3.5.5-1.4.5-2.2.5 4 .5.4.5-4 .5 3.7.5 3.7.5-3.5.5 1.6.5-3.4.5-1.4.5 6.8.5-2.3.5-5.2.5.8.5.3.5 3.5.5-5 .5 1 .5.2.5 2.5.5-.9.5 4.6.5.8.5.2.5-.3.5-4 .5-3.8.5 3.2.5-1.8.5.3.5-1.7.5 5.9.5-1.9.5-3.8.5 5.3.5-3.2.5 2.5.5 2.3.5-.4.5-1.4.5 2.9.5-7.5.5 4.7.5 1 .5-4.9.5 7 .5-6.6.5 2.7.5 3.2.5-2.7.5-5.2.5 8.4.5-2.1.5.9.5-3.6.5 3.5.5-5.8.5 4.3.5-5.1.5 7.3.5-.9.5 1.8.5-.2.5-1.2.5-3.5.5.3.5-1.5.5 4.3.5-3.2.5-3.4.5 5.9.5.8.5.4.5-6.8.5 2.9.5 1.2.5 0 .5 3.7.5-1.2.5-4.2.5 4 .5-2.3.5-3.5.5 6.4.5-2.5.5-2.6.5.2.5-.7.5-.8.5 3 .5 3.1.5-2.5.5-3.6.5 6.4.5-.8.5.8.5-6 .5 6.9.5-.4.5-4.1.5-1 .5 2.7.5-2.9.5.4.5 2.8.5 2.8.5-5.5.5.6.5-2.9.5 2.2.5 5.7.5-1.2.5-1 .5-3.7.5 3.7.5.6.5.5.5-.8.5-2 .5-1.8.5-1.3.5 6.6.5-4 .5-3.7.5 5.1.5 2.4.5-4.6.5-1.6.5 7 .5-.4.5-2 .5-.5.5 2.2.5.3.5-3 .5-4.7.5 3.4.5 2.6.5-6.1.5 6 .5 1.3.5.1.5.9.5-7.9.5 3.4.5-4 .5 3.9.5 4.2.5-2.7.5.3.5 1.6.5.7.5-5.4.5-1.6.5-.5.5 6.1.5-3.3.5 3.2.5-5.3.5-.6.5 8 .5-1.6.5-6 .5-1 .5 1.2.5 6.9.5-4.7.5-1.5.5 1.7.5.3.5-2.1.5 6.4.5-4.5.5-3.6.5 3.7.5 1.7.5 2 .5-6.7.5 2 .5-2.6.5 0 .5 2.4.5-1.5.5.3.5.7.5 2.9.5-2.3.5-1 .5 4.6.5-4.6.5 1.6.5 2 .5-.5.5-4.3.5 7.6.5.2.5-4.1.5 3.5.5-6.6.5-.6.5 5 .5 0 .5-2.7.5-2 .5 2.2.5-2.3.5 4.9.5-1.1.5-2 .5-.4.5 3.1.5.3.5-4.4.5 1.6.5 1.2.5 2.5.5-1 .5 2.4.5-1.4.5 1.4.5-1.2.5-3.5.5.5.5-2.5.5 2.5.5 2 .5-.1.5-4.3.5 7.2.5-1.3.5-2.5.5 2.7.5-2.3.5 2.1.5-4 .5-2.2.5 4.2.5-3.4.5 6.8.5-.9.5-.4.5-5.6.5 4.5.5-2.7.5-2.5.5 2.6.5 1.4.5-1.3.5-.9.5.5.5.5.5 3.6.5-7.4.5 2.1.5-1.3.5.8.5 5 .5-2 .5-1.4.5 3.8.5-5.7.5 2.9.5-.9.5-2.9.5 5.3.5-.2.5-2.3.5 4.4.5-1.4.5.4.5-6.7.5 2.9.5-1.4.5 1.4.5 2.8.5-.5.5-5.1.5 2.9.5.1.5 1.6.5-4.2.5 5.9.5-5.7.5 1.5.5-.3.5-2.3.5 4.4.5-.4.5 1.1.5-2.3.5-1.6.5.7.5 4.7.5-5.1.5 6.9.5-5.5.5 4.2.5-1.3.5-2.2.5 3.7.5-5.1.5.5.5-1.1.5 2.6.5-3.2.5.8.5 1.8.5-1 .5 3.5.5-3 .5 2.7.5 1.2.5-4.1.5-2.9.5 4 .5 2.6.5-4.2.5 3.9.5-4.1.5-.8.5 4.6.5-.8.5-1.4.5-2 .5-.3.5-2.4.5 3 .5-3.1.5 6.2.5-.6.5-6.6.5 1.3.5 3.1.5 2.4.5-2.3.5-2 .5 2.7.5-5.9.5-3.6.5 4.3.5-.9.5-.1.5-1.7.5-2.3.5 2.5.5 2.2.5-.1.5-7.2.5 2.7.5 5.2.5-1.9.5-2.4.5 3.8.5-2 .5-2.6.5 6 .5-.6.5 2.8.5-4.8.5 1.9.5-.6.5 1.9.5-3.1.5-.1.5-3.2.5.7.5 5.1.5-1.6.5-4.4.5-1.5.5-5 .5-8.2.5-18.7.5-13.4.5-36 .5-41.2.5-65.4.5-85.2.5-116 .5-155.9.5-112.2 5 0 .5 568.9.5-568.9 5 0 .5 57.9.5 163.8.5 130.6.5 96.1.5 71.2.5 43.9.5 40.4.5 19.3.5 16.8.5 9.2.5 7.7.5-3.8.5 8 .5-1.9.5.6.5-.8.5 4.7.5.1.5-2.6.5 2.8.5 3.1.5-.8.5-4.6.5 5.5.5-2.3.5-1.3.5 0 .5 1.7.5-1.2.5-1.6.5 4.5.5 1.4.5-.3.5-2.9.5 4.9.5-5.6.5 5.3.5 1 .5-4.9.5 3.7.5-3.8.5 5 .5-.5.5-1.7.5-2.1.5 1.6.5-3.6.5.3.5 7.1.5-6.2.5-1.4.5 6.4.5-1.1.5-1.2.5-3.7.5 6.5.5-.4.5-5 .5 5.2.5-5.6.5 4.1.5-4.6.5 6 .5-.3.5-3.6.5-.3.5.8.5 4 .5-2.3.5-1.8.5 0 .5-2 .5 1.8.5.9.5-.4.5.5.5-1.5.5 3.5.5-2 .5 1.1.5 4.3.5-3.2.5 1.1.5-.4.5 2.9.5-7.3.5 4.7.5-1.9.5 3.1.5-2.6.5-2.4.5 1 .5-1 .5.9.5-2.7.5 3.3.5 3.9.5.6.5-7.6.5 3.3.5-.4.5-.8.5-.2.5 3.5.5 1 .5-2.7.5 1.8.5-1.6.5 1.2.5-5.2.5.3.5 2.3.5-1.8.5 2.6.5 2.1.5.4.5-.2.5-1.9.5 4.4.5-.1.5-8 .5 7.2.5-.2.5-4.3.5 1.8.5-2.3.5 6.4.5 0 .5-3 .5-3.7.5 5 .5-2.1.5-3 .5.6.5 2.2.5 3.3.5-.4.5-.1.5-2.1.5-5 .5 6.7.5-4.2.5-.5.5 3 .5-3.3.5 5.7.5-7.3.5 7.9.5-2.4.5 2.7.5-1.7.5 1.7.5-4.3.5 2.2.5-6.1.5 4.1.5 3.7.5-7 .5 7.6.5-4.6.5 2.1.5.6.5-2.3.5 3.7.5-3.5.5-.5.5-.8.5-1 .5 6.2.5-6.6.5 3.6.5-.6.5 3.7.5-2.7.5.4.5-4.2.5 1.5.5-2.1.5 5.2.5.5.5-2.1.5 3.5.5-.5.5-2.4.5-5.3.5 1.6.5 5.2.5 1.9.5-1.2.5.4.5-7.4.5 5.7.5.3.5-5.5.5 3.3.5-.6.5 4.7.5 0 .5-1.6.5-.7.5-1.2.5-1.4.5.2.5 2.1.5 3.1.5-1.6.5-7.1.5 6.2.5-4.5.5 3.9.5-2.1.5 4.4.5-5.8.5 3.5.5-3.9.5-.5.5 5.3.5-4 .5-2.4.5 4.8.5 3.3.5-4.1.5 2.2.5.4.5-6.7.5 8 .5-1.2.5-1.6.5 1.6.5.5.5-.9.5-1.9.5-1.7.5-2.4.5 4.9.5 3.1.5-7.2.5 2.1.5-2.8.5 1.2.5 7 .5-5.5.5 2.4.5-2 .5 4.7.5.4.5-4.1.5.2.5-3.9.5 6 .5-3 .5.3.5.9.5-1.6.5-.4.5 1.4.5 1.5.5 2.1.5.5.5-4.4.5.9.5.5.5-3.2.5 3.7.5.2.5-1.2.5-4.1.5 4.5.5 2.4.5-4.7.5-2 .5 1.7.5 1 .5-2 .5 2.1.5-1.5.5 5.9.5-4.6.5 3.2.5-1 .5-.4.5-.9.5 3.8.5-2.5.5 2.4.5-4.5.5 3.8.5.6.5-6.9.5 3.9.5 2.3.5-1.4.5-5 .5 1.1.5.4.5 4.9.5-.9.5.3.5-1.8.5-1.5.5.7.5-2.2.5 4.3.5 0 .5-5.2.5 2 .5.6.5 3 .5-1.5.5 1.4.5-5.3.5 6.5.5-3.7.5.5.5-.8.5 5.1.5-5.7.5-2.2.5 1.4.5 6 .5-5.3.5 3 .5-2.7.5 1.3.5-4 .5 6.9.5-7.1.5 3.9.5-4.2.5 2.5.5-2.7.5 7.5.5-1.2.5.2.5-2.8.5-1.2.5 4.7.5-4.7.5-.2.5-1 .5 5 .5-1.2.5-2.8.5 3.9.5-1.2.5 0 .5-6.9.5-1.6.5 1.4.5-2.2.5-1.3.5 2.2.5-7.9.5-4 .5-14.9.5-18.9.5-26 .5-41.6.5-29.1.2-6.1.3 1.6.5 16.2.5 21.3.5 15 .5.8.5 11.4.5 21.6.5 18.7.5 17.9.5 15.1.5 3.5.5 1.3.5 4.6.5 2.1.5 4.9.5-1.1.5.9.5-2.2.5 3.2.5-2.9.5 4.6.5-2.1.5-.2.5 1.5.5-5.8.5 1.5.5 7.1.5 0 .5-4.3.5-.9.5-.8.5 2.8.5-4.5.5 7.4.5.7.5-3.5.5 2 .5-6.4.5 1.6.5-.9.5 7.6.5.1.5-1.8.5.9.5-2.4.5 2.7.5-4.8.5.4.5 3.5.5-.8.5 2 .5-6.8.5 5.3.5-5.4.5 2 .5 1.2.5-2.4.5 5.1.5-5.1.5 2.1.5.3.5-3 .5.1.5 2.8.5.8.5-4.2.5 5.9.5 1 .5-2.6.5.7.5-2.2.5-.4.5-1.9.5 6 .5-2.1.5-2.8.5 5.5.5-6.6.5 5 .5-4.1.5 4 .5-5.9.5 5.3.5-3.3.5-1.1.5 6.9.5-4.4.5 2.8.5-2.5.5-2.2.5 6.4.5.5.5-4.5.5 3.3.5-4.7.5 4.4.5 0 .5 1.1.5-5.1.5-2.7.5 1.6.5 3.2.5-1.6.5-3 .5 3.4.5-1.8.5 2.6.5 2.9.5-6.2.5 2.7.5-3.8.5 3.9.5 1.2.5.5.5-.5.5-.8.5-3.5.5 4.2.5 1.6.5-6.3.5 7.8.5-3.5.5-3.5.5-.1.5 7.2.5-1.6.5-1.9.5 1.1.5-.9.5-1.2.5 3.7.5-7.1.5 8.3.5-6.6.5 4.2.5-5.2.5 5.9.5-.8.5-.9.5-4.8.5-.1.5 5.5.5-.4.5-1.3.5 2 .5-3.8.5 6 .5-.2.5-3.9.5 3.4.5-7.4.5 4.1.5-2.5.5 2.2.5-2.1.5 4.1.5-3.9.5 2.4.5-3.4.5 7.8.5-7 .5 5.1.5-4.3.5-2.4.5 5.4.5-1.4.5-1.4.5 2.3.5 1.2.5 2.2.5-7.1.5 7.1.5-4.8.5-.7.5-.7.5-1.6.5 5.2.5-4.1.5 3.1.5-.8.5-3.5.5 6.9.5-6.3.5 1 .5 2.4.5-1.7.5-1.6.5 3.4.5-1 .5-.7.5 1.1.5 2.3.5 1.3.5-.7.5 0 .5-.5.5-2.2.5-.7.5.7.5-1.7.5 3.9.5.6.5-6.7.5 5 .5 3.3.5-.3.5-7.3.5 3 .5 2 .5-1.7.5-2.9.5-.8.5 2.9.5-2.2.5 3.4.5-.3.5 3.6.5-4.8.5.8.5.2.5 4.4.5 0 .5-2.2.5-3.1.5 4.4.5-6.5.5 2.8.5 3.1.5-2.9.5 4 .5.1.5-4 .5.9.5 1 .5-6.1.5 3.4.5 4.7.5-3.7.5-1.9.5 1.3.5-4.1.5 1.8.5-1.4.5 7.9.5-5.3.5 3.7.5.7.5-1.4.5 1.9.5-6.5.5 2.5.5-.2.5.8.5-2.9.5-.8.5 2.8.5 2.6.5-6.3.5 2.6.5-.2.5.4.5 2.4.5-4.2.5 6.9.5-2.4.5-6.1.5.1.5 5.7.5 1.8.5-1.3.5-6 .5 1.6.5 6 .5-2 .5-5.3.5 2.8.5 3.1.5-.4.5-7.5.5 3.5.5-1.2.5 2.9.5-1.9.5-1 .5-5.1.5 2.9.5.9.5-6.4.5-2.9.5-1.5.5-2.9.5-1.4.5 1.2.5 1.9.5-4.7.5-4.7.5-7.8.5-14.4.5-21.8.5-27.7.5-35.5.5-34.5.5-15.5 0-.2.5 6.7.5 22.2.5 15.3.5 16.3.5 7.4.5 7.3.5 13 .5 21.3.5 22.6.5 13.3.5 14.2.5 6.3.5 1.5.5 2.9.5 4.9.5 1.2.5-1.7.5 3.1.5 5.1.5.6.5-4.3.5 2.5.5-1.8.5-1.9.5 5.5.5.6.5 1.1.5.1.5-5.7.5.5.5-2.8.5 7.4.5-7.6.5.6.5 6.7.5-2.1.5 1 .5-4.5.5-.3.5-4.8.5-3.8.5 4.3.5 2.6.5-6 .5 4.8.5-3.6.5-8.1.5-1.8.5-9.4.5-9.4.5-19.6.5-10.8.5-13.7.2-1.7.3-.3.5 6.3.5 8.3.5 8.5.5 4 .5.5.5 6.7.5 6.8.5 9.8.5 8.1.5 7 .5 10 .5-1.8.5.7.5 6.5.5-1.9.5 5.7.5.9.5-6.3.5 3.3.5.3.5 4.5.5-7.7.5 8.9.5-7.6.5 2.6.5 4 .5-3.1.5 1.7.5-3.6.5-.6.5-.1.5.8.5 6.7.5-2.4.5.9.5-4.5.5.5.5 3.8.5-6.5.5 7.8.5-1.4.5-2.3.5-4 .5 5.9.5 2.6.5-.9.5-6.3.5 2.5.5 3.5.5-3.9.5-2.9.5 3.4.5 1 .5 3.8.5-5.7.5 5.8.5-.8.5-6.3.5.3.5 3.5.5-1.2.5 3.3.5-3.8.5 1.4.5-3.4.5 3.1.5-.4.5-3.4.5 5.7.5.2.5-3.6.5 1.1.5 3.5.5-3 .5 0 .5-1.3.5 3.7.5-3.6.5.1.5 1.1.5 1.2.5 1.8.5-5.6.5 5.6.5-3.5.5 1.3.5-3.6.5.1.5 1.7.5 3.1.5-1.5.5 2.7.5-3.9.5.3.5-1.3.5 1.9.5 1.6.5-.6.5.6.5-5.6.5 3.4.5-2.7.5 5.7.5-2.7.5.2.5-.5.5.1.5-4.3.5 5.8.5-5.3.5-.7.5 1.2.5 2.2.5-2 .5 2.8.5-3.3.5 1.3.5-1.1.5 5.6.5-3.2.5 1.2.5-1.3.5 2.8.5-.3.5-.1.5.8.5-1 .5-5.7.5 6.6.5-2.4.5-2.2.5.9.5 2.2.5-3.2.5 4.5.5-5.7.5 3.4.5-.3.5-1 .5 5.3.5-2.3.5-4 .5 6.8.5-4.4.5-2.2.5 4.6.5-2.2.5 2.9.5-7.2.5 2.7.5-1 .5-1.7.5.8.5 2.4.5 4.3.5 1.2.5-5.9.5 5.3.5-7.4.5 4.9.5-3.8.5 2.4.5-3 .5 6.8.5-1.3.5-6.5.5 3.4.5 1.9.5-4.1.5 3.7.5-5.3.5 8.6.5-7.3.5 6.3.5-3.7.5 4.2.5-.1.5-7.3.5 2.2.5 1 .5-.3.5 4.3.5-2.3.5-5 .5 1.7.5 0 .5 3.4.5-5 .5 4.3.5-4.2.5 5.9.5-.2.5-3.2.5.1.5-2.8.5 7.9.5-2.9.5-5 .5 7.2.5-7.1.5 6.7.5-2.8.5 1.8.5 2.1.5-6.9.5 5.5.5-3.5.5 3.9.5-6.6.5-.7.5.6.5 2 .5-2 .5.4.5-1.7.5 7.9.5-.1.5-6.5.5.2.5-1.6.5 3.1.5-3.5.5 4.8.5.3.5-1.5.5-.9.5-3.1.5-2.3.5 6.5.5-3.9.5 1.3.5-1.7.5.6.5-4.3.5-2.4.5 2.5.5-8.4.5 5.1.5-7.1.5-.5.5 2.5.5-2.1.5.9.5 3.4.5-.8.5 3 .5-3.9.5.2.5 7.8.5 1.6.5-5.4.5 8.6.5-4.6.5-1 .5 7 .5-5.3.5 5 .5-2 .5 5.8.5-3.3.5-3.3.5 8.4.5-3.5.5-1.3.5 3.5.5 0 .5-4.9.5-.9.5 2.7.5 2.4.5-1.1.5 2.4.5.8.5-1.2.5-6 .5-3.1.5-2 .5-3.7.5 2 .5-1.2.5.1.5 1.8.5 2.6.5-1.1.5 4.8.5-2.5.5-1.6.5-2.4.5 1.8.5 2.6.5 2 .5-1.4.5 8.2.5-.6.5-5.3.5 5.1.5-3.7.5 5.8.5-4.7.5 4 .5.8.5-.6.5-2.7.5 2.4.5-4.4.5-2.1.5 2.1.5 1.8.5 2.8.5-1 .5-1.5.5-4.2.5 2.8.5 2.6.5 2.8.5-3.6.5.7.5-3.8.5-.7.5 3.9.5-1.6.5-.2.5 4.2.5-6 .5-1.2.5 1.7.5 6.4.5-.8.5-2.9.5-1.4.5.2.5 3.1.5-3 .5 3 .5 1.7.5-2.3.5-.7.5-1.2.5 1.8.5.3.5.3.5-2.9.5-3.4.5 2.9.5.3.5 1.9.5-.5.5-4.2.5 4.4.5-1 .5-1.2.5 4.4.5.6.5-5 .5 2.3.5-4.2.5 5 .5 2.7.5-1.2.5-6 .5 3.9.5-.2.5-4 .5 5.9.5-1.5.5-.7.5-1.7.5 2.8.5-4.9.5 6 .5 1.1.5-1.6.5-3.9.5 1.2.5 2.1.5 2.4.5-8.3.5 3.9.5 2.2.5.2.5-5.3.5 2.8.5-3.6.5.3.5 3.3.5 1.1.5-.3.5 1.8.5-5.1.5-1.1.5 1.1.5-.2.5.1.5 7 .5-5.4.5-2.9.5 7 .5 0 .5-.1.5-6.1.5 2.4.5 4.2.5-5 .5 5.6.5-6.6.5 6.7.5-8.3.5 2.2.5-.2.5 2.8.5 2.2.5-3 .5-3.5.5 7.8.5-6.7.5 2.8.5-.6.5 3.2.5-.8.5 0 .5-5.2.5.9.5.7.5.1.5 3.2.5-4.6.5.7.5 5.5.5-1.1.5-2.3.5-.5.5 1.7.5-2.7.5.7.5 2.5.5 1 .5-3.9.5 3.3.5-4.9.5-.4.5.5.5.7.5 3.9.5-.5.5-3.4.5 6.2.5-7.6.5 7.4.5-3.7.5 2.9.5.9.5-1.9.5-4.3.5 2.2.5-.8.5.9.5-4.2.5 1.1.5 6.7.5-8.3.5 1.5.5 1.9.5 1.9.5 2.2.5-5.8.5 4.4.5 2.2.5-7.7.5 4.9.5 2 .5-4 .5-2.3.5 3.7.5 1.6.5-.7.5-6.2.5 5.1.5-2.4.5 3.1.5-3.2.5-1.8.5 5.3.5-6 .5 6.1.5-3.1.5-4.1.5 1.6.5.6.5 2.8.5-7.2.5 3.6.5-1.2.5-4.5.5-.7.5 1.1.5-1.5.5-3.2.5-5.2.5-.1.5-15 .5-16.7.5-27.6.5-26.7.5-34.4.5-25.8.2-3.8.3 1.5.5 20.2.5 22.9.5 26.1.5 5.8.5.6.5-4.5.5.3.5 5.2.5 22.9.5 18.5.5 15.7.5 5.1.5 6.5.5 6.5.5 9 .5.7.5 2.1.5.3.5-4.7.5 3.6.5-3.7.5-1.4.5 3.5.5 1.1.5.1.5-5.9.5-4.9.5-3.8.5-1.9.5-16.7.5-16.7.5-14 .5-17.7.5-7.3 0 .2.5 5.1.5 13.1.5 12.8.5 14.3.5 3.7.5-7.4.5-3.2.5 6.4.5 7.6.5 8.1.5 10.8.5 1.2.5 7.8.5 6.5.5-3.1.5 8.6.5-3.7.5 1.5.5 4.2.5-.5.5-5.2.5 1.2.5 2.3.5-.3.5 3.9.5-6.5.5 3.5.5 2.1.5-1.8.5 4 .5-.4.5-5.3.5 5.5.5-5.4.5 1.9.5-2.4.5 4.2.5-4.1.5-1.2.5 3.7.5 4.6.5-1.4.5-4.1.5 1.8.5-2 .5-2.3.5 3.9.5 2.1.5 2 .5-4.3.5 2.6.5.7.5-3.6.5 3.8.5-5.1.5 3.7.5 1.5.5.6.5-1.4.5 1.1.5-7.7.5 6 .5.7.5-5.4.5 5.4.5-2.9.5 2.1.5-2.1.5.6.5-4 .5.3.5 4.8.5-1.3.5 4.5.5-7.4.5 5.8.5-6.5.5 1.6.5-2.2.5 3.9.5-1.8.5 2 .5.1.5-.7.5 4.5.5-6.2.5 4.7.5-4.6.5 3.5.5-.6.5 1.5.5-1.7.5 3.3.5-4.9.5.9.5-3.4.5 8.1.5-1.8.5-2.8.5-2.4.5 5.2.5-5.6.5 7.1.5-1.3.5-1.6.5-2.9.5-.4.5.7.5 6 .5-7 .5 6.4.5.4.5-5.5.5 3.8.5.8.5.7.5-1.6.5-1.8.5-4.6.5 7.9.5-.6.5-3.1.5-2.5.5 5.9.5-6.2.5 6.5.5-5 .5.3.5-2.2.5 2.4.5 2.9.5-3.8.5 4.3.5-3.4.5-1.7.5 6.6.5-7.3.5 2 .5 2.3.5 2 .5-3.6.5-.3.5 4.7.5-5.7.5-1 .5.1.5 5.3.5-7.2.5.1.5 1.3.5 2.2.5 4.6.5-3 .5-1.3.5 3.2.5 1 .5-.3.5-6 .5 5.1.5-.8.5-4.1.5 2.4.5 1.8.5-4.3.5.1.5 6.8.5-6.5.5 1.1.5.5.5-3.2.5.8.5 4.8.5-3 .5 2.6.5-3.4.5 4 .5-6.2.5 2.7.5 2.7.5 1.9.5-6.4.5 5.9.5-5 .5 2 .5-1 .5-.6.5 1.7.5-1.1.5 5.3.5 0 .5-2.1.5-1.5.5-1.2.5 2 .5 2.8.5-7.9.5 3 .5-.7.5 1.1.5-1.6.5 3.8.5-5.1.5 3.4.5-1.1.5-.2.5 1.4.5-2.4.5 3.5.5-3.5.5 6.1.5-5.2.5 3.4.5-2.5.5 3 .5-4.3.5 1.3.5 2.8.5-.6.5 2.1.5-6.2.5 1.7.5-1 .5 3.7.5-2.1.5.5.5 3.4.5-3.6.5 1.5.5 1.5.5-5.8.5 4.5.5.4.5-1.7.5-1.9.5 0 .5.2.5 1 .5-4.4.5 5.6.5 2.4.5-6.4.5.5.5-1 .5 2 .5-2.9.5 5.1.5-.3.5-3.6.5 4.1.5 1.5.5-6.5.5 6.9.5-4.2.5-3.5.5 4.5.5 3.7.5-7.4.5.2.5 3 .5 3.3.5-2.9.5-3 .5 4.5.5-2 .5 2 .5 1.8.5-4.8.5.4.5 4.2.5.9.5-.1.5-.6.5-.5.5-5.3.5-2.1.5 6.4.5-5.9.5 4.5.5 1.2.5-2.1.5-2.9.5.4.5 4.5.5 2.3.5-3.6.5 3.1.5-4 .5-1.6.5 4.2.5-6.4.5 1.4.5 4.7.5-5.5.5 4.4.5-4.1.5 1 .5-1.7.5 1.6.5.8.5.9.5 0 .5 4 .5-7 .5 0 .5 8.1.5-3 .5-1.6.5 2.5.5.4.5-5.8.5 1.8.5 3.9.5-1.5.5-3.1.5-1.4.5 7.1.5-5 .5 2.5.5-4.1.5 4.2.5-5.5.5 8.3.5-3.2.5-1.3.5-3.7.5 6.4.5-.9.5-4.6.5 5.2.5-5.5.5 5.7.5-1.8.5-4.2.5 4.8.5-4.2.5 2.5.5 1.8.5 1.9.5.7.5-6.8.5 1.8.5.4.5-3.4.5 2.4.5-2.7.5 7.1.5-3.1.5-.2.5-.6.5 3.3.5-4 .5 1.2.5.9.5.3.5-.2.5-1.8.5-.2.5 4.5.5-3.6.5 4.5.5.1.5-4 .5-.5.5 3.6.5-5.2.5.3.5-1.8.5 2.8.5 2.6.5-4.5.5-.2.5-.3.5 7.5.5-7.5.5 2.2.5 1.6.5-4.5.5 6.7.5-2.5.5-4.7.5 4.3.5-.8.5-.2.5 2.6.5 2.5.5-2.7.5 1 .5.7.5-5.8.5.4.5 3.2.5-4.9.5 2.1.5 4.5.5 1.2.5-8.1.5 5.9.5-1.2.5-4.3.5.5.5-1.1.5 5.1.5 1.3.5-.7.5.7.5.7.5-1.4.5.9.5-6.6.5 6.3.5 1.5.5-6.4.5 2.2.5-.7.5 3.7.5-5.8.5 7.4.5-3.8.5-3.9.5 2.7.5 2.2.5-1.2.5-1.2.5-1.8.5 2.1.5 2.3.5-5 .5 4.9.5-4.5.5 1.2.5.7.5.2.5-5.4.5-1.8.5-5.8.5-1.6.5-4.3.5-4.1.5-3.1 0 0 .5 2.4.5 1.5.5 5.9.5 4.4.5 2.2.5-2 .5-.2.5-3.7.5.9.5 5 .5-5.3.5 10.2.5 1 .5.3.5-1.7.5-.4.5 5.9.5-1.3.5 1.2.5 1.2.5 2 .5-2.4.5-3.5.5 3.5.5-2.9.5 2.1.5 2.2.5-3.8.5 1.8.5.4.5-6.3.5 1.8.5 1.4.5 1.2.5-.5.5-5 .5-4.2.5-5.8.5-11.7.5-11.6.5-7.4.5-6.2.2-2.1.3 1.6.5 3.9.5 8.4.5 12.5.5 2.1.5-.5.5 6 .5-5.1.5-6.7.5 2.2.5 6.5.5 5.2.5 1.3.5 3.1.5 4.5.5 9.3.5-.8.5-1.8.5 3 .5 3.7.5-4.4.5-3.5.5 5.2.5-3.8.5 7.3.5-1.5.5-.2.5-1.3.5-3.9.5.9.5 4.2.5-2.6.5 1.5.5 1.6.5-4.2.5 6.4.5-1.4.5-3.3.5-.8.5 2.9.5-3.4.5 2.3.5-2 .5-.1.5-2.1.5 3.6.5 2.1.5-3.2.5 0 .5-2.1.5 4.8.5 1.2.5-3.7.5 4.9.5-5.3.5-.7.5 5.1.5-4.8.5 6.3.5-2.2.5-3.8.5.8.5-1.9.5-1.2.5.3.5 1.9.5-.1.5 3.4.5-1.3.5.2.5 3.6.5-2.1.5-1.7.5-3.2.5 4.6.5 1 .5-2.8.5 1.7.5-4.5.5 2.9.5 3.5.5.8.5-5.6.5 1.9.5 2 .5 1.1.5-3.7.5 3.4.5-7.2.5 5.2.5-4 .5 1.3.5-1.1.5-.6.5 6.3.5-.6.5-2.5.5-3.2.5.2.5 5.9.5-3.8.5-3.4.5.1.5 7.8.5-4 .5-1.8.5-.3.5 3 .5-4.3.5 3.5.5-2.6.5 5 .5-5.2.5 1.7.5-.4.5 3.2.5-5.1.5 4.3.5-.3.5-3.6.5 4.6.5.3.5 2.3.5-6.8.5 4 .5-3.1.5 3.8.5-1.4.5 1.6.5-1.1.5-.6.5.8.5.1.5-.3.5-3.2.5 5.2.5-2.6.5 0 .5-4.3.5 3.6.5-3.7.5-.7.5 5.1.5 1.2.5 1.3.5-2.8.5 3.4.5-7.9.5 6.6.5 1.5.5-5.9.5 4.1.5-2 .5-.7.5-3.7.5 4.6.5 2.1.5-6.5.5 4 .5-1 .5 3.5.5 1 .5.3.5-7.7.5 4.4.5-3.2.5 6.5.5-3.8.5-.6.5 1.2.5 3.1.5-7.9.5 4.8.5 0 .5-4 .5 3.9.5-3.5.5 7 .5-.5.5.2.5-7.5.5 5.4.5-4.9.5 1.3.5 4.2.5-5.2.5.3.5 3.6.5 2.2.5-4.7.5 4.3.5-.1.5-.1.5-.1.5-.1.5-6.5.5 7.9.5-1.7.5-.2.5.1.5-1 .5-1.3.5-2 .5 3 .5-2.8.5 4.4.5-3.8.5-1.1.5-.1.5.2.5.2.5 3.8.5.7.5-6 .5 2.4.5-1.2.5-2.4.5 1.2.5 4.2.5-1.2.5-5.3.5-.4.5 1.5.5-2.5.5.7.5 1 .5-4.1.5-1.1.5 1.2.5 1.3.5-.9.5.8.5 0 .5 1.4.5.4.5.1.5-1.3.5-2.5.5.7.5-.3.5 4.5.5 3.2.5-4.3.5 3.7.5-3.5.5 3 .5-4.1.5 2.3.5 4.2.5-5.9.5 8.1.5-.2.5-4.4.5 4.8.5-1.8.5-3.5.5 2.8.5 3.3.5.7.5-4.2.5-2.8.5 5.1.5-2.1.5 2.2.5.3.5-3.5.5-1.8.5 7 .5-7.2.5 5.8.5-6.4.5 8.1.5-7.8.5 2.3.5 1 .5 4 .5-6.5.5 5.1.5-1.5.5-.1.5-1.1.5.4.5-3.1.5 5.3.5-3.4.5 4.6.5.7.5-.3.5-5.4.5-.8.5.2.5 3.6.5-4.7.5-.5.5.7.5 6.3.5-4 .5-3.3.5 2.8.5 4.6.5-5.2.5 5.7.5-8.2.5 7.3.5-5.3.5 6.6.5 0 .5-.8.5-.3.5-6.7.5 1.3.5 6.5.5-4.5.5 1.1.5-4.1.5 2.5.5-2.5.5 1.9.5 2.6.5-4.9.5.6.5 1.1.5-.2.5 3.4.5-1.3.5-2.7.5 2.3.5-.3.5 2 .5-3.6.5 2.5.5-1.4.5 3.9.5-6.1.5-1 .5 8.4.5-6.1.5.4.5 4.9.5-6.6.5 2.2.5.5.5 2.8.5-6.5.5 1.4.5.8.5 3.4.5-.9.5 2.8.5-1.2.5.9.5-1.7.5-1 .5-4.7.5 4.4.5-1.1.5 1.6.5-2 .5-1.4.5.9.5 6.2.5-2 .5.7.5-6.6.5 4.2.5.3.5.9.5.1.5-1.4.5-.4.5-2.5.5-1.8.5 2.4.5-2.1.5 4.8.5 2.4.5-6.8.5 1.9.5 3.4.5-3.4.5.9.5 2.1.5-1.8.5-2.2.5 4.4.5-6.3.5 3.6.5 1.2.5 2.3.5-3.4.5 2.7.5-2.5.5-1 .5-1.2.5.7.5-3.4.5 5 .5-4 .5.4.5-1 .5-2.6.5 4.9.5-.6.5-4.1.5-2.8.5 2.4.5-6.1.5 1.1.5-.1.5-3.2.5-.8.5-1.2.5-3.6.5-2.5.5-7.3.5-.7.5-.8.3-.6.2 0 .5-.5.5.5.5.5.5 1.9.5 2.1.5 1.4.5 2.5.5-1.2.5 1.4.5 1.3.5.5.5 1.5.5 1.7.5 1.7.5 6.5.5.8.5-3.2.5 5.6.5-3.2.5 4.9.5 2.3.5-1.1.5-.3.5 5.6.5-2 .5-1.8.5-2.5.5 4.7.5.2.5-1.1.5-3 .5 6.7.5-.1.5-2.4.5 1.2.5 2.9.5-5.3.5 4.8.5-1.7.5 0 .5-1.5.5-2.7.5 3.6.5-2 .5.2.5 1 .5-.3.5-2.3.5 6.4.5-2.7.5-1.2.5-1.7.5 4.5.5-1.3.5-4.8.5 5.6.5-4.9.5.9.5 5.7.5-2.5.5 1.8.5-4.9.5.3.5-1.4.5 1.8.5 2.8.5-3 .5 2.6.5-4.2.5 4.7.5-1.4.5-5.8.5-2 .5 1.7.5.5.5-2.1.5-1.9.5-5.2.5 2.7.5-5.4.5 4.4.5.9.5 1.2.5-2.8.5 2.1.5-3.2.5 2.3.5 6.1.5-6.2.5-1 .5 2 .5-1.2.5 1.6.5 3.2.5 3.2.5 1.5.5.1.5-1.4.5 2.1.5 2 .5-4 .5 4 .5-1.5.5-2 .5 7 .5-2.5.5 1.7.5-.8.5-5.2.5 3.2.5 1.1.5-2.8.5.6.5.4.5-2.8.5 4.4.5-1.3.5 4.1.5.8.5-7.2.5 2.7.5 4.6.5-1 .5-5.6.5 5.3.5 0 .5-3.8.5 1.8.5-4.5.5 2.8.5-.9.5 4.1.5-2.3.5 1.8.5.9.5-2.1.5-4.3.5 6.6.5-6 .5 2.7.5 4.4.5-4.2.5 2.8.5-3.4.5-.4.5 3.9.5-3.2.5 2.5.5-5.2.5 3.5.5 3.1.5-6.2.5 7.1.5-8.5.5 3.2.5 2.4.5-5.2.5 3.7.5-1.4.5 0 .5-2.8.5 4.7.5 3.9.5-1.6.5-4 .5 2.4.5-2.3.5 2.6.5-4.3.5 1.4.5-1.9.5.8.5-.8.5 4.4.5-4.1.5 5.3.5 1.2.5-6.2.5 2.3.5-.1.5.4.5.2.5 3.3.5-2.1.5-.5.5 1 .5 1.4.5-4.9.5-1.4.5 2.7.5-1.9.5-1.7.5 2 .5-1.8.5 1.5.5 6.1.5-.4.5-5.3.5 1.2.5-1 .5 3.6.5 1 .5-8.3.5 2.7.5.8.5 2.8.5-3.1.5 1.1.5-4.2.5 1.4.5 0 .5.9.5.7.5-3.6.5-2.1.5 1.5.5 1.4.5-.7.5-6.6.5-.1.5 7 .5-1.4.5-3.1.5-1.6.5 5.5.5-.9.5 4 .5-5.6.5 5.4.5-3.2.5 1.8.5 3.8.5-4.3.5.4.5 1 .5-2.8.5 3 .5 4.3.5.2.5-4 .5 3.3" stroke="#00B050"/>
<path d="M258.5,467.8l.5 7.5.5-6.3.5-2.2.5 9 .5-6.4.5 6.1.5 2.4.5-2.6.5-5.7.5 8.6.5-7.3.5 4.4.5 2.6.5-3.7.5.6.5-1 .5-6 .5-.6.5 9.9.5-10.8.5 5.3.5-4.9.5 2 .5 4.2.5 3.9.5-9.7.5-.9.5 5.3.5 7.2.5-10 .5.8.5-1.6.5-1.4.5 0 .5 3.4.5 4.9.5-2 .5.4.5-3.6.5 1.9.5-2.9.5 4.4.5-1 .5-5.3.5 2.4.5-2 .5 3.3.5 8.2.5-4.2.5 1.8.5.4.5 1.9.5.3.5-5.3.5-4.3.5-1.2.5-1.4.5 5.5.5 8 .5-2.5.5 1.9.5-11.5.5 7.7.5-5.7.5 3.9.5-1.9.5-3.9.5 2.8.5 8.2.5-7.9.5 3.9.5-8.8.5 10 .5.4.5-9.7.5 7.2.5 4.6.5-10.1.5-1.8.5 6 .5 4.6.5-10 .5 7.4.5 1.3.5 2.8.5-12 .5 9.1.5 1.5.5-3.5.5-4.9.5-4.4.5 11 .5-6 .5 4.7.5-8.7.5 5 .5-3.1.5-2.7.5 3.7.5.2.5 5.7.5-3.4.5-9.1.5-3.3.5-1.2.5.7.5-22.6.5-23.3.5-33.1.5-39.9.5-36.7.2-10.4.3-4.4.5 10.8.5 21.5.5 36.1.5 29.2.5 37 .5 19.5.5 14.7.5 4.2.5-3.3.5 1.5.5 0 .5 13.3.5-8.8.5 1.7.5 2.4.5-10 .5.1.5-1.3.5-17 .5-7.5.5-12 .3-3.5.2-1.2.5 4.8.5 2.9.5 15 .5 9.2.5 13 .5.8.5 11.1.5 2.9.5-1.2.5-8.7.5 3.3.5-.1.5 9.3.5-4.9.5-3.8.5.1.5 4.3.5 5.4.5-4.2.5-7.9.5.9.5 4 .5 3.7.5-3.4.5.4.5 1.7.5-5.5.5 4.1.5 6.7.5-9 .5.5.5 8.5.5-6 .5-6.4.5 4.7.5-.3.5 2.8.5.8.5-8 .5 10.1.5-2.6.5 5.2.5-5.9.5-2.1.5-.4.5-4 .5 10.1.5.8.5-2.1.5.4.5-8.2.5 10 .5-3.7.5-7.5.5 8.4.5-.7.5.6.5 1.3.5.1.5-7.3.5 11.6.5-.7.5-10.5.5 1.2.5 4.3.5-.8.5.1.5 3.1.5-2.5.5 1.1.5-3.4.5 3.7.5-3.6.5 7.8.5-13.5.5 13.9.5-6.5.5 1.3.5 3.6.5-12 .5 7.4.5 3.8.5-2 .5 1.9.5-5 .5-6.4.5.5.5 10.4.5-6.8.5 2.1.5-2.9.5 8.7.5 1.5.5-1 .5-11.2.5 12.1.5.2.5-5.9.5 5.7.5-1.6.5-11.1.5 11 .5-8.3.5-1.1.5 5.5.5.2.5 3.3.5-1.7.5-2.9.5-.5.5.5.5 2.5.5-7.5.5 6.1.5 1.1.5-1.3.5-5.2.5 3.4.5-2 .5-1.2.5 6.7.5-5.2.5 8.9.5-5.5.5.3.5 1.1.5 3.1.5-9 .5 6.5.5-.7.5 3.9.5-10.6.5 0 .5 9.7.5-2.9.5 1.5.5 1.4.5-9.1.5 3 .5-4.1.5 3.1.5 5.1.5-6.4.5 9.6.5-6.9.5 1.1.5 6.2.5-3 .5-3.3.5 5.7.5.6.5-7.6.5-5.1.5 5.5.5-5.8.5 7.3.5 5.4.5-.9.5-4.1.5-5.9.5.8.5-2.3.5 5.5.5-2.3.5 2.9.5 5.5.5-5.4.5 3.8.5-7.6.5-.1.5 8.5.5 1.2.5-2.2.5 3.8.5-2.4.5-10.8.5.5.5 6.9.5-6.4.5 9.9.5-11.5.5 6.1.5-.6.5 4.7.5 3.9.5-7.6.5-1.2.5-1.1.5-1 .5-2.1.5 12.8.5-9.3.5 8.4.5-10.8.5 4.5.5 7.4.5-5.5.5-6.3.5-.6.5-.5.5 5.8.5-2.5.5.1.5 2.7.5-3.9.5 8.6.5-1 .5-5.5.5-1.8.5-3.3.5 13 .5-13.2.5 9.8.5-.9.5-4.7.5-4.1.5 11.1.5-2.6.5-7.2.5.7.5 6.2.5 2.1.5-7.6.5 8.5.5-2.4.5 5.1.5-2.9.5-3.3.5-.8.5-3.7.5 2.1.5 5.5.5-2.4.5 2.2.5 1.6.5-.4.5-11.3.5 2.2.5-.7.5 1.8.5 6.5.5-6.9.5 2.9.5-3.6.5 3 .5-1 .5 7.2.5-10.6.5 1.9.5 1 .5 1.7.5-10.8.5-.4.5 5.6.5-4.6.5.9.5-.7.5.3.5 10.6.5-2 .5 7.7.5-8.1.5-2.1.5 5.7.5 5.7.5-9.7.5 4.5.5 2.9.5-8 .5 4.9.5-1.4.5-1.3.5 2.1.5-3.2.5 5.5.5.8.5-3.3.5-4.9.5 6.8.5 1.9.5-1 .5-1.3.5 3 .5-4.7.5-1.5.5-6 .5 12.9.5-2.5.5 1.5.5-3.1.5-6.9.5 9.9.5-5 .5 1.2.5-5.9.5 4 .5-6.3.5 2 .5-.8.5 1.9.5 9.5.5 0 .5-12.3.5 11.2.5 1.7.5-7.8.5.3.5 5.9.5-3.7.5.3.5-.7.5 1.4.5 3.2.5-7.4.5 4.5.5-7.5.5-1.7.5 13.4.5-10.4.5.4.5 6.3.5-4.1.5 4.1.5-8.1.5 7.4.5-4.4.5 5.5.5-8.6.5 9.1.5-10.4.5 11.1.5-3.5.5-4.1.5 4.3.5-5.5.5 8.6.5-11.6.5 6.7.5-5.3.5 10.2.5-3.4.5-1.4.5-6.3.5-.7.5 8.5.5 0 .5.6.5 3.8.5-.9.5-8.8.5 9.2.5-10.2.5 5.7.5 3.3.5-1.7.5 2.5.5-7.2.5 5.3.5-5 .5 2.2.5-2.5.5 7.6.5-9.2.5 7.6.5-3.3.5-7.4.5-.6.5 6.2.5 1.1.5-.9.5-1.8.5-4.5.5 9.6.5 3.9.5-7.9.5 3.1.5-2.4.5.1.5 5.1.5-3.2.5-7.8.5 4.5.5-1.9.5 1.1.5 4.3.5 2.1.5-6.5.5 5.2.5-6.2.5-5.1.5 11.8.5-12 .5 2.9.5-6.1.5 7.9.5-.9.5 1.7.5-8.9.5 9 .5-2 .5-2.3.5-10.3.5-.1.5 4 .5-.2.5 4.7.5-5.1.5-3.4.5 8.6.5 3.6.5-.4.5-2.3.5 1.8.5.8.5-2.6.5-5 .5 4.5.5 4.7.5-1.8.5 4.8.5-10.4.5 12.4.5-7.6.5-3 .5 1.2.5 9.1.5-10.9.5 4.4.5-5.4.5 9.6.5-6.2.5-7 .5 10.7.5-11.8.5 3.6.5-1.6.5-.8.5-12.2.5-6.9.5-20.2.5-30.7.5-49.4.5-77.4.5-97.8.5-145.1.5-88.6 4.5 0 .5 329 .5-329 4.5 0 .5 24.6.5 161.8.5 106 .5 91 .5 51 .5 40.1.5 14.9.5 21.3.5 13.6.5 5.5.5 2.6.5-2.5.5 5.7.5-8.5.5 3.6.5 8.9.5 2.9.5-.3.5-5 .5 3 .5-1.7.5.3.5-7.1.5 10.5.5-11 .5 2.5.5-1.2.5 6.8.5.2.5-.4.5-4.7.5 5.3.5 6.1.5-2.4.5-10.3.5 13.9.5-8.5.5-3.4.5 6.7.5-1.1.5-.3.5 6.3.5-5.2.5-6.5.5 6.9.5 2.9.5-9.2.5.8.5 3 .5-.6.5 5.5.5-4.6.5-2 .5 9.3.5-4.1.5 1.2.5.9.5-5 .5 7.4.5-.9.5-5 .5 1.5.5-2.3.5 4.9.5-1.9.5-7.4.5 6 .5 5.2.5-12.7.5 3.7.5.6.5-.8.5.1.5 1 .5 8 .5 1 .5-.2.5-11.8.5 11.3.5-2.4.5-9.1.5 9.2.5-5.7.5 7.5.5 1 .5-6.3.5-3 .5 8.8.5-10.8.5 3.6.5.1.5 3.6.5 3.4.5-5.8.5-3.9.5 5.5.5.4.5-3.7.5 7.8.5.1.5-5.6.5-2 .5.7.5 6.5.5-5.4.5-6.1.5 11.1.5-11.5.5 5.2.5-5.5.5 11.2.5-3.5.5 2.6.5-4 .5-4.2.5 7.2.5-3.9.5-4.7.5 3.9.5 2.5.5 3.8.5-10.3.5-.5.5 10.2.5-.7.5-8.9.5 8.2.5.4.5-4 .5-3.5.5 10.5.5-6.7.5 6.8.5-9.4.5 8.5.5-6.3.5 2.7.5-1.5.5-4.9.5 12.3.5-11.5.5 7.4.5-4.8.5 5.1.5-.1.5.8.5-4 .5 5.9.5-8.6.5-.4.5 0 .5 8.2.5-7.5.5-.5.5-.7.5 8.7.5-5.8.5 3.3.5-8.6.5.5.5 9.5.5-.3.5-.6.5-7.2.5 1.8.5-4.3.5 11.5.5.3.5-.8.5-4.5.5.3.5-.3.5-4.9.5 5 .5 2.9.5.6.5 1 .5-1 .5 2.3.5-1.8.5-3.1.5 5 .5-4.5.5-5.6.5 2.7.5 8.6.5-1.4.5-12.4.5 12.2.5-10.9.5 7 .5.2.5 5.2.5-8 .5 4.2.5 3.3.5-.4.5-2.3.5-.6.5-8.1.5-.8.5 12.5.5-6 .5-4.4.5 10.5.5-11.7.5-1.8.5 8.4.5-4.2.5-.5.5-8.1.5 3 .5-1.6.5 3.6.5.5.5-9.3.5 7.8.5-2.8.5 2.9.5 7 .5 2.5.5-1.5.5 3.7.5-10.3.5-.6.5 2.5.5 3.2.5 2.1.5.6.5-4.3.5 4 .5-1.6.5 5.1.5-7.1.5 8.6.5-1.3.5-.6.5-6 .5.6.5-1.3.5 5.5.5-9.7.5 7.6.5 4.2.5-8 .5-4.2.5 9 .5-5.7.5 3.8.5-2.8.5-1.6.5 4.5.5 1.3.5 4.9.5-.8.5-9.9.5-.5.5 4.5.5.4.5-2.1.5 5.8.5-1.7.5 1.5.5-.5.5-8.9.5 7.2.5-6.7.5 5.1.5.1.5 4 .5-9.3.5 10.6.5-11.2.5 9.3.5-8.6.5-1.1.5 10.1.5.4.5.2.5 2.4.5-12.2.5 10 .5 2.3.5-7.1.5-4.5.5 7.4.5 2.6.5-7 .5-1.4.5 8.8.5-7.3.5 1.5.5-2 .5-.7.5 5.7.5-7.6.5 1.8.5-2 .5 2.3.5 5.2.5-9 .5 10.7.5-7.5.5-1 .5 2.8.5-2 .5 7.6.5 2.3.5-6.6.5 2.1.5.8.5-3.8.5-2.1.5.7.5-.8.5-2.4.5 1.6.5-2.9.5 11.4.5-3.5.5 5.1.5-12.7.5 1.8.5 8 .5-2.6.5-6.6.5.9.5.7.5 4.5.5-3.8.5 7.4.5-8.1.5 8.4.5-2.1.5-5 .5 5 .5-9.1.5 7.4.5 3.1.5-4 .5-4.1.5 1.5.5-.2.5.7.5-7 .5.5.5 9.7.5-10.7.5 12.2.5-1.9.5-.3.5-5.6.5-1.2.5 2.5.5-11.8.5 2.2.5-10.3.5-11.2.5-26.1.5-27.8.5-46.9.5-39.6.5-39 .2-10.6.3-.3.5 15.9.5 30.5.5 11.2.5 18.6.5 21.8.5 20.5.5 35.9.5 15.2.5 22.4.5 11.9.5-.9.5 7.5.5 8.8.5-2.5.5 4.6.5-.8.5 6.9.5-3.5.5-2.1.5 2.3.5-7.6.5 12.8.5-8.5.5 1.8.5 5.4.5-.1.5-8.5.5.8.5 8.6.5-4 .5 5.8.5-3.7.5-4.1.5 1.8.5-3.5.5 6 .5-6.4.5 7 .5 2.4.5-9.1.5 9.9.5-.2.5-8.3.5-2.8.5 8.5.5 3.5.5-.7.5 2 .5-10.6.5-.1.5-.5.5 7.3.5-3.8.5 3.7.5 3.1.5 1.2.5-12 .5-1.4.5 12.6.5-6.7.5-.1.5 4.1.5 2.2.5-12.4.5 8.9.5-7.1.5 1.8.5-1 .5 10.4.5.6.5-1.6.5-8.6.5 2.9.5 1.6.5-1.3.5-2.1.5 8.1.5-2 .5-4.2.5-3.7.5 11.1.5-8.1.5 3 .5-.6.5-2.1.5 1.7.5 3.8.5-6.7.5 8.6.5-1.5.5-4.7.5 6.2.5-12.6.5 7.9.5 1.8.5-8.7.5 2.3.5 7.8.5-11.2.5 4.8.5-.3.5 6.8.5-9 .5 4.7.5-5.1.5 5.2.5 4.7.5-5.7.5 2.2.5-.6.5-5 .5.1.5-.3.5 3.2.5 5.6.5-4.6.5-4.9.5 5.5.5-2.3.5 8 .5-10.2.5 10.8.5 0 .5-5.5.5-7.6.5 9.9.5-5.5.5 6.1.5-1.9.5 2.9.5-.3.5-4 .5-.7.5-5.4.5 8.7.5 3.1.5-8.5.5-4.5.5 10.1.5.4.5-5.7.5 4.9.5-2.9.5 2.8.5-9.7.5 3.2.5 3.1.5 3.7.5-.7.5.3.5-1.1.5-2.3.5-.6.5 2.5.5 4.5.5-8.2.5 6.6.5-9.2.5 5.9.5-3.3.5 2.4.5 5.6.5-2 .5-10.6.5 6.9.5 6.7.5-12.8.5 1.6.5.7.5 8.4.5-6.6.5-1 .5 9.2.5-4.2.5-4.7.5 2.7.5 0 .5 6.7.5-8.3.5.7.5 4.3.5 1.7.5-9.6.5 5.6.5-7.2.5 11.7.5-3.4.5-6.7.5-.5.5 7.9.5-5.5.5 7.8.5-5 .5-4.8.5 3.7.5-3.5.5 1.1.5 6.1.5-9.7.5 12.8.5-12.8.5 13.2.5-4.5.5-1.8.5-1.8.5 4.5.5 3.7.5-3.9.5 2.5.5-2.1.5-7.1.5 3.1.5 1.1.5 1.9.5-2.6.5 3.1.5 3.2.5-4 .5-6.2.5 11.5.5-8 .5 2.1.5 1 .5-4.3.5 4.9.5 3.3.5-3.9.5-6.2.5 7.6.5-1.5.5-6.1.5-2.7.5 5 .5 2.4.5 5.7.5-2.5.5-8.9.5 10.2.5-11 .5 4.6.5 5.5.5-1.8.5-3.1.5 3.4.5-3.3.5-1.8.5 8.9.5-13.8.5 3.8.5 8.2.5-11.1.5-.1.5 3.9.5 1 .5 5.4.5-.8.5-6 .5 4.6.5-6.5.5 1.2.5 8.8.5-2 .5-.8.5-2.1.5 2.5.5-9.1.5-1.7.5 5.4.5 4.9.5 1.6.5-3.3.5-3.4.5-3.9.5 2.8.5 4.4.5-9 .5 1.3.5 6 .5-6.6.5-3.6.5 5.4.5-4.3.5-4.4.5-4.3.5-1.9.5-.5.5-9.8.5-8.2.5-3 .5 6.1.5-2.9.5-19.3.5-2.1.5-24.8.5-35 .5-44.9.5-38.3.5-28.1.1-3.3.4 3.5.5 24.5.5 21.9.5 21.5.5-.6.5 17.1.5 7.4.5 27.6.5 21.1.5 21.4.5 24.2.5 7.1.5 8.4.5 3 .5-.7.5-.9.5 4 .5-3.3.5 3.1.5.8.5.4.5 2.1.5-6.2.5 2.5.5 7.5.5-3.8.5 2.8.5-7.7.5 8.8.5-4.5.5-5.3.5-1.1.5 6.9.5-1.1.5 3.1.5-4.3.5 2.5.5-.5.5-7.3.5 5.8.5-.7.5 3.5.5-5.9.5-8.9.5 4.1.5-10.4.5-.6.5-5.8.5 4.1.5-9.3.5-8.7.5-14.9.5-7.9.3-1.6.2.5.5 7 .5 9.6.5 7.3.5 2.7.5 8.5.5-1 .5 18.5.5-1.1.5 8.3.5 14 .5 5 .5-7 .5 11.7.5-1.5.5-6.1.5 11.5.5-1 .5 1.5.5-8.7.5-1.7.5 9.1.5-4.4.5-4.6.5 11.2.5-11.1.5 4.4.5.9.5 4.8.5-2.8.5-4.6.5 1.5.5 8.3.5-.4.5-11.2.5 7.7.5-5.9.5 9.6.5-3 .5-6.3.5 5.1.5 3.6.5.7.5-4.2.5-8.5.5 9.1.5 2.9.5-10.4.5 10.9.5-11.2.5 1.9.5 8 .5-5.4.5-2.7.5 1.1.5-2.4.5 2.5.5-2.8.5 3.8.5 3.3.5 3.3.5-5.4.5 6.1.5-10 .5.4.5 8.2.5-3.2.5-5.8.5 7.9.5-7.2.5-1.2.5 8.2.5-10.3.5 2 .5 11 .5-10.9.5 1.8.5 7.6.5-7 .5 8.8.5-6.7.5 1.1.5 3.8.5-6.7.5-.5.5-1.5.5 6.2.5-3.6.5 3.7.5.3.5-3.5.5.7.5 5.7.5-9 .5.2.5 6.3.5-9.4.5 7.5.5-3.8.5 3.3.5-5.7.5 3.8.5 5.8.5-11.3.5 12.5.5-6.4.5.8.5-5.7.5.1.5 10.7.5-.4.5-9 .5 10.9.5-.8.5-8.5.5-2 .5 8.6.5-8 .5 3.4.5 5.3.5-4.9.5-1.9.5 8 .5-12.8.5 9.4.5 3.1.5.8.5-12.5.5 6.3.5-2.7.5-1.4.5-.2.5.7.5 9.3.5-10.8.5 1.4.5 7 .5-6.6.5 6.3.5-.8.5-2 .5-3.5.5 7.9.5.6.5-5.9.5 2.1.5-2.5.5-.5.5 1.4.5-.7.5-4.1.5 6.8.5-4.9.5-3.5.5 6.2.5 3.3.5-4 .5-1.6.5.3.5 7.3.5.8.5-6.9.5 1.4.5 4.4.5-2.7.5-8.1.5 12.5.5-12.9.5 5.7.5-6.1.5 12.5.5.6.5-4.5.5 2.4.5-10.4.5 5.5.5-1.2.5 2.8.5 5.4.5-2.9.5-7.1.5 6.6.5 3.8.5-4.7.5.6.5-4.9.5-.9.5 9.5.5-4.3.5-2.7.5-6.6.5 4.2.5 4.5.5 1.7.5-1.7.5 4.7.5-13.2.5 13.1.5-10.7.5 10.5.5-10.7.5 2.3.5-3 .5 7 .5-1 .5.6.5-.5.5-6.8.5 4.3.5 4.6.5-6.5.5 1.5.5 8.3.5-5.9.5-8.2.5 5.6.5 5.6.5-2.7.5.9.5-8.3.5-1.9.5 9.8.5-14.2.5 1.8.5.5.5 2.1.5-.5.5-14.2.5-1.4.5 8.2.5-1 .5-1.8.5-11 .5 4.2.5 3.3.5-1.1.5 3.6.5-.7.5 2.7.5 0 .5 10.1.5-8 .5 2.2.5 6.5.5-.4.5 4.3.5-8.3.5 3.8.5 3.7.5 8.5.5-9 .5 6.4.5-7.9.5 11.1.5-8.3.5 4.7.5-3.2.5 6.9.5-3.9.5-8.1.5 2 .5-1.5.5 5.7.5-5.7.5 1.1.5-.1.5 8.5.5-.4.5-2.3.5 1.4.5 3.1.5-12.8.5 8 .5-8.9.5-2.6.5 9.4.5-10.6.5-4.8.5 4.2.5-6.2.5 6 .5 2.8.5 6.9.5-13 .5 10.6.5-4.7.5 6.9.5 4.4.5-8.2.5 0 .5 1.1.5-.5.5 1.4.5 4.1.5 5.4.5-10.6.5 4.7.5 3.8.5 4.3.5-7.5.5 3.9.5-6.8.5 2.2.5-1.6.5.5.5 7.7.5.2.5-10.2.5 9.9.5-3.8.5 4.8.5-4.4.5 1.8.5-1.2.5-1.5.5 3.1.5 1.2.5 1.8.5-4.7.5-4.4.5 5 .5-1.3.5-4.5.5 4.4.5-6.4.5 4.8.5.5.5 4.6.5-2.7.5-1.1.5 2 .5 2 .5.6.5-5.5.5-3.8.5 5.4.5-2 .5 4.5.5-10.1.5 7.4.5-6.3.5 5.6.5-2.1.5 6.5.5 2.9.5-11.5.5 5.2.5-3 .5 4 .5 1.4.5-6.8.5 7.7.5-9.1.5 1 .5.2.5.4.5 2.6.5 7.6.5-.3.5-7.7.5-1.9.5-1.7.5 9.9.5-10 .5-.9.5.9.5 7.9.5 1.2.5-1.1.5-9.1.5 8.8.5-.6.5-8.9.5 8 .5.7.5-7 .5-1.3.5 8.4.5 4.3.5-6.7.5-1 .5-2.4.5 5.5.5 1.7.5.5.5 2.8.5-10.8.5.1.5 9.8.5-4.3.5-4.2.5 8.1.5-8.9.5 5.6.5-7.2.5 11.7.5-11.8.5 4.6.5 3.7.5-1 .5-4.4.5-2.4.5 7.6.5-10 .5 12.6.5-2.7.5-3.1.5-6.5.5.1.5.7.5.1.5 4.9.5-2.3.5 8.4.5-11.8.5 13.5.5-12.6.5-.5.5 4.9.5 6.9.5-1.4.5-8.8.5-1.1.5 12.2.5-8.4.5-.6.5-3.3.5 10.6.5.5.5-12.1.5 6.1.5-3.1.5 8.5.5-11 .5 3.8.5-1.6.5 8.7.5-.8.5-2.8.5-7 .5 8.4.5 1.2.5-7.8.5 7.2.5-8.4.5 8.5.5-8.2.5 1.4.5 4 .5 5.8.5-5.2.5 2.4.5-7.5.5 4.2.5-.6.5 4.9.5-1 .5 1 .5-1.8.5-9.9.5 7.2.5-4.8.5 2.9.5-3.2.5-2.8.5 13.1.5-10.1.5 1.6.5 6.4.5-8.4.5 7.3.5-8.9.5 3.8.5 6.7.5-7.2.5-2.5.5 1.4.5 5.1.5-6.1.5-3.7.5 9.3.5-5 .5 4.9.5-1 .5-7.9.5 1.4.5 10.5.5-2.1.5-.5.5-5.2.5-6.8.5-1.6.5 3.5.5 1 .5-5.6.5 3.7.5-10.2.5 4.2.5-7.3.5-5.6.5-15.7.5-11.4.5-32.6.5-24.9.5-42 .5-40.2.5-28.8.3-4.3.2.6.5 17.9.5 27.5.5 29 .5 13.5.5 3.1.5-4.2.5 11.5.5 6.9.5 20.8.5 17.8.5 17.9.5 29.2.5 4.7.5 2.1.5 11.5.5 4.2.5 4.5.5-8.7.5 13.6.5-3.6.5-5.8.5 6.3.5-12.3.5 4.2.5-15.7.5 3.9.5-25.5.5-13.5.5-17.1.5-15.4.5-6.7 0 .8.5 2.6.5 14.7.5 10.3.5 13.7.5 3.8.5-6.3.5 3.9.5-2.5.5 7.6.5 15.8.5 2.6.5 21.2.5-5.4.5 4.7.5 16.1.5-8.1.5-.4.5 13.1.5-6.4.5-5.1.5 1.7.5 1.7.5.3.5 1.8.5-1.7.5.7.5 10.3.5.2.5 0 .5-2.6.5-.1.5-4.6.5-.2.5 8 .5.8.5-8 .5-5.8.5 1.7.5 2.6.5 1.8.5-5.7.5 1.2.5 5.8.5-2.3.5-3.6.5 6.1.5 1.4.5-2.7.5-2.4.5 8.9.5-12 .5 10.2.5-6.4.5 5.4.5-3.5.5 6 .5 1.8.5-8.8.5 1 .5-3.5.5.4.5 7 .5 3.5.5-12.7.5 4.2.5-3.5.5 5.4.5 4.9.5-3.3.5-2.5.5 8.1.5-6.9.5-2.5.5 7 .5-9.8.5 4.1.5 2.8.5-.9.5-5.5.5 5.8.5-4.9.5 5.7.5-3.4.5 3.8.5 4.8.5.2.5-2.6.5-2.7.5 4 .5 1.1.5-11.7.5 8.9.5 1.6.5-10.3.5 5.2.5 5.5.5-5.5.5 1.3.5-.5.5.1.5 5.6.5-4.3.5.6.5-5.8.5 5.4.5-8 .5-1.2.5 4 .5 8.9.5-.2.5-5.7.5.2.5 2.1.5-3.4.5 6.8.5-6.2.5.8.5 1.5.5 1.3.5-5.5.5.2.5.1.5 7.7.5-1.9.5-1.8.5 2.8.5-3.5.5-8.7.5 6.9.5-.4.5 2.3.5-2 .5 3.6.5-.2.5-7.3.5 6.2.5 4.9.5-3.3.5-3 .5-4.5.5 5.7.5-8.2.5 2.3.5 3.8.5 5.6.5-5.3.5-5.2.5 8.3.5 2.6.5-6.2.5 2.7.5-8.8.5.2.5 10 .5-7.9.5 4.2.5 2.2.5-1.9.5.6.5 5.7.5-11.2.5 10.7.5-3.1.5-5.4.5 6.6.5-5.6.5 5.2.5-10.4.5-.6.5 11.9.5-9.9.5.8.5 8.8.5-4.6.5-1.7.5 5.7.5 2.8.5-1.3.5-6.7.5 6.6.5 1.6.5-11 .5 3.5.5 1.7.5-4.3.5-.9.5-1 .5.8.5 2.4.5 4.5.5-8.6.5 4.9.5 5.7.5.4.5-3.3.5 2.6.5-3.7.5 2.7.5-6 .5.8.5-.6.5 2.3.5-2.7.5-2.7.5 12.3.5-7 .5 6.9.5-12.4.5 9.6.5-4.6.5-5.8.5 1.9.5 5.8.5 1.4.5-2.8.5 4.4.5-1.4.5 3.1.5.2.5-3.9.5-5.8.5 10.1.5-4.7.5 3.4.5-11.9.5 7.9.5 2.1.5.3.5-4.9.5 6 .5-11.8.5 11.6.5-2.9.5-9 .5 4 .5 9.4.5-1.7.5-10.7.5-1 .5 1.1.5 8.3.5-1.3.5 3.5.5-8.7.5-2.7.5 9.6.5-5.3.5 2 .5-5.1.5 4.7.5 4.1.5-.3.5-9 .5 13 .5-4.5.5-5.2.5 6.4.5-4.9.5 5.7.5.5.5-.6.5-9.7.5 2.8.5.6.5 8.5.5-4.4.5-5.9.5-.6.5 8.8.5-2.1.5-.4.5-3.8.5 5.6.5.8.5-5.8.5-1.9.5-3.5.5 4.9.5 6.8.5-10.4.5 10.7.5 1.2.5-10.6.5-2 .5 9.3.5-8.1.5-1.2.5 4.6.5-5.1.5 3.1.5 8.3.5-2.4.5-4.9.5 3.8.5-3.5.5 5.7.5-3.1.5-.7.5-3.2.5-1.8.5 5.4.5-1.5.5 2.5.5 2.3.5-8.3.5 1.7.5-3.6.5 4 .5 5.1.5-1.8.5 4 .5-11.5.5 12.9.5-12 .5 3.8.5 8.6.5-12.9.5 9.6.5-10.5.5 10.9.5-.1.5-6.6.5-2.9.5 2.4.5 2.4.5 1.8.5 5.8.5-11.5.5 10.3.5-2.6.5-7.9.5 11.2.5-3.6.5-.6.5-4.4.5 6.4.5 2.2.5-8.2.5 4.7.5 1.4.5-1 .5-4.1.5-1.1.5 1 .5-5.9.5 13.2.5-.2.5-10.1.5 7.8.5-6.8.5-1.1.5 3.2.5 6.4.5-1.6.5-5.2.5 5.7.5-5.9.5 1.4.5 4.5.5 1 .5-12.6.5 8.4.5 5.5.5-3.8.5-9.7.5 12.3.5-2.4.5-1.2.5 3.8.5.8.5-5.5.5-2.9.5-.9.5-2 .5-2.6.5 13.1.5-2 .5-5.5.5-3.8.5 5.6.5-3.3.5 3.5.5-5.7.5 7.3.5.6.5-9.1.5 1.4.5 8.6.5-6.9.5 9.6.5-6.6.5-6.9.5 7.8.5-6 .5 4.1.5 2.6.5 4.1.5-8.9.5-1.8.5 10.4.5-4.6.5 1.9.5-5.9.5 1 .5 3.5.5.9.5.4.5-1.9.5 5.7.5-1.3.5-12.5.5 7.1.5-1.2.5-2.2.5 1 .5 1.4.5 4.2.5-10.8.5 12.6.5-1.3.5-1.7.5-2.5.5-5.8.5 1.9.5-2.5.5-1.7.5 2.3.5 4.8.5-4.3.5-.3.5 3.8.5-.4.5 2.5.5-5.2.5-7.8.5-3 .5-2.5.5-4.4.5-9.9.5-.1.5-2.9.5-2.3 0-.4.5-.5.5 2.6.5 4.6.5-1.5.5 5.4.5-2.5.5-.2.5.7.5 2.4.5 7.8.5 1 .5 6.9.5 3.6.5-.9.5 0 .5 8.2.5-4.2.5.8.5-.8.5 4.6.5-10.3.5 13.3.5-7.8.5 2.9.5 2 .5-10.3.5 8 .5-7.5.5 8 .5-3.3.5-4.7.5-14.6.5 4.5.5-15.5.5-1 .5-15 .5-4.7.5-4.8.5-4.7 0-.1.5 0 .5 5.1.5 4.7.5 5.5.5 2.1.5 5.9.5-2.1.5 4.4.5 6.2.5-7.8.5 4.6.5 6.2.5 1.9.5 13.7.5-4.1.5 1.4.5 6.8.5 11 .5-9.2.5 10.2.5-1.6.5 4.1.5-9.4.5 9.7.5-5.2.5.5.5-5.7.5 3.7.5 6.3.5-2.2.5-3.8.5-4.7.5 7.6.5-4 .5 4.7.5 2.8.5-4 .5.1.5-7.4.5.8.5 10.6.5.5.5-6.1.5-5.3.5 10.6.5-8.4.5 7.8.5 2.4.5-8.9.5 1.3.5 7.2.5-6.1.5 5.8.5-9.9.5 1.3.5.7.5 4.1.5 3.1.5-3.7.5-2.7.5 2.7.5 5.3.5-4.4.5-4.5.5 8 .5 1.6.5-11.9.5 2.1.5 10.2.5-2 .5.4.5 1.6.5-8.6.5 3.4.5-.7.5 1.7.5-4.7.5-.8.5 8.6.5-10.2.5 7.9.5 2.8.5-4 .5 3.7.5-6.3.5-6.5.5 7.3.5 6.6.5-14 .5 10.9.5-5.9.5 8.7.5-.3.5-2.7.5.7.5-3.1.5-6.6.5 8 .5-2.3.5 6.5.5-1.2.5-5.8.5 2.6.5-3.7.5 3.7.5 1.3.5-5.3.5-1.2.5 9.4.5-2.1.5-9.7.5 11.1.5-4.3.5-3.4.5 4.2.5-4.6.5 1.5.5 3 .5-4.7.5-1.4.5-1.7.5 12.3.5-4.1.5-1.6.5-4.5.5-1.4.5 2.4.5 3.5.5.2.5 2.2.5-6.7.5 4.4.5-6 .5 4.1.5 5.4.5-.8.5-2.3.5-.6.5 4.8.5-8.2.5.6.5 4 .5 2.7.5-8.8.5 4 .5 2.8.5-5.5.5 3.1.5.3.5-1.6.5 4.7.5-1.2.5-1.5.5-6.9.5-.9.5 13 .5-12.5.5 10.6.5-1.2.5.8.5-1.9.5.1.5-1.5.5-.1.5-1.2.5 1.6.5 3.4.5-1.4.5-6.6.5 7.6.5-9.8.5 10.2.5-4.5.5-3 .5 5.4.5 1.8.5-3.7.5-3.6.5.3.5-1.6.5 9.8.5-9.9.5-3.4.5 10.2.5-3.5.5 2.9.5 2.8.5-.7.5-4.5.5-10.5.5 1.8.5-3.1.5 3.4.5-3.5.5-3 .5 12.1.5-1.1.5-.4.5-3.2.5 4.1.5-.3.5 2.7.5 2.6.5-6.5.5-3.3.5 2.2.5 6.4.5-2.4.5-.7.5-5.8.5 6.1.5-4.1.5 4.1.5 1.2.5 5.1.5-2.7.5 3 .5.5.5-4.5.5-1.2.5-.3.5 1.6.5-.7.5 1.4.5-.3.5-2.6.5-4.4.5 9.2.5-9.1.5.2.5 5.8.5-8.3.5-5.8.5-2 .5 6.3.5 3 .5-3.9.5 7 .5-.7.5-6.5.5 1 .5 11.9.5-11.4.5.7.5 3.7.5-3.1.5 3.6.5 3.7.5-3.2.5 0 .5-2.6.5 5.8.5-.5.5-5.6.5 10.4.5-6.5.5.5.5-1.3.5 8.1.5-.3.5-7 .5 4.2.5-2.3.5-1.6.5 7 .5-5.2.5 5.7.5-5.7.5 4.3.5-8.6.5 6.3.5-3.6.5 3.6.5 5.4.5-6.6.5 1.6.5 4.9.5-5.9.5-2.8.5 3.2.5 3.1.5-4.9.5-4.2.5 0 .5 8.6.5 3.2.5-7.6.5 7.1.5.2.5-1.6.5-2.9.5 3.5.5.6.5-7.4.5 5.1.5-8.1.5 6.7.5 3.2.5-4.4.5-8.5.5 4.4.5-3.3.5 10.1.5-10.9.5 4 .5.7.5 9 .5-2.3.5 1.1.5-2.3.5-6.5.5-.1.5-3.2.5 9 .5-2 .5 3 .5-8.3.5 2 .5 3.8.5-8.1.5 13 .5-4.5.5-5.8.5 1.2.5 5.8.5-8.9.5 10.6.5-9.5.5-2.3.5 11.8.5.6.5.7.5-2 .5-1.1.5 3 .5-8.8.5 7.9.5-6.5.5 8 .5-6.9.5-2.6.5 9.7.5-8.8.5-2.7.5 2.5.5 1.7.5 6.3.5-5.8.5-5.3.5 8 .5-7.2.5 8 .5-4.1.5 5.3.5-4.2.5 2 .5 3.2.5-10.6.5 10.7.5-11 .5 9.9.5-8.6.5 7 .5-5.1.5.1.5-4.7.5 6.7.5-4.1.5 2.3.5 2.2.5-7 .5 11.2.5-6.3.5 7.4.5-10.8.5 1.9.5-4 .5 6.7.5-4.8.5-1.2.5 8.3.5-7.3.5 4.9.5 5 .5-1.7.5 1.6.5-.9.5-6.7.5 1.3.5-2.8.5-1.3.5-1 .5 6.2.5-2.4.5-4.6.5 5.2.5-3.9.5 5.3.5 4.6.5-5.3.5-6.6.5 8 .5-.3.5-6.9.5-5.1.5-1.3.5.7.5 1.3.5-6.8.5 6.5.5-7.2.5-12.1.5.6.5-7.1.5-.3.5-1.3.5-1.2.5-4.2.2-.2.3.2.5-.8.5.2.5 1.7.5 1 .5-.5.5 6.7.5 3 .5-3.7.5 7.2.5.9.5 4.6.5-9.1.5 6.5.5 4.1.5 8.9.5-7 .5 5.4.5-3.5.5 5 .5 8.4.5-4.5.5 9.5.5-9.2.5 7.6.5 3.4.5-10.5.5 1.9.5 10 .5-11.6.5 11.4.5-9.8.5 5 .5 0 .5-6.5.5 3.1.5 9.7.5-6.5.5 1.6.5 4.8.5-5 .5.6.5-1.5.5 5.7.5-11.5.5.2.5 12.5.5-7.5.5-5 .5 12.8.5-2 .5-9.2.5.1.5-.3.5 3.2.5 8.4.5-9 .5 3.7.5-1.9.5-5.4.5 12.4.5-8.9.5 6.9.5-11.5.5 3.8.5 1.8.5 6.6.5-13.8.5 12 .5-3.4.5-4.3.5 2.6.5-9.3.5 6.3.5-5.9.5 5.8.5-2.7.5-7.9.5-3.3.5 3.1.5-4.2.5 2.1.5-2.3.5 1.9.5 1.9.5 4.4.5-2.3.5 9 .5.1.5-1.3.5-5.1.5 2.7.5 3 .5-.6.5-1.5.5-1.4.5.4.5 3.8.5-1.6.5 6.5.5-2.4.5 7.3.5-6 .5-3.2.5-2.6.5 2.2.5 3.8.5 7.1.5-3 .5 1.2.5-4.3.5-5.7.5 12.8.5-1.4.5-2 .5-10 .5 2.1.5 0 .5 7.2.5 3.9.5-4.8.5-3.8.5-.7.5-2.4.5.3.5 6.8.5 2.3.5-2.8.5-5.2.5-.4.5 8.2.5-10.3.5 5.7.5 1.9.5 4.6.5-1.8.5-8.4.5 7.9.5-7.1.5 5.2.5-7.8.5-.7.5 7.3.5-2.2.5 1.9.5-5.6.5 9.8.5.4.5-9.3.5 6 .5-5.1.5 9.1.5-6 .5 2.3.5 3.3.5-4.7.5 3.7.5-7.2.5 4.6.5-1.1.5-3.7.5 8.5.5-11.7.5 1 .5 2.4.5 2.3.5-2.2.5 2.3.5 4.5.5-8.3.5 5.8.5-3.6.5 3.4.5-7.1.5 5.5.5-5.2.5-.6.5 7.6.5-.7.5-7.1.5.3.5.9.5-.8.5 4.2.5 3.2.5-6.8.5 12 .5-1.8.5-10.3.5 10.9.5-.2.5-8 .5-4.6.5 10.2.5-9.4.5 1.6.5 7.9.5-8.1.5-1.5.5 6 .5-4.4.5-3.8.5 7.4.5-9.1.5 4.8.5-2.1.5 3.7.5-3.9.5-6.8.5-.1.5 2.5.5 9.6.5-3.7.5 2.8.5-.7.5-3.3.5.7.5 1.2.5.3.5-5.1.5-2.9.5 10.4.5-7.2.5-3.5.5 9.3.5-.4.5.9.5 2.6.5-5.5.5-5.5.5 6.9.5-3.8.5 9.4.5.1.5-3.3.5-2.7.5.6.5 7.9.5 1.1.5.6.5-9.8.5-2.3.5 10.9.5-9.9.5 1.8.5 8.1.5-6.4" stroke="#00B0F0"/>
<path d="M258.5,333l.5-2.7.5 12.6.5-13.2.5 1.7.5 10.8.5-10.6.5 0 .5 8.7.5-11.1.5 8.6.5-1.2.5-2.9.5-.6.5-.8.5 6.7.5-3 .5 4.9.5-1.9.5-3.1.5 5.9.5-3.9.5-6.7.5 9 .5-3.6.5 5.6.5-9.9.5 9 .5-1.2.5-8 .5 4.3.5-1.6.5-.8.5 1.6.5 1 .5 3.8.5.2.5-.9.5-.6.5-1.1.5-8.2.5 9.7.5 1.1.5-2 .5 2 .5-10 .5-1.7.5 2.6.5-2.7.5 5.7.5 1.4.5.9.5-3.8.5 5.9.5-4.1.5 1.9.5-4 .5-2.9.5 3 .5 7.4.5-6.5.5-2 .5 2.7.5 6.7.5-.4.5-6.4.5-2.5.5 3.1.5-3.4.5 2.6.5-4 .5 8.6.5-8.8.5 1.2.5 8.9.5-1.6.5-1 .5-7.1.5 2.1.5 8 .5-9.5.5 6 .5-8 .5 8.2.5 2.4.5-3.4.5-2 .5.2.5-1.7.5 5.8.5-2.7.5 2.9.5-13.9.5 6.3.5 1.5.5-.8.5-10.8.5.3.5-15.4.5-26 .5-20.9.5-23.8.5-14.4 0 1.3.5-3.5.5 7.6.5 15.2.5 23.7.5 17.3.5 27 .5 9.7.5 2.1.5 4.8.5 1.7.5 4.1.5 6 .5-3.3.5 2.1.5-6.4.5 6.4.5-7.3.5 3.3.5 2.2.5-3 .5-3.9.5 8 .5 4 .5-11.4.5 8.2.5-8.5.5 5.9.5 1 .5-6.1.5 10.3.5-10.6.5 8.3.5-7 .5-2.6.5 1.7.5 7.1.5-8.9.5 6.2.5 3.3.5-1 .5 4 .5-7.7.5 2.6.5-1.7.5-4.6.5 6.2.5 6 .5-8.1.5 7.2.5-7.2.5.7.5 1.4.5-3 .5 8.1.5-3.9.5 2.2.5-.2.5 1.4.5-1.5.5-9 .5-1.7.5 5.1.5-2.3.5 10.8.5-4.6.5-5.4.5-2.7.5 12.1.5-13.3.5.3.5 12.5.5-4.5.5-7.2.5 8 .5 2.5.5-5.9.5-.6.5-2.1.5 7.8.5-4 .5 4.4.5-10.6.5.4.5-.6.5 11.5.5-.6.5-9 .5 4.8.5-5.3.5 2.8.5 8.7.5-1.2.5-8.7.5 6.5.5-1.9.5-3.1.5 8 .5-.6.5-5.6.5 6.7.5-4.6.5-.7.5 4.1.5.2.5-9.6.5 1.1.5 2.7.5.5.5-6.5.5 6.3.5 4.1.5-4.7.5.2.5-.9.5 2.9.5-2.2.5 6.6.5-9 .5-3.1.5 2.2.5-1.5.5-2 .5 6.8.5 1 .5-4.5.5 7.4.5-1.2.5-4.2.5 8 .5-13.4.5.6.5 6 .5-1.6.5 3.9.5-1.6.5 5.1.5-3.6.5 2.2.5-3 .5-3.6.5-2.9.5 11 .5-.7.5-7 .5-4.5.5 5.4.5.5.5-4.8.5 9.3.5 2.8.5-7.1.5-1.2.5 6.6.5-8 .5 1 .5-3.1.5 7.1.5 3.7.5-2.3.5-.1.5-1.4.5-4.5.5 5.3.5-10.1.5 11.6.5-10.1.5 9 .5-9.7.5 9.9.5-4.7.5 4.4.5-6.7.5 1.4.5-1.6.5 4.6.5 3.4.5-2.3.5-7.6.5 5 .5 4.6.5 1.4.5-6.3.5-4.4.5 2.2.5-1.6.5 10.2.5-5.3.5 2 .5.9.5-10.1.5 1.2.5 7.2.5-9.1.5 11.1.5-8.9.5 5.3.5.4.5-7.9.5 2.7.5 1.4.5.5.5.1.5-2.5.5 1.8.5 4.9.5-3.5.5 2.4.5 3.1.5 1.7.5-11.8.5 7 .5-1.4.5 5.1.5-5.5.5-5 .5 2.7.5.6.5 1.3.5 7.9.5 0 .5-1.4.5-7.1.5-3.3.5-1.6.5 3.1.5 0 .5 7.6.5 1.8.5-10 .5 7.2.5-5.5.5-3.6.5 11.8.5-10.3.5 6.5.5-3.2.5 1.9.5-5.7.5 1.9.5-3.2.5 2.8.5-1.4.5.2.5 4.2.5-.5.5-.2.5 6.1.5 1.1.5-3.9.5-1.5.5 4.9.5-9.1.5 5.8.5-2.8.5-6 .5.9.5 5.7.5-.5.5 6.3.5 0 .5-7.3.5 7.1.5-9.2.5 8 .5-1.4.5-7.5.5 8.6.5-8.6.5 10.4.5-6.7.5.7.5 2.6.5-1.1.5-7.3.5 8.8.5.2.5-3.3.5.5.5-.4.5-1.4.5-.7.5 4.6.5-3.9.5-.5.5-3.7.5 7.8.5 1.8.5-2.9.5-6.6.5 5 .5 1.3.5-2.8.5 6.7.5-2.8.5-9.4.5 6.3.5-2.4.5 7.7.5.4.5-12.7.5 12.7.5-9.5.5 8.9.5-6.8.5 1.8.5 3.7.5-3 .5-8.2.5 5.7.5-1.8.5 10.1.5-13.1.5 6.4.5-1.5.5 2.2.5 3 .5-.6.5-7.3.5-3.3.5 3.4.5-3.4.5 6 .5 4 .5-3.7.5 6.6.5.5.5-.4.5-6.7.5-5.2.5 5.3.5.2.5-1 .5 7.3.5-8.7.5-2.4.5 11.6.5-12.6.5 4.6.5 1.1.5 6.4.5-8.1.5-.9.5-2.8.5 9.4.5-.8.5-9.7.5-.7.5 7.9.5-3.3.5 6.7.5-8.3.5-2.7.5 11 .5-2.2.5-8.4.5 10.5.5-8.5.5 2.9.5-2.7.5 4.6.5-7.4.5 2.1.5 2.4.5 5.7.5-9.7.5-1 .5 6.5.5 6.5.5-4.4.5-3.5.5-3.7.5-1 .5 6.1.5 1.3.5-3.5.5-2.8.5 2.8.5.2.5 3.5.5-5.8.5 7.1.5 0 .5 2.2.5-7.2.5 8.5.5-11.9.5 7.6.5-6.9.5 3.6.5 6.8.5-12.2.5 4.5.5-.2.5-3.8.5-.7.5 6.5.5-.7.5-2.1.5 6.6.5.6.5-3.5.5-8.1.5-.3.5-.3.5-1 .5 3.8.5 7.1.5-5 .5-2.5.5 2.2.5-1.1.5-1.3.5-1.8.5 6.8.5-4.6.5 4.1.5-11.5.5 5.4.5-6.8.5 7.7.5-4.1.5 4.3.5-11.6.5 4.6.5 1.2.5-7.9.5.5.5 4.7.5-1.8.5-10.3.5 10.5.5-11.5.5 3.9.5-4.6.5.1.5-.2.5 7.2.5-8.7.5 10.1.5-9.7.5-.3.5 3.6.5 4 .5-6.8.5 5.9.5-1.9.5-4.5.5 0 .5 1.7.5-7.2.5 9.3.5-11.1.5-.9.5-1.8.5-2.6.5-14 .5-23.8.5-35.5.5-80.1.5-104.9.5-97.3 6 0 .5 31.7.5 130.6.5 79.8.5 56.9.5 31.2.5 16.4.5 12.4.5 10.9.5-5.4.5 3.3.5 13 .5.1.5-3.8.5 4.5.5-5.2.5 7.4.5-2 .5 9.6.5.2.5 1.9.5-6.4.5 6.9.5-7.8.5 2.9.5.1.5 1.4.5-3.6.5 10.6.5-.7.5-3.2.5-7.7.5 4.6.5-.8.5 9 .5-.1.5-5.6.5-4.8.5 3.5.5 7.5.5-9.4.5 10.7.5-2.9.5-9.3.5 5.5.5.7.5 1.9.5-8.1.5 6.6.5 1.9.5 3.6.5 0 .5-7.4.5 6.1.5-1.3.5-.1.5-7.9.5 10.7.5-11.6.5.4.5 2.7.5 8.4.5-5.3.5-.2.5 1.3.5-.6.5.7.5-5 .5 1.8.5.7.5 3.7.5 1.1.5-3.6.5 5.2.5-4 .5 1.6.5 1.2.5-4.3.5 2.5.5-1.5.5 1.9.5-5.8.5-.9.5 6.6.5-3.9.5-1.6.5-2.3.5.8.5 10.6.5-9.5.5 8.9.5 2.3.5-7.3.5 4.2.5 2.5.5-8.1.5-3.7.5 8.2.5-5.5.5 4.2.5 1.2.5-6.6.5-1.1.5 6.9.5 3.4.5-7.8.5-2.5.5 5.2.5-5.9.5 1.7.5 8.3.5-2.3.5-4.6.5 7.5.5-3.9.5-7.4.5 11.1.5 1.3.5-12.6.5 1.7.5 7.5.5 2 .5-1.9.5-1.9.5-1.9.5 7.4.5-3.9.5 4.1.5-7.4.5 3.3.5-2.9.5 2.1.5 1.6.5-8 .5 5.3.5-6.3.5-.9.5 12 .5-7.6.5-4.4.5 2.8.5-1.7.5 7.7.5-6.4.5 8.3.5-7.6.5 5.6.5-.6.5 2.1.5-.3.5.5.5-1.7.5-8.6.5 2.9.5 10.5.5-13.9.5 9.7.5-4.7.5-2.5.5 1.5.5 2.3.5-5.3.5 7.7.5 5 .5-8.5.5 4 .5 1.6.5-5 .5 3.4.5-3.3.5-.1.5 5.7.5-6.1.5 2.9.5-4.5.5 6.9.5-8.5.5-.2.5 11.1.5-.3.5-8.4.5-1.5.5 10.7.5-2.4.5 1.3.5-6.5.5 2.4.5.2.5 3.9.5-7.4.5-5.3.5 8.1.5-5.8.5 10.5.5-12.2.5 7.1.5 1.7.5-4.2.5 6.2.5-6.8.5.3.5-.3.5 2.8.5 1.8.5-6.5.5-2.5.5 11 .5-8 .5 1.2.5 3.3.5.2.5.3.5-7.4.5 3.4.5-.4.5-2.9.5.7.5 2.3.5 6.4.5-.4.5-2.2.5-2 .5 3.1.5 2.9.5-1.3.5 1.9.5-11.3.5 9.7.5-3.3.5-.9.5 6.1.5-4.1.5 4.5.5-1.3.5-7.4.5 5.4.5-6.1.5 9.8.5-3.6.5-2.4.5-3.2.5-.8.5 4.6.5 5 .5-5.7.5 5.7.5-11.3.5 9.8.5 0 .5-2.7.5-4.3.5 4.5.5-2.8.5.2.5 7 .5-13.9.5 3.8.5 9.1.5-6.7.5-4 .5 9.3.5-10.4.5 7.8.5-3.9.5-2 .5-2 .5 3.9.5 3.1.5 4.2.5-9 .5 8.1.5-10.7.5 11.3.5-7.9.5-4.3.5 12.5.5-11.4.5 2.6.5 3.9.5 2.5.5-9.9.5 10.7.5 1.7.5-11.7.5 9.3.5.7.5-2.2.5-8.4.5-.4.5 10.6.5-5.3.5-2.4.5 4.6.5-7.1.5 11.4.5-10.5.5 7.2.5-5.9.5 1.2.5-2.9.5 10.6.5-5.2.5-1.2.5 7.1.5-5.5.5 4.2.5.3.5-8.7.5 4.5.5-5.1.5 1.5.5 8.2.5-6.2.5-3.5.5 4.4.5 4.6.5-6.8.5-4.7.5 3.7.5.6.5-2.5.5 5.2.5-3.2.5-1.7.5.9.5.2.5-3 .5 6.5.5 6 .5-5.7.5-2.5.5 4.7.5-.7.5-5.2.5 9.6.5-2.5.5-2.8.5-8.5.5 2.2.5-1.8.5-.4.5 9.4.5-.5.5.1.5-8.9.5 4.8.5 3.4.5-10.2.5 6.3.5 1 .5 3.3.5-4.8.5-4.6.5-.1.5-.5.5-13.2.5-.2.5-17.1.5-24.4.5-10.5.5-22.5.5-22.2.5-13.4 0-1.1.5-2.9.5 4.8.5 8.3.5 15.4.5 18.3.5 15 .5 5.9.5 25.1.5 2 .5 20.1.5 3.8.5 1 .5 1.8.5 1.3.5-4.8.5-.7.5-4.2.5 2.9.5-11.6.5-23.2.5-9.9.5-10.9.5-7.2 0 1.1.5-2.6.5 4.7.5 6.9.5 4.8.5 12.9.5 3.2.5 12.8.5 6.9.5 13.3.5 1.2.5 12.8.5-5.5.5.5.5.3.5 6.7.5-2.7.5 7.1.5-9.6.5 13.3.5-1.6.5-9.5.5 5.9.5-4.6.5 10.3.5-4.9.5 1.9.5.6.5-.2.5 1.1.5.7.5-12.4.5.5.5 8.6.5 4.4.5-1.6.5.7.5-2.6.5-7.5.5-.3.5-.9.5 2.9.5 4.6.5-4.6.5 6.5.5-10.2.5 4.6.5-1.9.5 4.6.5-7.4.5 1.8.5-2 .5 13.7.5-13.9.5 2.3.5 3.1.5.7.5 3 .5-2.6.5 1.9.5 4.2.5-5.1.5-1.5.5-.2.5 1.7.5-1.1.5-4.8.5 8.1.5-6.6.5-2.6.5 11.8.5-12.9.5 5.5.5 2.8.5.9.5 4 .5-8 .5 7.7.5-8.2.5.9.5 4.2.5 3.5.5-6.3.5-.1.5-2.8.5 2.9.5 3 .5-2.5.5-.1.5 4.2.5-11.4.5 4.2.5.1.5 3.6.5-7.5.5.7.5 5.9.5-1.9.5 1 .5-3.7.5.4.5 5.2.5.7.5-7.9.5 1 .5 3.6.5 4 .5-1.3.5-2.4.5 2.7.5-5.6.5 7 .5-.1.5-2.8.5 4.3.5-5.6.5 3.3.5.9.5-5.2.5-1.7.5.8.5 7.8.5-11.7.5.9.5 6.5.5-6.3.5.9.5 4.7.5 2.9.5-2 .5-.6.5 3.6.5-11.2.5 1.6.5-2.3.5 9.1.5-6.8.5-2.3.5 6.6.5-6.3.5 8.5.5-9.1.5 6.9.5 1.2.5 5.2.5-13.5.5 13.3.5-10.7.5 5 .5 5.1.5-6.1.5-1.6.5 3.3.5-2.2.5 5.4.5-10.4.5 7.1.5-2.7.5 7.8.5-10.3.5 4.9.5-1.7.5-.2.5 6.4.5-7 .5-4.1.5 8.5.5-9.6.5 7 .5-5.9.5-2.3.5.6.5 11.4.5-10.5.5 2.2.5 9.5.5-5.7.5 2.4.5-9.9.5 7 .5 4.3.5-1.9.5 3.8.5-5.2.5 5.3.5-7.8.5 4 .5.3.5-9.4.5 10.6.5 1.1.5-10.9.5.3.5 11.6.5-13.6.5 10.4.5-3.9.5-3.7.5 10.8.5-5.3.5 3.2.5-1.9.5-9.2.5-.7.5 3.1.5 9.9.5-1.7.5-7.8.5 2.7.5 1.7.5 2.6.5 2.7.5-5.1.5 4.6.5-1.7.5-2.6.5-6.5.5 5.6.5-4.2.5-3.4.5 13 .5-12.4.5-1.1.5 13.7.5-7.9.5 6.1.5-2.1.5-.5.5 1.8.5-6.9.5-2.2.5 6.3.5-5.8.5 1.8.5-.6.5 2 .5-6.2.5 3.5.5-2.9.5 2.3.5-1.1.5 8.1.5.2.5-8.4.5 4.6.5 3.3.5-7.9.5 7.4.5-7.1.5 8.6.5-3.5.5-5.6.5-1.6.5 12.9.5-1.7.5 0 .5-6.2.5 7.2.5-12.8.5 5.4.5 5.4.5-.4.5-3.5.5-5 .5 2.1.5 7.4.5-6.6.5.9.5 3.2.5-2.4.5-7.8.5 11.8.5-9.5.5-2.1.5-4.8.5 3.8.5-6.6.5 2.8.5 4 .5-7.2.5-6 .5 9.8.5-2.4.5-6.4.5-8.2.5-14.4.5-19.8.5-24.9.5-29.1.5-24.8.3-6.9.2-1.9.5.7.5 15.1.5-.4.5 5.6.3 3.3.2 3.1.5 9 .5 14.7.5 11.2.3 8.1.2 7.4.5 16.2.5 20.4.5 4.9.5 19.9.5-2.4.5 3.8.5 13.3.5-11.3.5 4.1.5 3.2.5 2.3.5 2.5.5-5.3.5 4.1.5-3.7.5 7 .5-11.1.5 11.4.5-2.1.5 1.2.5-10.9.5 3.1.5.3.5 6.6.5 1.3.5-5.3.5 5.7.5-4.5.5 0 .5-6.4.5 10.7.5-2.7.5-1 .5.3.5-3.6.5 4.9.5-6.1.5 8.2.5-3 .5.2.5-4.7.5 7.5.5-2.3.5-2.2.5-7.1.5-1.1.5 13.3.5-6.5.5-1.9.5 8.3.5-12.1.5 4.8.5 7.2.5-11 .5 6 .5 3.3.5-11 .5 11.1.5-2.2.5 2.7.5 1.8.5-7.2.5-6.3.5.2.5 1.2.5 7.3.5 2.5.5-9.1.5 1.8.5 0 .5 7.2.5-5.6.5 5.9.5-8.9.5.6.5 4.4.5-3.8.5-4 .5 13.7.5-2.9.5 2.6.5-2.2.5-11 .5 2.2.5 10.3.5-5 .5-6.2.5.1.5 11.4.5-11.8.5 12.5.5-5.8.5-6.8.5-.8.5 9.5.5.7.5-3.9.5-5.6.5 9.2.5-2 .5 5.3.5-2.6.5-10.6.5.2.5 6 .5-4.2.5 3.8.5-2.1.5 4.1.5-6.2.5-.3.5 2.2.5-1.8.5 11.6.5-12.9.5 5.9.5 5 .5-10.8.5 8.9.5-8.4.5 4.4.5 3 .5-8.6.5 13.1.5.6.5-9.4.5-1 .5 10.2.5-12.6.5 9.1.5 3.2.5-3.7.5 1.3.5-1.3.5-6.8.5 3.6.5-5.3.5 5.6.5 3.8.5 1 .5-4.1.5-1.9.5 6.2.5.5.5-8.1.5-.1.5.2.5 8.1.5-9 .5 2.1.5 5.4.5-3.1.5-.6.5-2.8.5-2.5.5 3 .5 6.7.5 0 .5-1.8.5 1.8.5 1.5.5-3.7.5-1.9.5 1.5.5-4.4.5 1.9.5 4.2.5-4.7.5 4.1.5-.6.5 3.2.5-10 .5 10.9.5-11.1.5 9.7.5-8.6.5 4.7.5-8.6.5 11.5.5-.2.5-10 .5 12.3.5-4.8.5-.8.5 1.7.5 2.4.5-10.4.5 9.6.5-6.4.5.8.5 5.5.5-2.6.5-.9.5 4.6.5-3.7.5-6.8.5 3.2.5 5.2.5-9.5.5 6.2.5 5.2.5-5.5.5 5.3.5-7.9.5 5.4.5-4.9.5-2 .5 10.8.5-4.2.5 3.2.5-2 .5-8.7.5 7.3.5-3.5.5 2.4.5.3.5.1.5-.9.5-5.7.5 2.9.5 2.2.5.6.5-2.9.5 3.8.5-1.1.5.3.5 4 .5-3.9.5 5.8.5-2.9.5 1.4.5-11.1.5 9.6.5-7.4.5 4.6.5.1.5-4.2.5-2.6.5 5.5.5-4.2.5 11.2.5-13.8.5 2 .5 7.8.5-3.2.5-.4.5-.5.5 8.2.5-3 .5.3.5-4.2.5-1.3.5 7.8.5-3.4.5-1.3.5-.5.5 1.3.5-10.2.5 7.1.5 5.2.5-2.1.5-9.4.5 11.5.5-9.4.5 9.2.5-1.9.5-13 .5 9.3.5-3.6.5-11.8.5-1.7.5-.2.5-8 .5-3.9.5-6.2.3-1.6.2-.2.5.7.5 3.1.5 4.2.5 3.1.5-5.9.5 7.6.5 2.4.5 2.3.5 9.3.5 2.9.5-7.5.5 6.8.5 7.9.5-6.3.5 9.2.5-.3.5-2.5.5-3.5.5-2.8.5 12 .5-7.2.5-2.8.5 11.6.5-9.7.5 4.1.5 2.5.5-7.5.5-1.2.5 12.1.5-9.1.5.8.5-5.1.5 13.7.5.2.5-4.4.5-6.5.5.2.5 3.1.5-3.3.5 6.8.5-2.3.5 3.7.5-8.4.5.9.5 4.3.5-2.7.5 1.7.5-5.4.5 8.6.5-10.2.5 2 .5 8 .5-7.6.5 6.2.5-5.6.5 10.3.5-4 .5.3.5-6.7.5-.7.5 5.8.5 3.3.5 2.4.5-12.2.5 11.1.5-.7.5 1.8.5-12.8.5 4.2.5 5.7.5-4.9.5-5.2.5 6.5.5.9.5-6.7.5 11.8.5-12.9.5 6.2.5 1.8.5-2.3.5 4.3.5-.6.5 0 .5 1.1.5-6.1.5 7.6.5-11.7.5 9.4.5-.2.5-3.5.5-2 .5 2.8.5 3.5.5-3.2.5 5.8.5-2.5.5-5.9.5 4.5.5-3.1.5-2.5.5-1.2.5 1.9.5.1.5 3.4.5-.1.5 3.3.5-.4.5-1.9.5.4.5.8.5-5.3.5 1.5.5-2.1.5 2.3.5-1.4.5 1.6.5-6.4.5 9.7.5-2.8.5.5.5-1.3.5 5.3.5-3.6.5-5.2.5 4.8.5-2.1.5 4.5.5 2.4.5.9.5-4.8.5-1.2.5 5.3.5-6.1.5-3.7.5-2.8.5 1.6.5 2.6.5 3.3.5-3.8.5 4.5.5 1 .5 3.8.5-10.7.5 4.6.5-1.4.5-4.2.5 2.2.5-3 .5 2.5.5-2.8.5 9 .5.3.5-4.3.5-.4.5-.4.5 8.2.5-13.1.5 13.9.5-11.6.5 4.1.5-5.5.5 9.9.5-8.9.5 3.3.5-1.4.5-2.9.5 2.3.5-1.8.5-.6.5 9.2.5-.8.5-6.6.5 3.8.5 5.3.5.9.5.8.5-12.1.5-1.7.5 6.1.5 4 .5-2 .5 1.7.5-5.5.5-1.2.5 9.9.5-7.4.5 7.3.5-9.1.5 5.2.5-3.6.5 7.2.5-1.9.5-1.5.5-9.3.5 4.9.5-.6.5 3.8.5 3 .5-10.7.5 12.9.5-6.2.5.3.5 5.3.5-1.8.5-4.8.5-5.9.5 1.4.5 1.9.5 7.5.5-6.1.5 8 .5-8.6.5-4.9.5 11.9.5-2.7.5 4.4.5-12.3.5 11.9.5-8.2.5-4.3.5 4.8.5.5.5-2.4.5-3.8.5 10.9.5-1.1.5 0 .5-.2.5-6.7.5 3.1.5 3.4.5-6.6.5 9.6.5-11.9.5-.7.5 4 .5 7.5.5-2.6.5-7.6.5 3 .5 5 .5-6 .5 1.5.5 1.7.5-6.9.5 5.3.5.8.5-.5.5-7.5.5 4.5.5.2.5-10.8.5 1 .5-6.7.5-4.1.5-1.1.5-18.7.5-15 .5-24.5.5-25.6.5-25.4.5-29.3.5-28.8.5-17.2.2-3.4.3-2.2.5 2.3.5 10 .5 12.9.5 16 .5 8.5.5 14.4.5 15.8.5 16.3.5 15.1.5 12.1.5 17.1.5 16.9.5 13.8.5 14.3.5.7.5 16 .5-4.1.5 5.9.5 2.1.5.7.5 9.9.5-10.1.5 9.9.5-9 .5 2.9.5 3.6.5-3.9.5 6.7.5-1.5.5-.7.5 2.5.5-.6.5-3.6.5-.9.5 4.5.5.5.5-1 .5 4.5.5.3.5-8.1.5 1.1.5-5.8.5 7.3.5 0 .5-1.9.5 4.2.5-10 .5 7.4.5-5.5.5 10.9.5-11.8.5 1.8.5 7.7.5 2.2.5-5.4.5-5.9.5 2.5.5 6.9.5 3 .5-8.6.5 4.2.5-6.8.5 1.4.5 7 .5-1.2.5 3.3.5-10 .5 11 .5-13.8.5 2.7.5 3.7.5-4.9.5 3.7.5-3.5.5 12 .5-11.1.5 4 .5-3.1.5 7.9.5.9.5-5.8.5-2.4.5 5.8.5-3 .5 4.7.5-11.6.5 3 .5 10.1.5-9.8.5 4.5.5 1.4.5 3.5.5-7.2.5-.9.5 5.1.5 1.9.5-6.2.5 6.4.5-3.2.5.2.5-6.6.5 7.1.5 4 .5-11.7.5 4.7.5 3.3.5 3.4.5-5.7.5-2.7.5 3.5.5 2.9.5-7.6.5 1.6.5 8.3.5-12.7.5-.9.5 1.7.5 7.5.5-7.6.5 5 .5 2.4.5.3.5-3.7.5-.8.5-1.3.5.2.5-1.1.5-2.2.5 8.5.5 2 .5-5.6.5 4.2.5.4.5 2.9.5-8.7.5 4.7.5-5.9.5-2.8.5-.2.5 10.5.5-7.3.5 5.5.5-8.5.5 5.4.5.5.5-3.3.5-.4.5 2.8.5-2.4.5 3.3.5-5.4.5 6.3.5 4.6.5-10.2.5.5.5.8.5 9.7.5-4.2.5-5.9.5-1.7.5 8.4.5-5.3.5 8.3.5-3.1.5-1.7.5-.8.5-1.3.5-3.2.5 4.9.5.6.5-7.3.5.8.5 3.7.5-2 .5 3.1.5 5.1.5-8.2.5-.3.5 1.4.5 2.1.5 5.7.5-6.8.5.7.5-3.3.5 8.5.5-3.7.5-6.8.5 6.8.5 3.8.5 1.1.5-13.1.5-.3.5 5.2.5-1.9.5-.3.5 5 .5-4.9.5 4.1.5 6.8.5-3.8.5-10.3.5 1 .5.2.5 6.9.5-3.6.5-2.7.5 7.3.5.3.5 4.6.5-11.7.5 2.4.5 5.2.5 1.7.5-1 .5 3.3.5-12.2.5 7.1.5-1.6.5 5.6.5-7 .5.7.5 1.5.5-7.2.5 11.2.5-2.2.5-9.8.5 6 .5 5.2.5-10.1.5 6.7.5 5.1.5-11.3.5-1.5.5 12 .5-3.7.5-3 .5 3.4.5-3.3.5-3.2.5 2.6.5 4.1.5-6.6.5 5.3.5-4.7.5-1 .5 1.8.5 6.4.5-3.9.5-2.1.5 5.3.5-.3.5 1.7.5-9.9.5 4.8.5.7.5-2.2.5.7.5 6.7.5 1.6.5-7 .5-3.3.5 3.9.5-5.5.5 10.2.5-6 .5 4.2.5 2.8.5-11.8.5 6 .5-2.2.5 5.5.5 1 .5-3.1.5 3.9.5-1.5.5-3.4.5 1 .5-3.4.5 8 .5-4.6.5-6.4.5 2.1.5.5.5 1.1.5 6 .5-10.3.5 6.3.5.5.5-.9.5-1.1.5 4 .5-2.5.5-6.9.5 3.8.5-.5.5-4.1.5 11.5.5-3.1.5-2 .5-4 .5 8.2.5.5.5-11.1.5 11.6.5-4.8.5 6 .5-6.5.5.5.5 1.2.5-.7.5 4.3.5-7.7.5 7.9.5-4.1.5-7.1.5 10.8.5 1.2.5-11.7.5 11.5.5-.8.5-6.5.5 5.9.5-6.7.5 6.7.5-9.7.5 10.4.5-1 .5 2.6.5-8.2.5 5.9.5-3.6.5-4.7.5 8.9.5-2 .5 3.1.5-11.6.5 3.3.5 7.4.5-1.7.5-2.3.5 3.7.5-2 .5-8.8.5 5.1.5 1.2.5-6.5.5.7.5-.4.5 8.3.5 3.8.5-6.5.5-2.5.5-2.8.5 10.1.5-4.7.5-6 .5 4.2.5.7.5.9.5-5.8.5 6.8.5 1.8.5 4 .5-4.9.5-7.5.5 2.9.5 5.8.5-8 .5 12 .5.1.5-8.2.5 6.8.5-4.1.5-7 .5 9.7.5 2.1.5-10.5.5-2.5.5 11.9.5-1.6.5-9.7.5 11.6.5-6.3.5 2.8.5 4.8.5-11.8.5 9.2.5-.3.5-8.7.5 8.4.5-9.9.5 7.3.5-5.5.5 2.6.5 1.3.5.3.5-6.4.5 9.2.5 3 .5-6.7.5 3.3.5-5.4.5 5.1.5-3 .5-4.7.5 10.9.5-2.9.5 1.7.5.5.5 2.1.5-10 .5 6.1.5 1.4.5-10.1.5-.7.5 9.6.5-3.3.5 5.3.5 0 .5-7.7.5 2.4.5-4.6.5 11.3.5-6.9.5-1.7.5-2.8.5 6.9.5-.6.5 3.1.5-3.1.5 3.9.5-8.6.5-2.2.5 1.9.5-.2.5-1.8.5 2.9.5-1.7.5 2.5.5-4.3.5.7.5 4.9.5 6.2.5-.9.5.8.5-3.9.5.3.5-3.6.5 2.3.5-1.2.5-2.3.5.4.5-1.8.5 8.3.5-2.8.5-1.3.5-6.1.5 11.2.5-3 .5-2.5.5-.9.5 1.5.5-8.3.5.3.5 7.5.5-1.4.5.6.5-4.2.5 4.9.5-1.1.5-16.7.5.1.5-9.1.5 1.3.5-13.9.5.5.5-7.8.5-4.8.5-6 .2-1.7.3.3.5-.1.5 4.1.5-.1.5 3.2.5 8.6.5 4.6.5-.4.5 2 .5 1.9.5-2 .5 7.4.5 4.6.5 8.2.5 4.6.5-2.2.5 5.2.5 5.6.5-2.1.5 9 .5.3.5-6.8.5-5.1.5 8.2.5 3.7.5-4.6.5 5.4.5-7.2.5 2.3.5 4.2.5-8.6.5 7.8.5.2.5-9.2.5 9.7.5-9.3.5 9.8.5-3.6.5 2.9.5-5.5.5-.9.5-.3.5 3.8.5-.5.5-5.9.5 1.9.5 1.9.5-13.6.5 3.7.5-2.4.5 9.5.5-2.7.5 4.1.5-6.4.5-.1.5-3.2.5-1.3.5 14.1.5-5.5.5 6.6.5-2.8.5 4.7.5-9.1.5 7.7.5.5.5 3.5.5-9.4.5.5.5 10.2.5-1 .5-5.2.5 4 .5-7.1.5-2.4.5 7.7.5 2.7.5-9.6.5 9.7.5-7 .5-5.2.5 9.2.5-9 .5 10.5.5.9.5-9.7.5 10.4.5-.2.5-10.1.5 3.1.5.2.5 2.1.5-5.2.5 9.1.5-4.9.5 2.4.5 4.7.5-7.7.5 4.3.5-6 .5-2.7.5 9.8.5 1.5.5-7.8.5 1.7.5 2.7.5-2.3.5-4.2.5-1.5.5 6.4.5-.8.5-4.6.5-1.1.5 11.4.5-7.7.5.8.5-5.2.5 7 .5-6 .5 7.2.5-2.1.5-6.3.5 8.3.5-4.4.5 4.1.5.4.5-1.1.5 5.5.5-3.3.5-.2.5-7.6.5 1.8.5 8.1.5-10.7.5.2.5 12.7.5-11.2.5 9.7.5-6.7.5 4.5.5-7.2.5-1.9.5 3.6.5 1.2.5-1 .5 4 .5-7 .5.9.5 3.5.5 2.8.5 3.4.5-2.1.5-7.5.5 9.3.5-10.7.5-1.7.5 8.7.5-4.9.5-.2.5-.1.5 3.8.5-3.4.5-1.7.5-1.9.5 2 .5 1.7.5-3.9.5 2.2.5 3.9.5 7.4.5-7 .5 4.3.5-6.3.5-2.5.5 7.5.5-6.3.5 10.3.5-11.6.5 2.8.5.7.5 1.9.5-1.6.5-3.1.5 9.1.5-5.8.5 1.5.5-7.3.5 11.7.5-5 .5-3.8.5 10.7.5-7.2.5-1.6.5-2 .5 7.2.5-5.2.5-1.9.5 3.3.5-.2.5-5.9.5 10.7.5-1.9.5-8.3.5 5.9.5 2 .5-7.4.5-1.3.5 5.7.5.4.5-3.4.5-2.4.5 6.3.5-1.1.5 1.8.5-4.3.5 4.2.5 2.9.5 1.5.5-10.9.5 10.1.5-4.5.5-6.7.5 8.6.5-7.2.5-4.3.5-.9.5-.8.5 11.1.5-10.8.5 4.4.5-8.7.5-.4.5 10.9.5-.9.5-2.4.5 2.6.5-9.5.5 8.2.5 2.3.5-9.6.5 9.5.5 5.1.5.1.5.5.5-12 .5 1.9.5 5.5.5-5.5.5 11.9.5-.7.5-4.6.5-1.5.5 1.1.5-3 .5 11.9.5.1.5-3.7.5 3 .5-2 .5-1.2.5 1 .5-7 .5 3.5.5-4.4.5-1.3.5 8.2.5-1.2.5-4.3.5 2.5.5.8.5 5.3.5-6.6.5 1.5.5-2.7.5-.3.5 6.5.5-9.9.5 7.2.5 3.6.5-7.5.5 3.7.5-5.7.5 2.5.5-2.6.5 8.1.5-7.3.5 5.2.5.9.5-1 .5-2.7.5-5.1.5 2.4.5 6.8.5.4.5-2.5.5 5.9.5-8.7.5 4.6.5-6.5.5 6.4.5-8.3.5 1.3.5 6.5.5-1.6.5 6 .5-4.9.5-7 .5.9.5-1.8.5 8.6.5-2.5.5-.1.5-4.7.5 3.5.5-4 .5.8.5 9.2.5 3 .5-2.9.5-10 .5 11.2.5-10.9.5 1.5.5-.9.5 2.2.5 7.9.5 1.4.5-.9.5-8.6.5 1.5.5-5.4.5 6.2.5 6.9.5-.1.5-1.2.5-11.1.5 4.8.5 7.7.5-2.3.5-2.6.5-7.1.5 11.9.5-2.7.5-10.2.5 2.9.5 5 .5-1 .5-6.6.5 5.4.5-3.1.5 2.7.5 1.4.5 6.2.5-4.7.5.7.5-1.2.5.2.5.1.5 2.1.5-.2.5 2.2.5-9.7.5-2.3.5 11 .5-3.2.5-4.4.5 0 .5.8.5 3.1.5 3.1.5 2.5.5-7.8.5-.3.5 4.7.5 2.5.5-8.1.5 0 .5 2.2.5-1.6.5 4.9.5-6.9.5 9.8.5-4.9.5.2.5-1 .5 1.1.5-8.3.5 0 .5 2.5.5 0 .5-1.8.5 3.6.5-2.6.5 5.5.5 1.5.5 2.1.5 2.9.5-8 .5-3.8.5 2 .5 5.8.5-4.4.5 8 .5-10.1.5 8 .5-11.6.5 2.2.5 4.4.5-1.1.5-2.5.5 4 .5-4 .5 6 .5-2.5.5-.3.5-2.5.5 5.7.5 2.9.5-4.2.5-4.7.5-3.8.5 1.4.5 7.8.5-1.1.5 3.7.5-9.5.5 2.2.5 4.2.5-3.4.5 3.2.5 1.7.5-4.6.5-3.6.5-3.9.5 12.8.5-6.1.5 4.1.5-8.8.5-.1.5-3.7.5 1.2.5-6.2.5-7.9.5-9.6.5-.1.5-7.7.5-1.9.5-1.1 0 .8.5.4.5 1.7.5 3.3.5.5.5 3.4.5.6.5 7.3.5-5.1.5-2.2.5 6.9.5 1 .5-3 .5 7.2.5-3.7.5 11.6.5 6.3.5-3.7.5 1.4.5.6.5 1.5.5 9.6.5-11 .5 4.9.5-4.8.5 8.5.5-5.6.5 3 .5 4.2.5-3.1.5 3.1.5 4.2.5-8.3.5-3.8.5 10.7.5-9 .5 4.8.5-3.8.5 9.4.5-12.6.5 7.2.5-6.7.5 9.7.5 3.3.5-11.4.5 3.8.5 5.4.5-4.7.5-5.3.5 3.3.5 5 .5 2.6.5-4 .5 2.7.5-5.1.5-5.2.5 11.6.5-8.4.5-2.2.5 3.8.5 1.5.5-7.1.5 9.7.5-9.1.5 8.3.5 3.9.5-3.1.5-3.2.5-1.6.5 4.6.5-6.1.5.1.5 10.2.5-5.9.5-2.8.5 6.7.5-9.4.5 1 .5.3.5 4 .5-.1.5-.7.5-4.1.5 4.3.5-3.4.5-3.3.5 8.8.5-.6.5-.9.5 5.2.5-9.1.5-3.1.5 4.7.5-2.2.5 1.2.5-1.8.5-1.9.5 1.2.5 10.5.5-6.1.5-1 .5 1.3.5 6.1.5-12.3.5 1.4.5.4.5 6.4.5-3.7.5 2.6.5-5.6.5 11.3.5-12.3.5.9.5 5.7.5 1.1.5 3.9.5-1.5.5-6.3.5-2.8.5 4.2.5.5.5.9.5-4.8.5 9.8.5 1.7.5-8.3.5 2.2.5 3.6.5.4.5-2.1.5-7.6.5-1.5.5 5 .5 5.4.5-2 .5 0 .5-6.2.5.4.5 5.1.5-3.9.5-4.5.5 3.4.5 4.8.5-5.1.5 5.4.5-6.8.5 2.3.5 6.3.5 1.2.5-7.8.5-3.2.5 12.1.5-6.9.5 1 .5 3.2.5-5.9.5.1.5 4.4.5-3.2.5 5.4.5-.9.5-8.8.5 9.7.5-2.8.5-5.3.5 3.7.5 5.2.5-8.1.5 7.9.5-10.4.5-.4.5 9.5.5.4.5-7.6.5 4.8.5-3.9.5-2.3.5 5.7.5-5.6.5 10.9.5-9.4.5 6 .5-4.5.5 2.9.5 4.1.5-6.4.5-.5.5-1.1.5 2.3.5-4.7.5 2.6.5 2.6.5-3.6.5-1.3.5 6.6.5 2.7.5-.1.5-9.6.5 5.5.5 1.3.5 1.9.5-.1.5-8.4.5 9.5.5-9.9.5 8.4.5-8.7.5.6.5-.2.5 7.7.5-9.5.5 8.1.5-11.6.5 8.9.5-4.8.5-4.2.5 3.5.5 2.5.5-8.5.5 6.9.5 1.1.5-8.3.5 7.3.5-2.5.5 2.3.5 1.5.5 4.2.5-4.2.5-5.7.5-2.4.5 4.9.5 1.3.5 7 .5-5.9.5 1 .5-2.1.5.7.5.5.5 9 .5-4 .5-5.9.5.8.5-1.3.5 8.7.5-6.9.5-2 .5 5.3.5 8.5.5-13.5.5 3.1.5.7.5 2.3.5 7.1.5-12.6.5 8.7.5-10.2.5 1.3.5 5.3.5 4.7.5-.4.5-12.9.5-.5.5 10.2.5-13.3.5 5.7.5-1.1.5 1.5.5-6.9.5-.8.5 4.3.5-6.2.5 4.2.5 8.1.5-10 .5 3.4" stroke="#0070C0"/>
</g>
<g clip-path="url(#cb)" fill="none" stroke-width="8.8" stroke-linejoin="round" stroke-linecap="round" shape-rendering="crispEdges">
<path d="M369,2364.3l5.5-1 5.5-3.3 5.5 3.6 5.5-4.6 5.5 3.8 5.4 1.6 5.5-2.8 5.5 1.8 5.5.9 5.5-1.7 5.5-1.2 5.5 1.7 5.5-4.2 5.5 3.5 5.4-2.6 5.5 2.2 5.5 1.6 5.5-2.2 5.5-1.6 5.5 1.3 5.5-1.1 5.5 3.4 5.5-.2 5.5.1 5.4-2.4 5.5-2.4 5.5 3.1 5.5-2.9 5.5 4.6 5.5-.8 5.5-2.9 5.5-.8 5.5 0 5.5 4.1 5.5-2.6 5.4 1.9 5.5-3.3 5.5 1.1 5.5-.8 5.5-.6 5.5-1.4 5.5 3.4 5.5-3.5 5.5 4.5 5.4-3.8 5.5 4.9 5.5-4 5.5-1.2 5.5 2.2 5.5 1.2 5.5-3.1 5.5 0 5.5.6 5.5 2.3 5.5-1.2 5.4 3.3 5.5-3.5 5.5 1.3 5.5-2.4 5.5 4.1 5.5-3 5.5 1.9 5.5-1.8 5.5-4.3 5.4 1.1 5.5.5 5.5 1.5 5.5 1.3 5.5.1 5.5-3.8 5.5-3.2 5.5 1 5.5 2.8 5.5-5.5 5.5 4 5.4.2 5.5-4 5.5-1 5.5.8 5.5-7.6 5.5 1.2 5.5-4.9 5.5-4.7 5.5-11.4 5.5-25.2 5.4-29.4 5.5-37.1 5.5-40.6 5.5-29.8 1.4-2.5 4.1 6.3 5.5 25 5.5 27.9 5.5 16.7 5.5 1.3 5.4.5 5.5 12.4 5.5 22.7 5.5 25.8 5.5 14.4 5.5 17.4 5.5 6 5.5 3.1 5.5 7.1 5.5 2.5 5.5-4.9 5.4 2.9 5.5 4 5.5-2.4 5.5 4 5.5-4.3 5.5 5.6 5.5 0 5.5-.4 5.5-2.2 5.4-1.3 5.5 4.3 5.5-3.2 5.5 2.5 5.5-.2 5.5-1.4 5.5 2.9 5.5-3.1 5.5 2.2 5.5.9 5.4-3.5 5.5.2 5.5 2.1 5.5-7.7 5.5-2.1 5.5-4 5.5-12.3 5.5-14.8 5.5-14.9 5.5-19.5 5.5-10.3 0 0 5.4 4.8 5.5 14.8 5.5 12.2 5.5 4.7 5.5-2.3 5.5 6.9 5.5.9 5.5 12.6 5.5 12.3 5.4 10.3 5.5 3.9 5.5 3.8 5.5 4.8 5.5-.8 5.5-2.3 5.5.4 5.5 2.1 5.5 2.3 5.5-2.7 5.5 5.5 5.4-4.1 5.5.3 5.5 3.7 5.5-1.3 5.5-.2 5.5-2.3 5.5 1.4 5.5 2.3 5.5-3.6 5.4 2.2 5.5-1.9 5.5 2.8 5.5.2 5.5.1 5.5 1.1 5.5-3.8 5.5.7 5.5 1.8 5.5-1.4 5.5-.5 5.4-1.7 5.5 5.3 5.5.3 5.5-5 5.5-.4 5.5 1.4 5.5 1.3 5.5-2.7 5.5.5 5.5 5.1 5.4-3.9 5.5-.7 5.5 3.5 5.5-3.5 5.5-.6 5.5 2.7 5.5.5 5.5-1.1 5.5-1.4 5.4 1 5.5-2.1 5.5 3.2 5.5 1.1 5.5 1.1 5.5-3.6" stroke="#E00000"/>
<path d="M369,2254.8l5.5-1.7 5.5 2 5.5-1.8 5.5-3 5.5.3 5.4 1.4 5.5-1.8 5.5 1.9 5.5-2.7 5.5 1.6 5.5 3 5.5-2.8 5.5.5 5.5-.4 5.4 2 5.5-3.1 5.5 3.2 5.5-.7 5.5.3 5.5-.2 5.5.5 5.5-3.7 5.5.5 5.5 4.1 5.4-3.6 5.5 3.2 5.5-3.7 5.5 1.5 5.5-.9 5.5-1.5 5.5-.2 5.5.6 5.5 2.5 5.5 1.2 5.5-3.2 5.4.3 5.5-2.4 5.5 0 5.5 4.4 5.5-1.5 5.5-2 5.5 1.8 5.5-3.5 5.5 6 5.4-2.6 5.5-2.9 5.5-.7 5.5 2.7 5.5 1.6 5.5-2.3 5.5 1.7 5.5-2.6 5.5 2.2 5.5.9 5.5-2.7 5.4-1.3 5.5 1.6 5.5-.8 5.5 0 5.5.1 5.5 3.1 5.5-2.6 5.5-3.5 5.5 2 5.4-2.1 5.5-1.5 5.5 5.4 5.5-5 5.5.9 5.5 2.4 5.5-2.4 5.5-2.9 5.5-1.3 5.5-4.5 5.5.6 5.4-6.7 5.5-3.9 5.5-14.1 5.5-18.1 5.5-22.5 5.5-41.6 5.5-39.1 5.5-31.7 1.9-4.2 3.6 4.4 5.5 26.6 5.4 27.8 5.5 10.4 5.5 4.1 5.5.6 5.5 15.2 5.5 22.2 5.5 20.9 5.5 23 5.5 9.8 5.4 11.3 5.5 4.9 5.5-.5 5.5 5.5 5.5-3.4 5.5 3.2 5.5 1.3 5.5.4 5.5 3.2 5.5-4.2 5.5 6.2 5.4-5.3 5.5 2.7 5.5-.3 5.5.5 5.5 1.1 5.5 1.7 5.5-1.1 5.5-1.7 5.5 2.2 5.4-3.1 5.5.7 5.5 4.2 5.5-.5 5.5-5 5.5 1.8 5.5 2.2 5.5-3.1 5.5-.9 5.5-2.3 5.4-.7 5.5-7 5.5-1.3 5.5-17.2 5.5-15.5 5.5-18.3 5.5-17.3 4.1-6.4 1.4-.3 5.5 8 5.5 14.1 5.5 13 5.4 4.5 5.5-1.6 5.5 4.6 5.5 7 5.5 12.9 5.5 9.4 5.5 6.1 5.5 3.9 5.5 8.5 5.4.2 5.5 1.1 5.5 1.6 5.5-.5 5.5 3.1 5.5-.7 5.5-.2 5.5-3.6 5.5 3.8 5.5-2.4 5.5-.3 5.4.6 5.5 1.8 5.5.8 5.5-1.2 5.5 1.1 5.5.4 5.5-.3 5.5 2.1 5.5-3.5 5.4 1.4 5.5 2.2 5.5-1.8 5.5 1.8 5.5-2.8 5.5-.2 5.5-2.7 5.5 5.3 5.5-2.7 5.5-1.4 5.5 3.6 5.4-1.4 5.5-.8 5.5 3.1 5.5-2.2 5.5-2.9 5.5 0 5.5 0 5.5 5.8 5.5-4.2 5.5-.5 5.4 2.8 5.5.5 5.5-2.9 5.5 2.2 5.5-3.7 5.5 3.9 5.5-3.5 5.5 1 5.5 2.1 5.4-2.1 5.5-1.2 5.5 1.1 5.5 2.9 5.5 1 5.5-3" stroke="#FF0000"/>
<path d="M369,2143.9l5.5.7 5.5 1.5 5.5 1.3 5.5-3.1 5.5-1.9 5.4 3.4 5.5-2.8 5.5 5.2 5.5-3.2 5.5 2.1 5.5-2 5.5-.8 5.5-1.6 5.5 2.1 5.4-2.3 5.5 3.5 5.5 1.2 5.5-2.2 5.5-1.7 5.5 0 5.5 4.3 5.5-1.5 5.5 0 5.5-1.5 5.4-2.6 5.5 3.8 5.5 1.4 5.5-5.6 5.5.1 5.5.6 5.5 4.6 5.5-1.4 5.5.4 5.5-4.8 5.5 5 5.4-.1 5.5-.7 5.5-3.7 5.5 3.7 5.5-5.1 5.5 4.2 5.5-2.3 5.5 2.9 5.5-.8 5.4-3.8 5.5-1 5.5 4.8 5.5-.8 5.5 1.7 5.5-1.1 5.5-1.3 5.5-1.1 5.5-.6 5.5 1.3 5.5.9 5.4-2.8 5.5 1 5.5-.3 5.5-4.4 5.5 2 5.5 3.2 5.5-6.7 5.5-.8 5.5 2.9 5.4-4.8 5.5 4.3 5.5-6.8 5.5 2.8 5.5-7.3 5.5-2.7 5.5-7.7 5.5-5.4 5.5-17.8 5.5-25.8 5.5-29.1 5.4-41.4 5.5-34.5 2.8-6.4 2.7 2.2 5.5 23.9 5.5 26.2 5.5 14.6 5.5 4.7 5.5-.8 5.5 12.8 5.5 20.6 5.4 20 5.5 21.2 5.5 14 5.5 8.3 5.5 1.6 5.5 1.5 5.5 5.4 5.5 4.8 5.5.1 5.4-2.1 5.5.1 5.5 4.4 5.5-1.2 5.5 3.2 5.5-2.9 5.5-1.1 5.5 1.9 5.5-1.7 5.5 3.7 5.5-2.7 5.4 1.3 5.5-.8 5.5 3.4 5.5-2.4 5.5-1.2 5.5 2.6 5.5-2.1 5.5 3.4 5.5-2.6 5.4-3.5 5.5 1.7 5.5.6 5.5-2.9 5.5.5 5.5.2 5.5-.8 5.5-6.1 5.5-3.4 5.5-8.8 5.4-13.7 5.5-18.1 5.5-21.8 5.5-15.8 1.9-1.7 3.6 1.8 5.5 12.8 5.5 14.3 5.5 7.7 5.5 4.2 5.5-3.4 5.5 6.7 5.4 12.3 5.5 10.6 5.5 8 5.5 6.7 5.5 6.4 5.5 1.7 5.5 2.2 5.5 4 5.5.5 5.4.3 5.5 3.2 5.5-3 5.5.6 5.5-1.2 5.5 3.2 5.5-3.9 5.5 1.7 5.5 1.1 5.5 2.4 5.5-4.5 5.4 1.7 5.5.4 5.5 2.9 5.5.1 5.5 0 5.5-4.6 5.5 3.1 5.5-1.6 5.5.1 5.4-.7 5.5 3.4 5.5.6 5.5-4.9 5.5 5.3 5.5-5.5 5.5 3.9 5.5 2.4 5.5-1.7 5.5-3 5.5 2.3 5.4 1.8 5.5.4 5.5.2 5.5-3.4 5.5 1.4 5.5-2 5.5 3.5 5.5-1 5.5-1.7 5.5 1.5 5.4-2.4 5.5 2.8 5.5-3.1 5.5.5 5.5 1.7 5.5-1.9 5.5 2.3 5.5-3.7 5.5 1.2 5.4 2.9 5.5-3.6 5.5 1.4 5.5-1.5 5.5 1 5.5-1.3" stroke="#FFC000"/>
<path d="M369,2035.5l5.5-4.9 5.5 1.6 5.5 2.5 5.5-3.7 5.5 1.2 5.4-1.5 5.5 1.4 5.5-.7 5.5-.4 5.5 2.8 5.5 1.6 5.5-5.2 5.5 5 5.5-2.8 5.4-2.8 5.5 4.1 5.5.6 5.5-.8 5.5 1.1 5.5-3.5 5.5 2.9 5.5 1.4 5.5-3.4 5.5 2.2 5.4.5 5.5 1 5.5-5.3 5.5 2.9 5.5-1.4 5.5.7 5.5-2.5 5.5 5.1 5.5-3.7 5.5-1.3 5.5 3.5 5.4-1.1 5.5.6 5.5 0 5.5-4 5.5 4.5 5.5-3.4 5.5 4.4 5.5-4.8 5.5 4.4 5.4-4.7 5.5 4.5 5.5-1.1 5.5-.5 5.5-.3 5.5-3.4 5.5 1.5 5.5 2.6 5.5-1.2 5.5-1.9 5.5-2.3 5.4-.1 5.5.3 5.5-2.9 5.5-1.8 5.5-1.2 5.5-1.8 5.5-1.5 5.5-3.1 5.5-2 5.4-5.6 5.5-8.6 5.5-13.9 5.5-26.3 5.5-30.4 5.5-42.1 5.5-30.6 2.7-6.4 2.8 1.5 5.5 22.6 5.5 28.8 5.5 11.6 5.4 3.7 5.5-.3 5.5 11.9 5.5 22.5 5.5 22.1 5.5 16.1 5.5 11.9 5.5 9.2 5.5 7.3 5.5 4 5.4-3 5.5 1.6 5.5 1.7 5.5 3.7 5.5 3.7 5.5-.3 5.5-1.6 5.5-1.6 5.5 1.5 5.4 4.1 5.5-4.9 5.5 2 5.5 1.5 5.5-2 5.5 2.4 5.5-.7 5.5 3.4 5.5-.3 5.5-5.5 5.5 3.3 5.4-2.4 5.5 2.6 5.5-.3 5.5 1.7 5.5-5.3 5.5 3.9 5.5-3.7 5.5 3.3 5.5-1.4 5.4.5 5.5-5.3 5.5-3.7 5.5-2.2 5.5-7.3 5.5-9.1 5.5-20.9 5.5-15.4 5.5-18.8 4.1-6.4 1.4-.1 5.4 8.7 5.5 12.6 5.5 12.9 5.5 4.8 5.5-1.7 5.5 1.6 5.5 6.1 5.5 13.5 5.5 7.3 5.5 9 5.5 4 5.4 4.9 5.5 3.8 5.5-.3 5.5.5 5.5 3.3 5.5 1 5.5-.6 5.5-1.2 5.5 3.4 5.4-1.7 5.5 1.5 5.5-4.9 5.5 3.2 5.5-.6 5.5 2.8 5.5-1.9 5.5-3.2 5.5.9 5.5-.4 5.5 4.9 5.4-4.5 5.5.4 5.5 2.8 5.5.3 5.5-3.6 5.5 3.9 5.5.3 5.5-2.4 5.5.9 5.4.5 5.5.1 5.5-1.8 5.5-.1 5.5 1.8 5.5-3.1 5.5 4.3 5.5 0 5.5-.7 5.5 2.5 5.5-3.2 5.4.2 5.5 1.3 5.5-1.1 5.5-.2 5.5-.6 5.5.2 5.5 1.3 5.5-.1 5.5-3.2 5.5 5.1 5.4-5.2 5.5 4.8 5.5-.2 5.5-1.7 5.5-3.5 5.5 4.9 5.5 1.1 5.5-4.5 5.5 1.6 5.4 2.4 5.5-4.8 5.5 2 5.5-.6 5.5 3.6 5.5-3.2" stroke="#70D040"/>
<path d="M369,1922.6l5.5 2 5.5-3.2 5.5 2.9 5.5-2.3 5.5 1 5.4-2.4 5.5 3.5 5.5-5.2 5.5 5.7 5.5 0 5.5-3.9 5.5-2 5.5.7 5.5.2 5.4 4.3 5.5-.3 5.5-.6 5.5.3 5.5.4 5.5-.9 5.5-.5 5.5.3 5.5-3.1 5.5-.2 5.4 4.4 5.5-2.5 5.5-1.4 5.5 4.4 5.5-5.9 5.5 2.4 5.5.7 5.5.2 5.5-3.3 5.5 2.3 5.5.5 5.4-3.4 5.5 4.9 5.5-2 5.5-3.1 5.5.4 5.5.2 5.5-.7 5.5 4.3 5.5-3.7 5.4.6 5.5-3.8 5.5-.7 5.5 2.6 5.5-4.1 5.5 1.3 5.5-2.1 5.5-3.8 5.5-2.6 5.5-.7 5.5 2.7 5.4-.3 5.5-7.2 5.5.1 5.5-4.7 5.5-8.9 5.5-15.2 5.5-20.1 5.5-29.3 5.5-35 5.4-34.2 5.5-17.1 0 .1 5.5 5.9 5.5 21.8 5.5 17.8 5.5 11.5 5.5 7.6 5.5 10 5.5 15.2 5.5 22 5.5 17.6 5.4 16.8 5.5 15.7 5.5 6.5 5.5 2.3 5.5 6.8 5.5-1.9 5.5 2.6 5.5 3.5 5.5-.5 5.5-2.8 5.4 5.5 5.5-1.9 5.5-3 5.5 4.8 5.5-3 5.5 2.6 5.5-3.2 5.5 0 5.5 1.4 5.4 3.5 5.5-4.7 5.5 3.8 5.5-3 5.5.8 5.5.2 5.5 1.3 5.5-2.7 5.5-2 5.5-1 5.5-3.2 5.4 1.1 5.5 1.7 5.5-.8 5.5 2.2 5.5-4.2 5.5-.6 5.5-6.7 5.5 3.1 5.5-10.6 5.4-4.2 5.5-14.8 5.5-13.9 5.5-15.4 5.5-10.7 2.5-2.5 3-.1 5.5 6.5 5.5 7.6 5.5 7.7 5.5 3.6 5.4 4.1 5.5 4.6 5.5 11.5 5.5 8.1 5.5 5.7 5.5 11.3 5.5 1.7 5.5 5.2 5.5 2.2 5.5 3 5.5-1.9 5.4 4.5 5.5-.6 5.5 2.1 5.5-1.9 5.5 2.8 5.5-2.7 5.5.4 5.5 2.7 5.5.3 5.4-1.7 5.5-3.3 5.5 2.8 5.5-.6 5.5 2.8 5.5-3.6 5.5 4.5 5.5-5.7 5.5 2.4 5.5 1.4 5.5-3 5.4 4.4 5.5-1 5.5-2.8 5.5-.4 5.5 3.7 5.5.8 5.5-3.3 5.5 1.5 5.5-2.7 5.4-.6 5.5 0 5.5 2.2 5.5-2.1 5.5 1.6 5.5 3.2 5.5-4.6 5.5 5.8 5.5-3.2 5.5 2 5.5-2.7 5.4.8 5.5-.2 5.5-1.5 5.5 2.7 5.5-.6 5.5-2.7 5.5 3.4 5.5 1.2 5.5-2 5.5.3 5.4-.4 5.5-.2 5.5 1.3 5.5-.4 5.5-3.2 5.5 1.9 5.5-1.4 5.5 4.7 5.5-3.1 5.4 2.9 5.5-.4 5.5-3 5.5-.5 5.5.7 5.5 1.5" stroke="#00B050"/>
<path d="M369,1791.9l5.5-3 5.5 1.9 5.5.4 5.5-3.5 5.5 6.2 5.4-7.8 5.5 4.7 5.5 4.3 5.5-6.6 5.5 5.2 5.5-7.8 5.5 3 5.5 4.9 5.5-7.9 5.4 6.6 5.5-6.6 5.5 9.7 5.5-3.1 5.5-3.4 5.5 3.5 5.5-.6 5.5 2.3 5.5-5.3 5.5-2.6 5.4 5.5 5.5-3.8 5.5 1.3 5.5-1.8 5.5-3.2 5.5 4.6 5.5 1.7 5.5-1.3 5.5-2.6 5.5-3.1 5.5-.1 5.4 6.8 5.5 2 5.5-9.1 5.5 7.3 5.5-5.3 5.5 5.1 5.5-4.4 5.5-3.2 5.5-3.6 5.4 4.3 5.5-3.2 5.5-7.1 5.5-.8 5.5.1 5.5-6.5 5.5-3.2 5.5-8.6 5.5-1.6 5.5 2.9 5.5-9 5.4-11.4 5.5-15.4 5.5-22.2 5.5-31.9 5.5-40.6 5.5-44.2 5.5-24.5 1.4-2.2 4.1 3.6 5.5 22.5 5.4 25.5 5.5 18.4 5.5 7.9 5.5 4.1 5.5 23.3 5.5 24.5 5.5 23.8 5.5 21.5 5.5 6.9 5.5 11.6 5.5 6.2 5.4 12.1 5.5-4.9 5.5.6 5.5 6.2 5.5-.3 5.5-1.8 5.5 1.7 5.5.5 5.5-.9 5.5-2.4 5.4.4 5.5-.9 5.5.8 5.5 6.6 5.5-4.5 5.5 4 5.5-3.1 5.5 1.8 5.5-5.7 5.4 4.6 5.5-.2 5.5 1.7 5.5-2.3 5.5-1.1 5.5 4.7 5.5-9.1 5.5 4.1 5.5 2.2 5.5-7.4 5.5 6.2 5.4-8.7 5.5.5 5.5-9.6 5.5 4.6 5.5-13.1 5.5-2.2 5.5-7.4 5.5-6.3 5.5-10.2 5.4-9.7 3.3-1.3 2.2 0 5.5 7 5.5 8.3 5.5 8.4 5.5 10 5.5 1.5 5.5 8.6 5.5 7.2 5.5 8.7 5.4-1.6 5.5 11.5 5.5 5.4 5.5 0 5.5 7.5 5.5 2.9 5.5 1 5.5-.2 5.5-1.2 5.5.9 5.5-2 5.4 1.4 5.5-5.6 5.5 4 5.5-3.5 5.5 3.2 5.5.3 5.5-4.4 5.5 9.6 5.5-9 5.4.7 5.5 8.5 5.5.3 5.5-3.2 5.5.8 5.5-3.8 5.5 3.3 5.5-4 5.5 2.3 5.5 1.5 5.5 1.2 5.4-4.2 5.5 4.9 5.5-3.2 5.5 3 5.5-4.6 5.5-.2 5.5 2.1 5.5-3.1 5.5.4 5.4 7.1 5.5-5.5 5.5.8 5.5-.8 5.5 1.2 5.5-4 5.5 1.2 5.5 0 5.5 6.8 5.5-3.2 5.5 1.8 5.4-7.6 5.5 4.2 5.5 4.9 5.5-6.6 5.5 7.3 5.5-4.1 5.5 2.5 5.5.2 5.5-5.7 5.5-2.6 5.4 7.2 5.5.1 5.5-7.7 5.5.6 5.5 1.1 5.5.5 5.5 6 5.5 1.5 5.5-1 5.4-4.3 5.5 5.6 5.5-6.9 5.5 6.8 5.5-9.8 5.5 2.6" stroke="#00B0F0"/>
<path d="M369,1638.1l5.5-3.1 5.5-4.4 5.5-1.1 5.5-.6 5.5-.8 5.4 8.1 5.5-.8 5.5-2.8 5.5-1.3 5.5 4.7 5.5-5.7 5.5 4.8 5.5-4.2 5.5.4 5.4 3.4 5.5-1.2 5.5-2.8 5.5 1.3 5.5 2.6 5.5-6.6 5.5 6 5.5.3 5.5 2.1 5.5-8.9 5.4 2.5 5.5.2 5.5 1.4 5.5 3 5.5 1.5 5.5-6.2 5.5-3.4 5.5-2.8 5.5 8.1 5.5-1.2 5.5-1.9 5.4-2.8 5.5-8.3 5.5-1.2 5.5-3.2 5.5 3 5.5 1 5.5-8.6 5.5-4.1 5.5 2.8 5.4-11.7 5.5-20.9 5.5-30 5.5-32.5 5.5-23.3 3.3-7.4 2.2-1.9 5.5 2.6 5.5 4.4 5.5 7.9 5.5 7.8 3.3 2.2 2.2 2.9 5.4 8.4 5.5 12.7 5.5 13.1 3.3 9.9 2.2 6 5.5 16.7 5.5 20.4 5.5 8.1 5.5 13.7 5.5 12.7 5.4-4.1 5.5 2.8 5.5.2 5.5 2 5.5 2.1 5.5-3.2 5.5 1.1 5.5 6.4 5.5-3.9 5.5-.2 5.5 1.9 5.4-3.9 5.5 4.4 5.5-7 5.5 3.1 5.5 4.6 5.5-1.6 5.5 1.8 5.5-3.3 5.5 1 5.5 1.8 5.4-.4 5.5-.4 5.5-6.8 5.5 8.6 5.5-8.4 5.5 7.3 5.5-1.2 5.5 2.9 5.5-4.6 5.4-3.7 5.5 2.6 5.5 6.6 5.5-5.1 5.5 4 5.5.1 5.5-.7 5.5-5.1 5.5 4.7 5.5-6.2 5.5 3.5 5.4 3.1 5.5 1.4 5.5-8.1 5.5 3.3 5.5-3.5 5.5 6.6 5.5-4.8 5.5-2 5.5 3.6 5.4-5 5.5 3.5 5.5 3.2 5.5-5.5 5.5 2.9 5.5-1 5.5-2.2 5.5-.1 5.5 4.5 5.5-.8 5.4-4 5.5 1.2 5.5 6.1 5.5-7.5 5.5 2 5.5 2.9 5.5 3.3 5.5-6.7 5.5 1.6 5.5.6 5.5 1.1 5.4-3.8 5.5 3.3 5.5-1.8 5.5 3.9 5.5 3.1 5.5-1.4 5.5 1.7 5.5-7.4 5.5 5.7 5.4 1.1 5.5-8.4 5.5 2.6 5.5 6.1 5.5 0 5.5-7.2 5.5-2.3 5.5 1.9 5.5.5 5.5 1.6 5.5 3.8 5.4-8 5.5.1 5.5 3.5 5.5 6 5.5-8.8 5.5 3.3 5.5-2.5 5.5 5.2 5.5 3 5.4-9.3 5.5 7.6 5.5-7.5 5.5 3.6 5.5-1.1 5.5-.6 5.5-1.2 5.5 8.7 5.5-.7 5.5-5.4 5.5 4.3 5.4-4.5 5.5-2.6 5.5 2.2 5.5 4.5 5.5-6 5.5-1.1 5.5 4.8 5.5 1.7 5.5-3.2 5.5 2.9 5.4-1.7 5.5.3 5.5 3.4 5.5-6.5 5.5 3.5 5.5-2.6 5.5 1.8 5.5.4 5.5-4 5.4 6.3 5.5-3 5.5 4.1 5.5-5.8 5.5 4 5.5-3.9" stroke="#0070C0"/>
</g>
<g fill="#000" shape-rendering="crispEdges">
<rect x="255" y="56" width="7" height="1067"/>
<rect x="242" y="1104" width="1518" height="6"/>
<rect x="242" y="1104" width="14" height="6.5"/>
<rect x="242" y="894" width="14" height="6.5"/>
<rect x="242" y="684" width="14" height="6.5"/>
<rect x="242" y="473" width="14" height="6.5"/>
<rect x="242" y="263" width="14" height="6.5"/>
<rect x="242" y="53" width="14" height="6.5"/>
<rect x="255.0" y="1107" width="7" height="16"/>
<rect x="505.0" y="1107" width="7" height="16"/>
<rect x="755.0" y="1107" width="7" height="16"/>
<rect x="1005.0" y="1107" width="7" height="16"/>
<rect x="1255.0" y="1107" width="7" height="16"/>
<rect x="1505.0" y="1107" width="7" height="16"/>
<rect x="1755.0" y="1107" width="7" height="16"/>
<rect x="366" y="1368" width="6" height="1081"/>
<rect x="353" y="2429" width="1116" height="6"/>
<rect x="353" y="2429" width="14" height="6.5"/>
<rect x="353" y="2216" width="14" height="6.5"/>
<rect x="353" y="2004" width="14" height="6.5"/>
<rect x="353" y="1791" width="14" height="6.5"/>
<rect x="353" y="1578" width="14" height="6.5"/>
<rect x="353" y="1366" width="14" height="6.5"/>
<rect x="366.0" y="2432" width="6" height="17"/>
<rect x="640.5" y="2432" width="6" height="17"/>
<rect x="915.0" y="2432" width="6" height="17"/>
<rect x="1189.5" y="2432" width="6" height="17"/>
<rect x="1464.0" y="2432" width="6" height="17"/>
</g>
<g font-family="'Liberation Serif','Times New Roman',Times,serif" font-weight="bold" fill="#000">
<text transform="translate(214.5,1124.3) scale(1.035,1)" font-size="52.3" text-anchor="end">0</text>
<text transform="translate(214.5,914.1) scale(1.035,1)" font-size="52.3" text-anchor="end">20</text>
<text transform="translate(214.5,703.9) scale(1.035,1)" font-size="52.3" text-anchor="end">40</text>
<text transform="translate(214.5,493.7) scale(1.035,1)" font-size="52.3" text-anchor="end">60</text>
<text transform="translate(214.5,283.5) scale(1.035,1)" font-size="52.3" text-anchor="end">80</text>
<text transform="translate(214.5,73.3) scale(1.035,1)" font-size="52.3" text-anchor="end">100</text>
<text transform="translate(259.0,1185.5) scale(1.035,1)" font-size="52.3" text-anchor="middle">20</text>
<text transform="translate(509.0,1185.5) scale(1.035,1)" font-size="52.3" text-anchor="middle">30</text>
<text transform="translate(759.0,1185.5) scale(1.035,1)" font-size="52.3" text-anchor="middle">40</text>
<text transform="translate(1009.0,1185.5) scale(1.035,1)" font-size="52.3" text-anchor="middle">50</text>
<text transform="translate(1259.0,1185.5) scale(1.035,1)" font-size="52.3" text-anchor="middle">60</text>
<text transform="translate(1509.0,1185.5) scale(1.035,1)" font-size="52.3" text-anchor="middle">70</text>
<text transform="translate(1759.0,1185.5) scale(1.035,1)" font-size="52.3" text-anchor="middle">80</text>
<text transform="translate(1008.0,1275.0) scale(1.008,1)" font-size="74.3" text-anchor="middle">2 theta (°)</text>
<text transform="translate(110,582.5) rotate(-90)" font-size="74.3" text-anchor="middle">Intensity (arb. units)</text>
<text x="26.0" y="138.7" font-size="64" text-anchor="start">(a)</text>
<text transform="translate(417.4,293.7) scale(1.035,1)" font-size="52.3" text-anchor="middle">SP</text>
<text transform="translate(439.6,437.0) scale(1.035,1)" font-size="52.3" text-anchor="middle">LP+SP</text>
<text transform="translate(420.2,566.0) scale(1.035,1)" font-size="52.3" text-anchor="middle">LP</text>
<text transform="translate(420.2,672.0) scale(1.035,1)" font-size="52.3" text-anchor="middle">LP</text>
<text transform="translate(420.7,793.7) scale(1.035,1)" font-size="52.3" text-anchor="middle">LP</text>
<text transform="translate(422.0,900.7) scale(1.035,1)" font-size="52.3" text-anchor="middle">LP</text>
<text transform="translate(422.0,1006.5) scale(1.035,1)" font-size="52.3" text-anchor="middle">LP</text>
<text transform="translate(1186.7,278.6) scale(1.035,1)" font-size="52.3">1200<tspan x="114.3" dy="-15.8" font-size="36.6">o</tspan><tspan x="131.8" dy="15.8">C</tspan></text>
<text transform="translate(1211.0,433.5) scale(1.035,1)" font-size="52.3">1100<tspan x="114.3" dy="-15.8" font-size="36.6">o</tspan><tspan x="131.8" dy="15.8">C</tspan></text>
<text transform="translate(1214.0,566.0) scale(1.035,1)" font-size="52.3">1000<tspan x="114.3" dy="-15.8" font-size="36.6">o</tspan><tspan x="131.8" dy="15.8">C</tspan></text>
<text transform="translate(1228.0,682.8) scale(1.035,1)" font-size="52.3">900<tspan x="88.1" dy="-15.8" font-size="36.6">o</tspan><tspan x="105.6" dy="15.8">C</tspan></text>
<text transform="translate(1228.0,798.2) scale(1.035,1)" font-size="52.3">800<tspan x="88.1" dy="-15.8" font-size="36.6">o</tspan><tspan x="105.6" dy="15.8">C</tspan></text>
<text transform="translate(1223.0,903.5) scale(1.035,1)" font-size="52.3">700<tspan x="88.1" dy="-15.8" font-size="36.6">o</tspan><tspan x="105.6" dy="15.8">C</tspan></text>
<text transform="translate(1235.0,1007.0) scale(1.035,1)" font-size="52.3">600<tspan x="88.1" dy="-15.8" font-size="36.6">o</tspan><tspan x="105.6" dy="15.8">C</tspan></text>
<text transform="translate(324.5,2449.3) scale(1.035,1)" font-size="52.3" text-anchor="end">0</text>
<text transform="translate(324.5,2236.6) scale(1.035,1)" font-size="52.3" text-anchor="end">20</text>
<text transform="translate(324.5,2023.9) scale(1.035,1)" font-size="52.3" text-anchor="end">40</text>
<text transform="translate(324.5,1811.2) scale(1.035,1)" font-size="52.3" text-anchor="end">60</text>
<text transform="translate(324.5,1598.5) scale(1.035,1)" font-size="52.3" text-anchor="end">80</text>
<text transform="translate(324.5,1385.8) scale(1.035,1)" font-size="52.3" text-anchor="end">100</text>
<text transform="translate(368.5,2512.0) scale(1.035,1)" font-size="52.3" text-anchor="middle">44</text>
<text transform="translate(643.0,2512.0) scale(1.035,1)" font-size="52.3" text-anchor="middle">45</text>
<text transform="translate(917.5,2512.0) scale(1.035,1)" font-size="52.3" text-anchor="middle">46</text>
<text transform="translate(1192.0,2512.0) scale(1.035,1)" font-size="52.3" text-anchor="middle">47</text>
<text transform="translate(1466.5,2512.0) scale(1.035,1)" font-size="52.3" text-anchor="middle">48</text>
<text transform="translate(917.5,2600.7) scale(1.008,1)" font-size="74.3" text-anchor="middle">2 theta (°)</text>
<text transform="translate(219,1898) rotate(-90)" font-size="74.3" text-anchor="middle">Intensity (arb. units)</text>
<text transform="translate(75.0,1455.4) scale(1.01,1)" font-size="64" text-anchor="start">(b)</text>
<text transform="translate(493.5,1597.6) scale(1.035,1)" font-size="52.3" text-anchor="middle">SP</text>
<text transform="translate(506.3,1755.2) scale(1.035,1)" font-size="52.3" text-anchor="middle">LP+SP</text>
<text transform="translate(490.7,1877.5) scale(1.035,1)" font-size="52.3" text-anchor="middle">LP</text>
<text transform="translate(490.7,2000.0) scale(1.035,1)" font-size="52.3" text-anchor="middle">LP</text>
<text transform="translate(490.7,2110.9) scale(1.035,1)" font-size="52.3" text-anchor="middle">LP</text>
<text transform="translate(490.7,2219.0) scale(1.035,1)" font-size="52.3" text-anchor="middle">LP</text>
<text transform="translate(490.7,2327.0) scale(1.035,1)" font-size="52.3" text-anchor="middle">LP</text>
<text transform="translate(1482.0,1641.4) scale(1.035,1)" font-size="52.3">1200<tspan x="116.6" dy="-15.8" font-size="36.6">o</tspan><tspan x="134.6" dy="15.8">C</tspan></text>
<text transform="translate(1484.0,1806.4) scale(1.035,1)" font-size="52.3">1100<tspan x="116.6" dy="-15.8" font-size="36.6">o</tspan><tspan x="134.6" dy="15.8">C</tspan></text>
<text transform="translate(1484.0,1939.0) scale(1.035,1)" font-size="52.3">1000<tspan x="116.6" dy="-15.8" font-size="36.6">o</tspan><tspan x="134.6" dy="15.8">C</tspan></text>
<text transform="translate(1495.0,2049.4) scale(1.035,1)" font-size="52.3">900<tspan x="90.4" dy="-15.8" font-size="36.6">o</tspan><tspan x="108.4" dy="15.8">C</tspan></text>
<text transform="translate(1497.0,2162.0) scale(1.035,1)" font-size="52.3">800<tspan x="90.4" dy="-15.8" font-size="36.6">o</tspan><tspan x="108.4" dy="15.8">C</tspan></text>
<text transform="translate(1495.0,2263.3) scale(1.035,1)" font-size="52.3">700<tspan x="90.4" dy="-15.8" font-size="36.6">o</tspan><tspan x="108.4" dy="15.8">C</tspan></text>
<text transform="translate(1497.0,2371.8) scale(1.035,1)" font-size="52.3">600<tspan x="90.4" dy="-15.8" font-size="36.6">o</tspan><tspan x="108.4" dy="15.8">C</tspan></text>
</g>
</svg>
</body></html>
